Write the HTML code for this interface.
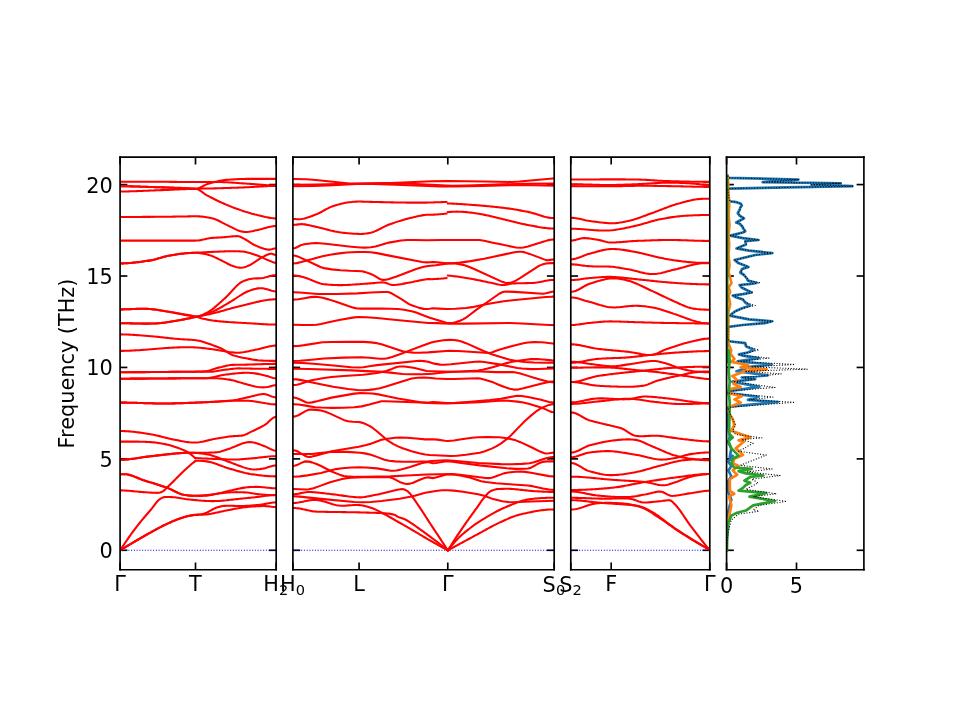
<!DOCTYPE html>
<html><head><meta charset="utf-8"><style>html,body{margin:0;padding:0;background:#fff;}svg{display:block;}</style></head><body>
<svg width="960" height="720" viewBox="0 0 460.8 345.6" version="1.1">
 
 <defs>
  <style type="text/css">*{stroke-linejoin: round; stroke-linecap: butt}</style>
 </defs>
 <g id="figure_1">
  <g id="patch_1">
   <path d="M 0 345.6 
L 460.8 345.6 
L 460.8 0 
L 0 0 
z
" style="fill: #ffffff"/>
  </g>
  <g id="axes_1">
   <g id="patch_2">
    <path d="M 57.64 273.50 
L 132.57 273.50 
L 132.57 75.45 
L 57.64 75.45 
z
" style="fill: #ffffff"/>
   </g>
   <g id="matplotlib.axis_1">
    <g id="xtick_1">
     <g id="line2d_1">
      
      <g>
       <path d="M 0 0 L 0 -3.5" transform="translate(57.64 273.50)" style="stroke: #000000; stroke-width: 0.8"/>
      </g>
     </g>
     <g id="line2d_2">
      
      <g>
       <path d="M 0 0 L 0 3.5" transform="translate(57.64 75.45)" style="stroke: #000000; stroke-width: 0.8"/>
      </g>
     </g>
     <g id="text_1">
      
      <g transform="translate(54.84 284.60)">
       <text>
        <tspan x="0" y="-0.70" style="font-size: 10px; font-family: 'DejaVu Sans', sans-serif">Γ</tspan>
       </text>
      </g>
     </g>
    </g>
    <g id="xtick_2">
     <g id="line2d_3">
      <g>
       <path d="M 0 0 L 0 -3.5" transform="translate(93.84 273.50)" style="stroke: #000000; stroke-width: 0.8"/>
      </g>
     </g>
     <g id="line2d_4">
      <g>
       <path d="M 0 0 L 0 3.5" transform="translate(93.84 75.45)" style="stroke: #000000; stroke-width: 0.8"/>
      </g>
     </g>
     <g id="text_2">
      
      <g transform="translate(90.74 284.60)">
       <text>
        <tspan x="0" y="-0.70" style="font-size: 10px; font-family: 'DejaVu Sans', sans-serif">T</tspan>
       </text>
      </g>
     </g>
    </g>
    <g id="xtick_3">
     <g id="line2d_5">
      <g>
       <path d="M 0 0 L 0 -3.5" transform="translate(132.57 273.50)" style="stroke: #000000; stroke-width: 0.8"/>
      </g>
     </g>
     <g id="line2d_6">
      <g>
       <path d="M 0 0 L 0 3.5" transform="translate(132.57 75.45)" style="stroke: #000000; stroke-width: 0.8"/>
      </g>
     </g>
     <g id="text_3">
      
      <g transform="translate(126.37 284.60)">
       <text>
        <tspan x="0" y="-0.70" style="font-size: 10px; font-family: 'DejaVu Sans', sans-serif">H</tspan>
        <tspan x="7.61" y="0.93" style="font-size: 7px; font-family: 'DejaVu Sans', sans-serif">2</tspan>
       </text>
      </g>
     </g>
    </g>
   </g>
   <g id="matplotlib.axis_2">
    <g id="ytick_1">
     <g id="line2d_7">
      
      <g>
       <path d="M 0 0 L 3.5 0" transform="translate(57.64 264.14)" style="stroke: #000000; stroke-width: 0.8"/>
      </g>
     </g>
     <g id="line2d_8">
      
      <g>
       <path d="M 0 0 L -3.5 0" transform="translate(132.57 264.14)" style="stroke: #000000; stroke-width: 0.8"/>
      </g>
     </g>
     <g id="text_4">
      <text style="font-size: 10px; font-family: 'DejaVu Sans', sans-serif; text-anchor: end" x="54.14" y="267.94" transform="rotate(-0 54.14 267.94)">0</text>
     </g>
    </g>
    <g id="ytick_2">
     <g id="line2d_9">
      <g>
       <path d="M 0 0 L 3.5 0" transform="translate(57.64 220.26)" style="stroke: #000000; stroke-width: 0.8"/>
      </g>
     </g>
     <g id="line2d_10">
      <g>
       <path d="M 0 0 L -3.5 0" transform="translate(132.57 220.26)" style="stroke: #000000; stroke-width: 0.8"/>
      </g>
     </g>
     <g id="text_5">
      <text style="font-size: 10px; font-family: 'DejaVu Sans', sans-serif; text-anchor: end" x="54.14" y="224.05" transform="rotate(-0 54.14 224.05)">5</text>
     </g>
    </g>
    <g id="ytick_3">
     <g id="line2d_11">
      <g>
       <path d="M 0 0 L 3.5 0" transform="translate(57.64 176.37)" style="stroke: #000000; stroke-width: 0.8"/>
      </g>
     </g>
     <g id="line2d_12">
      <g>
       <path d="M 0 0 L -3.5 0" transform="translate(132.57 176.37)" style="stroke: #000000; stroke-width: 0.8"/>
      </g>
     </g>
     <g id="text_6">
      <text style="font-size: 10px; font-family: 'DejaVu Sans', sans-serif; text-anchor: end" x="54.14" y="180.17" transform="rotate(-0 54.14 180.17)">10</text>
     </g>
    </g>
    <g id="ytick_4">
     <g id="line2d_13">
      <g>
       <path d="M 0 0 L 3.5 0" transform="translate(57.64 132.49)" style="stroke: #000000; stroke-width: 0.8"/>
      </g>
     </g>
     <g id="line2d_14">
      <g>
       <path d="M 0 0 L -3.5 0" transform="translate(132.57 132.49)" style="stroke: #000000; stroke-width: 0.8"/>
      </g>
     </g>
     <g id="text_7">
      <text style="font-size: 10px; font-family: 'DejaVu Sans', sans-serif; text-anchor: end" x="54.14" y="136.29" transform="rotate(-0 54.14 136.29)">15</text>
     </g>
    </g>
    <g id="ytick_5">
     <g id="line2d_15">
      <g>
       <path d="M 0 0 L 3.5 0" transform="translate(57.64 88.60)" style="stroke: #000000; stroke-width: 0.8"/>
      </g>
     </g>
     <g id="line2d_16">
      <g>
       <path d="M 0 0 L -3.5 0" transform="translate(132.57 88.60)" style="stroke: #000000; stroke-width: 0.8"/>
      </g>
     </g>
     <g id="text_8">
      <text style="font-size: 10px; font-family: 'DejaVu Sans', sans-serif; text-anchor: end" x="54.14" y="92.40" transform="rotate(-0 54.14 92.40)">20</text>
     </g>
    </g>
    <g id="text_9">
     <text style="font-size: 10px; font-family: 'DejaVu Sans', sans-serif; text-anchor: middle" x="35.34" y="174.48" transform="rotate(-90 35.34 174.48)">Frequency (THz)</text>
    </g>
   </g>
   <g id="line2d_17">
    <path d="M 57.64 264.14 
L 132.57 264.14 
" clip-path="url(#p3bd749fe86)" style="fill: none; stroke-dasharray: 0.5,0.82; stroke-dashoffset: 0; stroke: #0000ff; stroke-width: 0.5"/>
   </g>
   <g id="line2d_18">
    <path d="M 57.64 87.21 
L 58.37 87.21 
L 59.10 87.21 
L 59.83 87.21 
L 60.55 87.21 
L 61.28 87.21 
L 62.01 87.21 
L 62.74 87.21 
L 63.46 87.21 
L 64.19 87.21 
L 64.92 87.21 
L 65.65 87.21 
L 66.37 87.21 
L 67.10 87.21 
L 67.83 87.21 
L 68.55 87.21 
L 69.28 87.21 
L 70.01 87.22 
L 70.74 87.22 
L 71.46 87.22 
L 72.19 87.23 
L 72.92 87.23 
L 73.65 87.23 
L 74.37 87.24 
L 75.10 87.24 
L 75.83 87.25 
L 76.56 87.25 
L 77.28 87.26 
L 78.01 87.26 
L 78.74 87.27 
L 79.47 87.27 
L 80.19 87.28 
L 80.92 87.28 
L 81.65 87.29 
L 82.38 87.29 
L 83.10 87.30 
L 83.83 87.30 
L 84.56 87.31 
L 85.29 87.32 
L 86.01 87.32 
L 86.74 87.33 
L 87.47 87.33 
L 88.20 87.34 
L 88.92 87.34 
L 89.65 87.35 
L 90.38 87.35 
L 91.11 87.35 
L 91.83 87.36 
L 92.56 87.36 
L 93.29 87.36 
L 94.02 87.36 
L 94.74 87.36 
L 95.47 87.36 
L 96.20 87.36 
L 96.93 87.36 
L 97.65 87.35 
L 98.38 87.35 
L 99.11 87.35 
L 99.84 87.35 
L 100.56 87.35 
L 101.29 87.35 
L 102.02 87.35 
L 102.75 87.35 
L 103.47 87.35 
L 104.20 87.35 
L 104.93 87.36 
L 105.66 87.37 
L 106.38 87.39 
L 107.11 87.41 
L 107.84 87.44 
L 108.56 87.48 
L 109.29 87.51 
L 110.02 87.56 
L 110.75 87.60 
L 111.47 87.65 
L 112.20 87.70 
L 112.93 87.76 
L 113.66 87.81 
L 114.38 87.86 
L 115.11 87.92 
L 115.84 87.97 
L 116.57 88.02 
L 117.29 88.07 
L 118.02 88.11 
L 118.75 88.16 
L 119.48 88.21 
L 120.20 88.26 
L 120.93 88.32 
L 121.66 88.38 
L 122.39 88.44 
L 123.11 88.50 
L 123.84 88.56 
L 124.57 88.62 
L 125.30 88.68 
L 126.02 88.74 
L 126.75 88.79 
L 127.48 88.84 
L 128.21 88.89 
L 128.93 88.93 
L 129.66 88.97 
L 130.39 89.00 
L 131.12 89.02 
L 131.84 89.03 
L 132.57 89.04 
" clip-path="url(#p3bd749fe86)" style="fill: none; stroke: #ff0000; stroke-linecap: square"/>
   </g>
   <g id="line2d_19">
    <path d="M 57.64 89.4 
L 58.37 89.40 
L 59.10 89.40 
L 59.83 89.41 
L 60.55 89.42 
L 61.28 89.43 
L 62.01 89.44 
L 62.74 89.46 
L 63.46 89.47 
L 64.19 89.49 
L 64.92 89.51 
L 65.65 89.53 
L 66.37 89.56 
L 67.10 89.58 
L 67.83 89.60 
L 68.55 89.63 
L 69.28 89.65 
L 70.01 89.68 
L 70.74 89.70 
L 71.46 89.73 
L 72.19 89.75 
L 72.92 89.78 
L 73.65 89.80 
L 74.37 89.83 
L 75.10 89.85 
L 75.83 89.87 
L 76.56 89.89 
L 77.28 89.91 
L 78.01 89.94 
L 78.74 89.96 
L 79.47 90.00 
L 80.19 90.03 
L 80.92 90.06 
L 81.65 90.10 
L 82.38 90.14 
L 83.10 90.18 
L 83.83 90.22 
L 84.56 90.26 
L 85.29 90.30 
L 86.01 90.34 
L 86.74 90.37 
L 87.47 90.41 
L 88.20 90.44 
L 88.92 90.48 
L 89.65 90.50 
L 90.38 90.53 
L 91.11 90.55 
L 91.83 90.57 
L 92.56 90.58 
L 93.29 90.59 
L 94.02 90.59 
L 94.74 90.50 
L 95.47 90.28 
L 96.20 89.98 
L 96.93 89.63 
L 97.65 89.24 
L 98.38 88.86 
L 99.11 88.51 
L 99.84 88.23 
L 100.56 88.03 
L 101.29 87.83 
L 102.02 87.64 
L 102.75 87.46 
L 103.47 87.28 
L 104.20 87.10 
L 104.93 86.94 
L 105.66 86.79 
L 106.38 86.65 
L 107.11 86.53 
L 107.84 86.43 
L 108.56 86.35 
L 109.29 86.29 
L 110.02 86.24 
L 110.75 86.19 
L 111.47 86.15 
L 112.20 86.10 
L 112.93 86.06 
L 113.66 86.02 
L 114.38 85.98 
L 115.11 85.95 
L 115.84 85.92 
L 116.57 85.90 
L 117.29 85.88 
L 118.02 85.87 
L 118.75 85.86 
L 119.48 85.86 
L 120.20 85.85 
L 120.93 85.85 
L 121.66 85.85 
L 122.39 85.85 
L 123.11 85.85 
L 123.84 85.85 
L 124.57 85.85 
L 125.30 85.85 
L 126.02 85.85 
L 126.75 85.85 
L 127.48 85.86 
L 128.21 85.86 
L 128.93 85.86 
L 129.66 85.86 
L 130.39 85.86 
L 131.12 85.87 
L 131.84 85.87 
L 132.57 85.87 
" clip-path="url(#p3bd749fe86)" style="fill: none; stroke: #ff0000; stroke-linecap: square"/>
   </g>
   <g id="line2d_20">
    <path d="M 57.64 91.92 
L 58.37 91.91 
L 59.10 91.91 
L 59.83 91.90 
L 60.55 91.89 
L 61.28 91.88 
L 62.01 91.86 
L 62.74 91.84 
L 63.46 91.82 
L 64.19 91.80 
L 64.92 91.77 
L 65.65 91.75 
L 66.37 91.72 
L 67.10 91.69 
L 67.83 91.66 
L 68.55 91.63 
L 69.28 91.60 
L 70.01 91.57 
L 70.74 91.54 
L 71.46 91.51 
L 72.19 91.48 
L 72.92 91.45 
L 73.65 91.42 
L 74.37 91.38 
L 75.10 91.36 
L 75.83 91.33 
L 76.56 91.30 
L 77.28 91.27 
L 78.01 91.25 
L 78.74 91.22 
L 79.47 91.19 
L 80.19 91.16 
L 80.92 91.13 
L 81.65 91.09 
L 82.38 91.06 
L 83.10 91.03 
L 83.83 91.00 
L 84.56 90.97 
L 85.29 90.93 
L 86.01 90.90 
L 86.74 90.87 
L 87.47 90.84 
L 88.20 90.81 
L 88.92 90.78 
L 89.65 90.75 
L 90.38 90.72 
L 91.11 90.69 
L 91.83 90.66 
L 92.56 90.64 
L 93.29 90.61 
L 94.02 90.59 
L 94.74 90.57 
L 95.47 90.55 
L 96.20 90.54 
L 96.93 90.52 
L 97.65 90.51 
L 98.38 90.50 
L 99.11 90.49 
L 99.84 90.48 
L 100.56 90.46 
L 101.29 90.45 
L 102.02 90.44 
L 102.75 90.42 
L 103.47 90.41 
L 104.20 90.39 
L 104.93 90.37 
L 105.66 90.35 
L 106.38 90.33 
L 107.11 90.31 
L 107.84 90.28 
L 108.56 90.26 
L 109.29 90.24 
L 110.02 90.21 
L 110.75 90.18 
L 111.47 90.16 
L 112.20 90.13 
L 112.93 90.10 
L 113.66 90.08 
L 114.38 90.05 
L 115.11 90.02 
L 115.84 89.99 
L 116.57 89.96 
L 117.29 89.93 
L 118.02 89.90 
L 118.75 89.87 
L 119.48 89.84 
L 120.20 89.80 
L 120.93 89.76 
L 121.66 89.72 
L 122.39 89.68 
L 123.11 89.63 
L 123.84 89.58 
L 124.57 89.54 
L 125.30 89.50 
L 126.02 89.45 
L 126.75 89.41 
L 127.48 89.37 
L 128.21 89.34 
L 128.93 89.31 
L 129.66 89.28 
L 130.39 89.26 
L 131.12 89.24 
L 131.84 89.23 
L 132.57 89.23 
" clip-path="url(#p3bd749fe86)" style="fill: none; stroke: #ff0000; stroke-linecap: square"/>
   </g>
   <g id="line2d_21">
    <path d="M 57.64 89.4 
L 58.37 89.40 
L 59.10 89.40 
L 59.83 89.41 
L 60.55 89.42 
L 61.28 89.43 
L 62.01 89.44 
L 62.74 89.46 
L 63.46 89.47 
L 64.19 89.49 
L 64.92 89.51 
L 65.65 89.53 
L 66.37 89.56 
L 67.10 89.58 
L 67.83 89.60 
L 68.55 89.63 
L 69.28 89.65 
L 70.01 89.68 
L 70.74 89.70 
L 71.46 89.73 
L 72.19 89.75 
L 72.92 89.78 
L 73.65 89.80 
L 74.37 89.83 
L 75.10 89.85 
L 75.83 89.87 
L 76.56 89.89 
L 77.28 89.91 
L 78.01 89.93 
L 78.74 89.95 
L 79.47 89.97 
L 80.19 89.99 
L 80.92 90.00 
L 81.65 90.02 
L 82.38 90.04 
L 83.10 90.06 
L 83.83 90.09 
L 84.56 90.11 
L 85.29 90.13 
L 86.01 90.16 
L 86.74 90.19 
L 87.47 90.22 
L 88.20 90.25 
L 88.92 90.28 
L 89.65 90.32 
L 90.38 90.36 
L 91.11 90.40 
L 91.83 90.45 
L 92.56 90.50 
L 93.29 90.55 
L 94.02 90.61 
L 94.74 90.79 
L 95.47 91.13 
L 96.20 91.57 
L 96.93 92.08 
L 97.65 92.62 
L 98.38 93.15 
L 99.11 93.62 
L 99.84 94.02 
L 100.56 94.40 
L 101.29 94.78 
L 102.02 95.16 
L 102.75 95.53 
L 103.47 95.90 
L 104.20 96.26 
L 104.93 96.60 
L 105.66 96.94 
L 106.38 97.27 
L 107.11 97.59 
L 107.84 97.90 
L 108.56 98.22 
L 109.29 98.52 
L 110.02 98.83 
L 110.75 99.12 
L 111.47 99.41 
L 112.20 99.69 
L 112.93 99.97 
L 113.66 100.23 
L 114.38 100.49 
L 115.11 100.74 
L 115.84 100.98 
L 116.57 101.23 
L 117.29 101.47 
L 118.02 101.70 
L 118.75 101.93 
L 119.48 102.16 
L 120.20 102.37 
L 120.93 102.58 
L 121.66 102.77 
L 122.39 102.96 
L 123.11 103.13 
L 123.84 103.29 
L 124.57 103.46 
L 125.30 103.64 
L 126.02 103.82 
L 126.75 103.99 
L 127.48 104.16 
L 128.21 104.31 
L 128.93 104.45 
L 129.66 104.58 
L 130.39 104.68 
L 131.12 104.76 
L 131.84 104.81 
L 132.57 104.83 
" clip-path="url(#p3bd749fe86)" style="fill: none; stroke: #ff0000; stroke-linecap: square"/>
   </g>
   <g id="line2d_22">
    <path d="M 57.64 104.16 
L 58.37 104.15 
L 59.10 104.15 
L 59.83 104.15 
L 60.55 104.15 
L 61.28 104.15 
L 62.01 104.15 
L 62.74 104.14 
L 63.46 104.14 
L 64.19 104.14 
L 64.92 104.13 
L 65.65 104.13 
L 66.37 104.13 
L 67.10 104.12 
L 67.83 104.12 
L 68.55 104.11 
L 69.28 104.11 
L 70.01 104.10 
L 70.74 104.10 
L 71.46 104.09 
L 72.19 104.09 
L 72.92 104.08 
L 73.65 104.08 
L 74.37 104.07 
L 75.10 104.07 
L 75.83 104.06 
L 76.56 104.06 
L 77.28 104.06 
L 78.01 104.05 
L 78.74 104.04 
L 79.47 104.04 
L 80.19 104.03 
L 80.92 104.02 
L 81.65 104.01 
L 82.38 104.00 
L 83.10 103.99 
L 83.83 103.97 
L 84.56 103.96 
L 85.29 103.95 
L 86.01 103.94 
L 86.74 103.92 
L 87.47 103.91 
L 88.20 103.90 
L 88.92 103.89 
L 89.65 103.88 
L 90.38 103.86 
L 91.11 103.85 
L 91.83 103.84 
L 92.56 103.83 
L 93.29 103.83 
L 94.02 103.82 
L 94.74 103.83 
L 95.47 103.85 
L 96.20 103.90 
L 96.93 103.97 
L 97.65 104.05 
L 98.38 104.15 
L 99.11 104.27 
L 99.84 104.39 
L 100.56 104.53 
L 101.29 104.68 
L 102.02 104.84 
L 102.75 105.05 
L 103.47 105.31 
L 104.20 105.62 
L 104.93 105.96 
L 105.66 106.33 
L 106.38 106.71 
L 107.11 107.10 
L 107.84 107.48 
L 108.56 107.84 
L 109.29 108.17 
L 110.02 108.53 
L 110.75 108.90 
L 111.47 109.28 
L 112.20 109.65 
L 112.93 110.00 
L 113.66 110.33 
L 114.38 110.62 
L 115.11 110.87 
L 115.84 111.06 
L 116.57 111.20 
L 117.29 111.31 
L 118.02 111.35 
L 118.75 111.33 
L 119.48 111.24 
L 120.20 111.12 
L 120.93 110.99 
L 121.66 110.84 
L 122.39 110.68 
L 123.11 110.52 
L 123.84 110.37 
L 124.57 110.21 
L 125.30 110.02 
L 126.02 109.82 
L 126.75 109.61 
L 127.48 109.41 
L 128.21 109.20 
L 128.93 109.01 
L 129.66 108.83 
L 130.39 108.69 
L 131.12 108.57 
L 131.84 108.50 
L 132.57 108.48 
" clip-path="url(#p3bd749fe86)" style="fill: none; stroke: #ff0000; stroke-linecap: square"/>
   </g>
   <g id="line2d_23">
    <path d="M 57.64 115.48 
L 58.37 115.48 
L 59.10 115.48 
L 59.83 115.48 
L 60.55 115.48 
L 61.28 115.48 
L 62.01 115.48 
L 62.74 115.48 
L 63.46 115.48 
L 64.19 115.48 
L 64.92 115.48 
L 65.65 115.48 
L 66.37 115.48 
L 67.10 115.48 
L 67.83 115.48 
L 68.55 115.48 
L 69.28 115.48 
L 70.01 115.48 
L 70.74 115.48 
L 71.46 115.48 
L 72.19 115.48 
L 72.92 115.48 
L 73.65 115.48 
L 74.37 115.48 
L 75.10 115.48 
L 75.83 115.48 
L 76.56 115.48 
L 77.28 115.48 
L 78.01 115.48 
L 78.74 115.48 
L 79.47 115.48 
L 80.19 115.48 
L 80.92 115.48 
L 81.65 115.48 
L 82.38 115.48 
L 83.10 115.48 
L 83.83 115.48 
L 84.56 115.48 
L 85.29 115.48 
L 86.01 115.48 
L 86.74 115.48 
L 87.47 115.48 
L 88.20 115.48 
L 88.92 115.48 
L 89.65 115.48 
L 90.38 115.48 
L 91.11 115.48 
L 91.83 115.48 
L 92.56 115.48 
L 93.29 115.48 
L 94.02 115.48 
L 94.74 115.45 
L 95.47 115.37 
L 96.20 115.26 
L 96.93 115.13 
L 97.65 114.98 
L 98.38 114.82 
L 99.11 114.65 
L 99.84 114.50 
L 100.56 114.37 
L 101.29 114.26 
L 102.02 114.18 
L 102.75 114.13 
L 103.47 114.09 
L 104.20 114.06 
L 104.93 114.03 
L 105.66 113.99 
L 106.38 113.94 
L 107.11 113.88 
L 107.84 113.81 
L 108.56 113.74 
L 109.29 113.67 
L 110.02 113.60 
L 110.75 113.53 
L 111.47 113.46 
L 112.20 113.41 
L 112.93 113.36 
L 113.66 113.33 
L 114.38 113.36 
L 115.11 113.56 
L 115.84 113.90 
L 116.57 114.30 
L 117.29 114.68 
L 118.02 115.08 
L 118.75 115.53 
L 119.48 116.00 
L 120.20 116.48 
L 120.93 116.94 
L 121.66 117.35 
L 122.39 117.70 
L 123.11 118.03 
L 123.84 118.34 
L 124.57 118.64 
L 125.30 118.92 
L 126.02 119.17 
L 126.75 119.39 
L 127.48 119.58 
L 128.21 119.73 
L 128.93 119.83 
L 129.66 119.81 
L 130.39 119.65 
L 131.12 119.44 
L 131.84 119.26 
L 132.57 119.18 
" clip-path="url(#p3bd749fe86)" style="fill: none; stroke: #ff0000; stroke-linecap: square"/>
   </g>
   <g id="line2d_24">
    <path d="M 57.64 126.43 
L 58.37 126.42 
L 59.10 126.41 
L 59.83 126.38 
L 60.55 126.35 
L 61.28 126.31 
L 62.01 126.26 
L 62.74 126.20 
L 63.46 126.14 
L 64.19 126.07 
L 64.92 125.99 
L 65.65 125.91 
L 66.37 125.82 
L 67.10 125.73 
L 67.83 125.63 
L 68.55 125.53 
L 69.28 125.43 
L 70.01 125.32 
L 70.74 125.21 
L 71.46 125.10 
L 72.19 124.99 
L 72.92 124.86 
L 73.65 124.70 
L 74.37 124.52 
L 75.10 124.33 
L 75.83 124.12 
L 76.56 123.90 
L 77.28 123.69 
L 78.01 123.48 
L 78.74 123.28 
L 79.47 123.09 
L 80.19 122.92 
L 80.92 122.78 
L 81.65 122.65 
L 82.38 122.51 
L 83.10 122.39 
L 83.83 122.26 
L 84.56 122.14 
L 85.29 122.03 
L 86.01 121.92 
L 86.74 121.82 
L 87.47 121.74 
L 88.20 121.66 
L 88.92 121.60 
L 89.65 121.55 
L 90.38 121.50 
L 91.11 121.46 
L 91.83 121.42 
L 92.56 121.38 
L 93.29 121.34 
L 94.02 121.31 
L 94.74 121.27 
L 95.47 121.23 
L 96.20 121.20 
L 96.93 121.16 
L 97.65 121.12 
L 98.38 121.09 
L 99.11 121.05 
L 99.84 121.01 
L 100.56 120.98 
L 101.29 120.94 
L 102.02 120.90 
L 102.75 120.87 
L 103.47 120.84 
L 104.20 120.80 
L 104.93 120.77 
L 105.66 120.74 
L 106.38 120.71 
L 107.11 120.68 
L 107.84 120.66 
L 108.56 120.64 
L 109.29 120.63 
L 110.02 120.62 
L 110.75 120.62 
L 111.47 120.61 
L 112.20 120.62 
L 112.93 120.62 
L 113.66 120.63 
L 114.38 120.64 
L 115.11 120.66 
L 115.84 120.68 
L 116.57 120.74 
L 117.29 120.86 
L 118.02 121.01 
L 118.75 121.18 
L 119.48 121.37 
L 120.20 121.57 
L 120.93 121.77 
L 121.66 121.99 
L 122.39 122.24 
L 123.11 122.50 
L 123.84 122.79 
L 124.57 123.08 
L 125.30 123.37 
L 126.02 123.67 
L 126.75 124.01 
L 127.48 124.36 
L 128.21 124.69 
L 128.93 124.99 
L 129.66 125.29 
L 130.39 125.59 
L 131.12 125.87 
L 131.84 126.06 
L 132.57 126.14 
" clip-path="url(#p3bd749fe86)" style="fill: none; stroke: #ff0000; stroke-linecap: square"/>
   </g>
   <g id="line2d_25">
    <path d="M 57.64 126.43 
L 58.37 126.42 
L 59.10 126.41 
L 59.83 126.38 
L 60.55 126.35 
L 61.28 126.31 
L 62.01 126.26 
L 62.74 126.20 
L 63.46 126.14 
L 64.19 126.07 
L 64.92 125.99 
L 65.65 125.91 
L 66.37 125.82 
L 67.10 125.73 
L 67.83 125.63 
L 68.55 125.53 
L 69.28 125.43 
L 70.01 125.32 
L 70.74 125.21 
L 71.46 125.10 
L 72.19 124.99 
L 72.92 124.86 
L 73.65 124.70 
L 74.37 124.52 
L 75.10 124.33 
L 75.83 124.12 
L 76.56 123.90 
L 77.28 123.69 
L 78.01 123.48 
L 78.74 123.28 
L 79.47 123.09 
L 80.19 122.92 
L 80.92 122.78 
L 81.65 122.65 
L 82.38 122.52 
L 83.10 122.40 
L 83.83 122.28 
L 84.56 122.17 
L 85.29 122.06 
L 86.01 121.96 
L 86.74 121.86 
L 87.47 121.77 
L 88.20 121.68 
L 88.92 121.60 
L 89.65 121.53 
L 90.38 121.47 
L 91.11 121.42 
L 91.83 121.37 
L 92.56 121.34 
L 93.29 121.32 
L 94.02 121.32 
L 94.74 121.34 
L 95.47 121.40 
L 96.20 121.49 
L 96.93 121.61 
L 97.65 121.75 
L 98.38 121.91 
L 99.11 122.09 
L 99.84 122.27 
L 100.56 122.46 
L 101.29 122.70 
L 102.02 122.98 
L 102.75 123.30 
L 103.47 123.64 
L 104.20 123.99 
L 104.93 124.36 
L 105.66 124.72 
L 106.38 125.06 
L 107.11 125.43 
L 107.84 125.82 
L 108.56 126.22 
L 109.29 126.61 
L 110.02 126.98 
L 110.75 127.31 
L 111.47 127.59 
L 112.20 127.84 
L 112.93 128.06 
L 113.66 128.24 
L 114.38 128.38 
L 115.11 128.47 
L 115.84 128.49 
L 116.57 128.41 
L 117.29 128.24 
L 118.02 128.02 
L 118.75 127.75 
L 119.48 127.44 
L 120.20 127.07 
L 120.93 126.65 
L 121.66 126.19 
L 122.39 125.70 
L 123.11 125.20 
L 123.84 124.72 
L 124.57 124.25 
L 125.30 123.82 
L 126.02 123.42 
L 126.75 123.02 
L 127.48 122.64 
L 128.21 122.29 
L 128.93 122.01 
L 129.66 121.81 
L 130.39 121.82 
L 131.12 122.01 
L 131.84 122.24 
L 132.57 122.35 
" clip-path="url(#p3bd749fe86)" style="fill: none; stroke: #ff0000; stroke-linecap: square"/>
   </g>
   <g id="line2d_26">
    <path d="M 57.64 148.51 
L 58.37 148.50 
L 59.10 148.49 
L 59.83 148.48 
L 60.55 148.46 
L 61.28 148.43 
L 62.01 148.40 
L 62.74 148.38 
L 63.46 148.35 
L 64.19 148.32 
L 64.92 148.29 
L 65.65 148.27 
L 66.37 148.25 
L 67.10 148.23 
L 67.83 148.23 
L 68.55 148.22 
L 69.28 148.23 
L 70.01 148.25 
L 70.74 148.27 
L 71.46 148.31 
L 72.19 148.36 
L 72.92 148.43 
L 73.65 148.51 
L 74.37 148.60 
L 75.10 148.70 
L 75.83 148.81 
L 76.56 148.93 
L 77.28 149.05 
L 78.01 149.17 
L 78.74 149.29 
L 79.47 149.42 
L 80.19 149.53 
L 80.92 149.65 
L 81.65 149.77 
L 82.38 149.90 
L 83.10 150.03 
L 83.83 150.17 
L 84.56 150.31 
L 85.29 150.46 
L 86.01 150.61 
L 86.74 150.75 
L 87.47 150.90 
L 88.20 151.04 
L 88.92 151.18 
L 89.65 151.31 
L 90.38 151.44 
L 91.11 151.56 
L 91.83 151.67 
L 92.56 151.77 
L 93.29 151.85 
L 94.02 151.93 
L 94.74 151.91 
L 95.47 151.78 
L 96.20 151.57 
L 96.93 151.28 
L 97.65 150.94 
L 98.38 150.57 
L 99.11 150.19 
L 99.84 149.81 
L 100.56 149.37 
L 101.29 148.88 
L 102.02 148.35 
L 102.75 147.77 
L 103.47 147.17 
L 104.20 146.54 
L 104.93 145.89 
L 105.66 145.23 
L 106.38 144.58 
L 107.11 143.92 
L 107.84 143.28 
L 108.56 142.62 
L 109.29 141.89 
L 110.02 141.12 
L 110.75 140.32 
L 111.47 139.51 
L 112.20 138.71 
L 112.93 137.94 
L 113.66 137.21 
L 114.38 136.54 
L 115.11 135.95 
L 115.84 135.46 
L 116.57 135.08 
L 117.29 134.77 
L 118.02 134.50 
L 118.75 134.26 
L 119.48 134.07 
L 120.20 133.91 
L 120.93 133.79 
L 121.66 133.71 
L 122.39 133.66 
L 123.11 133.63 
L 123.84 133.61 
L 124.57 133.58 
L 125.30 133.53 
L 126.02 133.44 
L 126.75 133.31 
L 127.48 133.13 
L 128.21 132.93 
L 128.93 132.72 
L 129.66 132.51 
L 130.39 132.33 
L 131.12 132.18 
L 131.84 132.08 
L 132.57 132.04 
" clip-path="url(#p3bd749fe86)" style="fill: none; stroke: #ff0000; stroke-linecap: square"/>
   </g>
   <g id="line2d_27">
    <path d="M 57.64 155.13 
L 58.37 155.13 
L 59.10 155.14 
L 59.83 155.15 
L 60.55 155.16 
L 61.28 155.17 
L 62.01 155.19 
L 62.74 155.21 
L 63.46 155.22 
L 64.19 155.24 
L 64.92 155.26 
L 65.65 155.28 
L 66.37 155.29 
L 67.10 155.31 
L 67.83 155.32 
L 68.55 155.33 
L 69.28 155.33 
L 70.01 155.34 
L 70.74 155.34 
L 71.46 155.33 
L 72.19 155.32 
L 72.92 155.30 
L 73.65 155.28 
L 74.37 155.25 
L 75.10 155.22 
L 75.83 155.17 
L 76.56 155.12 
L 77.28 155.06 
L 78.01 154.98 
L 78.74 154.89 
L 79.47 154.79 
L 80.19 154.68 
L 80.92 154.57 
L 81.65 154.45 
L 82.38 154.32 
L 83.10 154.20 
L 83.83 154.07 
L 84.56 153.95 
L 85.29 153.83 
L 86.01 153.71 
L 86.74 153.58 
L 87.47 153.45 
L 88.20 153.32 
L 88.92 153.18 
L 89.65 153.04 
L 90.38 152.90 
L 91.11 152.75 
L 91.83 152.60 
L 92.56 152.44 
L 93.29 152.29 
L 94.02 152.13 
L 94.74 151.95 
L 95.47 151.77 
L 96.20 151.57 
L 96.93 151.37 
L 97.65 151.15 
L 98.38 150.91 
L 99.11 150.67 
L 99.84 150.42 
L 100.56 150.15 
L 101.29 149.87 
L 102.02 149.58 
L 102.75 149.27 
L 103.47 148.93 
L 104.20 148.56 
L 104.93 148.18 
L 105.66 147.77 
L 106.38 147.35 
L 107.11 146.93 
L 107.84 146.49 
L 108.56 146.06 
L 109.29 145.63 
L 110.02 145.20 
L 110.75 144.78 
L 111.47 144.34 
L 112.20 143.88 
L 112.93 143.40 
L 113.66 142.92 
L 114.38 142.44 
L 115.11 141.96 
L 115.84 141.50 
L 116.57 141.06 
L 117.29 140.65 
L 118.02 140.28 
L 118.75 139.95 
L 119.48 139.65 
L 120.20 139.38 
L 120.93 139.13 
L 121.66 138.90 
L 122.39 138.71 
L 123.11 138.55 
L 123.84 138.43 
L 124.57 138.35 
L 125.30 138.33 
L 126.02 138.38 
L 126.75 138.51 
L 127.48 138.69 
L 128.21 138.89 
L 128.93 139.12 
L 129.66 139.34 
L 130.39 139.55 
L 131.12 139.71 
L 131.84 139.83 
L 132.57 139.87 
" clip-path="url(#p3bd749fe86)" style="fill: none; stroke: #ff0000; stroke-linecap: square"/>
   </g>
   <g id="line2d_28">
    <path d="M 57.64 155.13 
L 58.37 155.13 
L 59.10 155.14 
L 59.83 155.15 
L 60.55 155.16 
L 61.28 155.17 
L 62.01 155.19 
L 62.74 155.21 
L 63.46 155.22 
L 64.19 155.24 
L 64.92 155.26 
L 65.65 155.28 
L 66.37 155.29 
L 67.10 155.31 
L 67.83 155.32 
L 68.55 155.33 
L 69.28 155.33 
L 70.01 155.34 
L 70.74 155.34 
L 71.46 155.33 
L 72.19 155.32 
L 72.92 155.30 
L 73.65 155.28 
L 74.37 155.25 
L 75.10 155.22 
L 75.83 155.17 
L 76.56 155.12 
L 77.28 155.06 
L 78.01 154.98 
L 78.74 154.90 
L 79.47 154.80 
L 80.19 154.69 
L 80.92 154.57 
L 81.65 154.45 
L 82.38 154.33 
L 83.10 154.20 
L 83.83 154.08 
L 84.56 153.95 
L 85.29 153.83 
L 86.01 153.70 
L 86.74 153.57 
L 87.47 153.43 
L 88.20 153.29 
L 88.92 153.15 
L 89.65 153.01 
L 90.38 152.86 
L 91.11 152.71 
L 91.83 152.57 
L 92.56 152.42 
L 93.29 152.27 
L 94.02 152.13 
L 94.74 151.98 
L 95.47 151.84 
L 96.20 151.69 
L 96.93 151.55 
L 97.65 151.40 
L 98.38 151.25 
L 99.11 151.10 
L 99.84 150.95 
L 100.56 150.79 
L 101.29 150.63 
L 102.02 150.46 
L 102.75 150.28 
L 103.47 150.10 
L 104.20 149.91 
L 104.93 149.72 
L 105.66 149.52 
L 106.38 149.31 
L 107.11 149.11 
L 107.84 148.90 
L 108.56 148.69 
L 109.29 148.48 
L 110.02 148.28 
L 110.75 148.07 
L 111.47 147.88 
L 112.20 147.68 
L 112.93 147.49 
L 113.66 147.31 
L 114.38 147.14 
L 115.11 146.98 
L 115.84 146.81 
L 116.57 146.63 
L 117.29 146.45 
L 118.02 146.27 
L 118.75 146.08 
L 119.48 145.90 
L 120.20 145.71 
L 120.93 145.52 
L 121.66 145.34 
L 122.39 145.16 
L 123.11 144.99 
L 123.84 144.82 
L 124.57 144.66 
L 125.30 144.50 
L 126.02 144.36 
L 126.75 144.22 
L 127.48 144.10 
L 128.21 143.99 
L 128.93 143.89 
L 129.66 143.81 
L 130.39 143.75 
L 131.12 143.70 
L 131.84 143.67 
L 132.57 143.66 
" clip-path="url(#p3bd749fe86)" style="fill: none; stroke: #ff0000; stroke-linecap: square"/>
   </g>
   <g id="line2d_29">
    <path d="M 57.64 148.51 
L 58.37 148.50 
L 59.10 148.49 
L 59.83 148.48 
L 60.55 148.46 
L 61.28 148.43 
L 62.01 148.40 
L 62.74 148.38 
L 63.46 148.35 
L 64.19 148.32 
L 64.92 148.29 
L 65.65 148.27 
L 66.37 148.25 
L 67.10 148.23 
L 67.83 148.23 
L 68.55 148.22 
L 69.28 148.23 
L 70.01 148.25 
L 70.74 148.27 
L 71.46 148.31 
L 72.19 148.36 
L 72.92 148.43 
L 73.65 148.51 
L 74.37 148.60 
L 75.10 148.70 
L 75.83 148.81 
L 76.56 148.92 
L 77.28 149.04 
L 78.01 149.17 
L 78.74 149.29 
L 79.47 149.41 
L 80.19 149.53 
L 80.92 149.65 
L 81.65 149.76 
L 82.38 149.88 
L 83.10 149.99 
L 83.83 150.11 
L 84.56 150.22 
L 85.29 150.34 
L 86.01 150.46 
L 86.74 150.58 
L 87.47 150.70 
L 88.20 150.83 
L 88.92 150.95 
L 89.65 151.08 
L 90.38 151.22 
L 91.11 151.35 
L 91.83 151.49 
L 92.56 151.64 
L 93.29 151.79 
L 94.02 151.94 
L 94.74 152.14 
L 95.47 152.37 
L 96.20 152.61 
L 96.93 152.83 
L 97.65 153.01 
L 98.38 153.16 
L 99.11 153.30 
L 99.84 153.44 
L 100.56 153.57 
L 101.29 153.69 
L 102.02 153.81 
L 102.75 153.92 
L 103.47 154.02 
L 104.20 154.11 
L 104.93 154.20 
L 105.66 154.27 
L 106.38 154.33 
L 107.11 154.38 
L 107.84 154.44 
L 108.56 154.49 
L 109.29 154.54 
L 110.02 154.60 
L 110.75 154.64 
L 111.47 154.69 
L 112.20 154.74 
L 112.93 154.79 
L 113.66 154.83 
L 114.38 154.88 
L 115.11 154.92 
L 115.84 154.96 
L 116.57 155.00 
L 117.29 155.04 
L 118.02 155.08 
L 118.75 155.12 
L 119.48 155.16 
L 120.20 155.20 
L 120.93 155.25 
L 121.66 155.29 
L 122.39 155.34 
L 123.11 155.39 
L 123.84 155.44 
L 124.57 155.48 
L 125.30 155.53 
L 126.02 155.57 
L 126.75 155.62 
L 127.48 155.65 
L 128.21 155.69 
L 128.93 155.72 
L 129.66 155.75 
L 130.39 155.77 
L 131.12 155.79 
L 131.84 155.80 
L 132.57 155.80 
" clip-path="url(#p3bd749fe86)" style="fill: none; stroke: #ff0000; stroke-linecap: square"/>
   </g>
   <g id="line2d_30">
    <path d="M 57.64 160.51 
L 58.37 160.51 
L 59.10 160.52 
L 59.83 160.54 
L 60.55 160.56 
L 61.28 160.59 
L 62.01 160.62 
L 62.74 160.66 
L 63.46 160.70 
L 64.19 160.75 
L 64.92 160.80 
L 65.65 160.85 
L 66.37 160.91 
L 67.10 160.96 
L 67.83 161.02 
L 68.55 161.08 
L 69.28 161.14 
L 70.01 161.20 
L 70.74 161.26 
L 71.46 161.31 
L 72.19 161.37 
L 72.92 161.43 
L 73.65 161.49 
L 74.37 161.56 
L 75.10 161.63 
L 75.83 161.70 
L 76.56 161.77 
L 77.28 161.85 
L 78.01 161.93 
L 78.74 162.01 
L 79.47 162.09 
L 80.19 162.17 
L 80.92 162.25 
L 81.65 162.33 
L 82.38 162.41 
L 83.10 162.48 
L 83.83 162.56 
L 84.56 162.63 
L 85.29 162.70 
L 86.01 162.76 
L 86.74 162.81 
L 87.47 162.86 
L 88.20 162.90 
L 88.92 162.94 
L 89.65 162.98 
L 90.38 163.02 
L 91.11 163.06 
L 91.83 163.11 
L 92.56 163.17 
L 93.29 163.23 
L 94.02 163.30 
L 94.74 163.40 
L 95.47 163.55 
L 96.20 163.73 
L 96.93 163.95 
L 97.65 164.19 
L 98.38 164.44 
L 99.11 164.68 
L 99.84 164.92 
L 100.56 165.15 
L 101.29 165.40 
L 102.02 165.65 
L 102.75 165.92 
L 103.47 166.19 
L 104.20 166.47 
L 104.93 166.77 
L 105.66 167.08 
L 106.38 167.40 
L 107.11 167.78 
L 107.84 168.22 
L 108.56 168.70 
L 109.29 169.17 
L 110.02 169.63 
L 110.75 170.03 
L 111.47 170.35 
L 112.20 170.60 
L 112.93 170.82 
L 113.66 171.03 
L 114.38 171.22 
L 115.11 171.39 
L 115.84 171.55 
L 116.57 171.70 
L 117.29 171.83 
L 118.02 171.97 
L 118.75 172.11 
L 119.48 172.25 
L 120.20 172.39 
L 120.93 172.52 
L 121.66 172.64 
L 122.39 172.75 
L 123.11 172.85 
L 123.84 172.94 
L 124.57 173.00 
L 125.30 173.05 
L 126.02 173.09 
L 126.75 173.13 
L 127.48 173.16 
L 128.21 173.18 
L 128.93 173.20 
L 129.66 173.21 
L 130.39 173.22 
L 131.12 173.22 
L 131.84 173.23 
L 132.57 173.23 
" clip-path="url(#p3bd749fe86)" style="fill: none; stroke: #ff0000; stroke-linecap: square"/>
   </g>
   <g id="line2d_31">
    <path d="M 57.64 168.43 
L 58.37 168.42 
L 59.10 168.42 
L 59.83 168.40 
L 60.55 168.39 
L 61.28 168.36 
L 62.01 168.34 
L 62.74 168.31 
L 63.46 168.27 
L 64.19 168.24 
L 64.92 168.19 
L 65.65 168.15 
L 66.37 168.10 
L 67.10 168.06 
L 67.83 168.00 
L 68.55 167.95 
L 69.28 167.90 
L 70.01 167.84 
L 70.74 167.78 
L 71.46 167.72 
L 72.19 167.66 
L 72.92 167.60 
L 73.65 167.54 
L 74.37 167.48 
L 75.10 167.42 
L 75.83 167.36 
L 76.56 167.31 
L 77.28 167.25 
L 78.01 167.19 
L 78.74 167.14 
L 79.47 167.08 
L 80.19 167.03 
L 80.92 166.98 
L 81.65 166.94 
L 82.38 166.89 
L 83.10 166.85 
L 83.83 166.82 
L 84.56 166.78 
L 85.29 166.75 
L 86.01 166.73 
L 86.74 166.70 
L 87.47 166.69 
L 88.20 166.67 
L 88.92 166.67 
L 89.65 166.66 
L 90.38 166.67 
L 91.11 166.68 
L 91.83 166.69 
L 92.56 166.71 
L 93.29 166.74 
L 94.02 166.78 
L 94.74 166.82 
L 95.47 166.88 
L 96.20 166.94 
L 96.93 167.01 
L 97.65 167.09 
L 98.38 167.18 
L 99.11 167.27 
L 99.84 167.36 
L 100.56 167.45 
L 101.29 167.55 
L 102.02 167.65 
L 102.75 167.75 
L 103.47 167.85 
L 104.20 167.96 
L 104.93 168.08 
L 105.66 168.21 
L 106.38 168.34 
L 107.11 168.47 
L 107.84 168.60 
L 108.56 168.73 
L 109.29 168.84 
L 110.02 168.95 
L 110.75 169.04 
L 111.47 169.13 
L 112.20 169.21 
L 112.93 169.27 
L 113.66 169.31 
L 114.38 169.31 
L 115.11 169.26 
L 115.84 169.19 
L 116.57 169.10 
L 117.29 168.99 
L 118.02 168.85 
L 118.75 168.71 
L 119.48 168.56 
L 120.20 168.40 
L 120.93 168.24 
L 121.66 168.08 
L 122.39 167.92 
L 123.11 167.77 
L 123.84 167.63 
L 124.57 167.46 
L 125.30 167.28 
L 126.02 167.09 
L 126.75 166.89 
L 127.48 166.70 
L 128.21 166.52 
L 128.93 166.35 
L 129.66 166.19 
L 130.39 166.07 
L 131.12 165.97 
L 131.84 165.91 
L 132.57 165.88 
" clip-path="url(#p3bd749fe86)" style="fill: none; stroke: #ff0000; stroke-linecap: square"/>
   </g>
   <g id="line2d_32">
    <path d="M 57.64 178.65 
L 58.37 178.65 
L 59.10 178.65 
L 59.83 178.65 
L 60.55 178.65 
L 61.28 178.65 
L 62.01 178.64 
L 62.74 178.64 
L 63.46 178.64 
L 64.19 178.64 
L 64.92 178.63 
L 65.65 178.63 
L 66.37 178.63 
L 67.10 178.62 
L 67.83 178.62 
L 68.55 178.61 
L 69.28 178.61 
L 70.01 178.61 
L 70.74 178.60 
L 71.46 178.60 
L 72.19 178.59 
L 72.92 178.59 
L 73.65 178.58 
L 74.37 178.57 
L 75.10 178.57 
L 75.83 178.56 
L 76.56 178.56 
L 77.28 178.55 
L 78.01 178.55 
L 78.74 178.54 
L 79.47 178.53 
L 80.19 178.53 
L 80.92 178.52 
L 81.65 178.52 
L 82.38 178.51 
L 83.10 178.50 
L 83.83 178.50 
L 84.56 178.49 
L 85.29 178.49 
L 86.01 178.48 
L 86.74 178.47 
L 87.47 178.47 
L 88.20 178.46 
L 88.92 178.46 
L 89.65 178.45 
L 90.38 178.44 
L 91.11 178.44 
L 91.83 178.42 
L 92.56 178.41 
L 93.29 178.40 
L 94.02 178.38 
L 94.74 178.36 
L 95.47 178.34 
L 96.20 178.31 
L 96.93 178.28 
L 97.65 178.25 
L 98.38 178.21 
L 99.11 178.14 
L 99.84 178.01 
L 100.56 177.83 
L 101.29 177.62 
L 102.02 177.38 
L 102.75 177.14 
L 103.47 176.90 
L 104.20 176.67 
L 104.93 176.46 
L 105.66 176.29 
L 106.38 176.12 
L 107.11 175.93 
L 107.84 175.76 
L 108.56 175.58 
L 109.29 175.43 
L 110.02 175.30 
L 110.75 175.21 
L 111.47 175.15 
L 112.20 175.13 
L 112.93 175.11 
L 113.66 175.10 
L 114.38 175.09 
L 115.11 175.09 
L 115.84 175.08 
L 116.57 175.07 
L 117.29 175.05 
L 118.02 175.03 
L 118.75 175.01 
L 119.48 174.99 
L 120.20 174.97 
L 120.93 174.95 
L 121.66 174.92 
L 122.39 174.90 
L 123.11 174.87 
L 123.84 174.85 
L 124.57 174.82 
L 125.30 174.80 
L 126.02 174.78 
L 126.75 174.76 
L 127.48 174.74 
L 128.21 174.72 
L 128.93 174.71 
L 129.66 174.69 
L 130.39 174.68 
L 131.12 174.67 
L 131.84 174.67 
L 132.57 174.67 
" clip-path="url(#p3bd749fe86)" style="fill: none; stroke: #ff0000; stroke-linecap: square"/>
   </g>
   <g id="line2d_33">
    <path d="M 57.64 178.65 
L 58.37 178.65 
L 59.10 178.65 
L 59.83 178.65 
L 60.55 178.65 
L 61.28 178.65 
L 62.01 178.64 
L 62.74 178.64 
L 63.46 178.64 
L 64.19 178.64 
L 64.92 178.63 
L 65.65 178.63 
L 66.37 178.62 
L 67.10 178.62 
L 67.83 178.62 
L 68.55 178.61 
L 69.28 178.61 
L 70.01 178.60 
L 70.74 178.60 
L 71.46 178.59 
L 72.19 178.59 
L 72.92 178.58 
L 73.65 178.57 
L 74.37 178.57 
L 75.10 178.56 
L 75.83 178.56 
L 76.56 178.55 
L 77.28 178.54 
L 78.01 178.54 
L 78.74 178.53 
L 79.47 178.53 
L 80.19 178.52 
L 80.92 178.51 
L 81.65 178.51 
L 82.38 178.50 
L 83.10 178.50 
L 83.83 178.49 
L 84.56 178.49 
L 85.29 178.48 
L 86.01 178.48 
L 86.74 178.47 
L 87.47 178.47 
L 88.20 178.46 
L 88.92 178.46 
L 89.65 178.46 
L 90.38 178.45 
L 91.11 178.45 
L 91.83 178.45 
L 92.56 178.46 
L 93.29 178.46 
L 94.02 178.46 
L 94.74 178.46 
L 95.47 178.46 
L 96.20 178.47 
L 96.93 178.47 
L 97.65 178.47 
L 98.38 178.47 
L 99.11 178.47 
L 99.84 178.46 
L 100.56 178.46 
L 101.29 178.44 
L 102.02 178.38 
L 102.75 178.30 
L 103.47 178.20 
L 104.20 178.08 
L 104.93 177.95 
L 105.66 177.82 
L 106.38 177.70 
L 107.11 177.59 
L 107.84 177.50 
L 108.56 177.41 
L 109.29 177.32 
L 110.02 177.22 
L 110.75 177.13 
L 111.47 177.05 
L 112.20 176.97 
L 112.93 176.91 
L 113.66 176.86 
L 114.38 176.83 
L 115.11 176.83 
L 115.84 176.84 
L 116.57 176.85 
L 117.29 176.86 
L 118.02 176.88 
L 118.75 176.90 
L 119.48 176.92 
L 120.20 176.94 
L 120.93 176.95 
L 121.66 176.97 
L 122.39 176.97 
L 123.11 176.98 
L 123.84 176.99 
L 124.57 177.00 
L 125.30 177.01 
L 126.02 177.02 
L 126.75 177.03 
L 127.48 177.03 
L 128.21 177.04 
L 128.93 177.05 
L 129.66 177.05 
L 130.39 177.06 
L 131.12 177.06 
L 131.84 177.07 
L 132.57 177.07 
" clip-path="url(#p3bd749fe86)" style="fill: none; stroke: #ff0000; stroke-linecap: square"/>
   </g>
   <g id="line2d_34">
    <path d="M 57.64 181.77 
L 58.37 181.77 
L 59.10 181.77 
L 59.83 181.77 
L 60.55 181.77 
L 61.28 181.77 
L 62.01 181.76 
L 62.74 181.76 
L 63.46 181.76 
L 64.19 181.76 
L 64.92 181.75 
L 65.65 181.75 
L 66.37 181.74 
L 67.10 181.74 
L 67.83 181.74 
L 68.55 181.73 
L 69.28 181.73 
L 70.01 181.72 
L 70.74 181.72 
L 71.46 181.71 
L 72.19 181.71 
L 72.92 181.70 
L 73.65 181.69 
L 74.37 181.69 
L 75.10 181.68 
L 75.83 181.68 
L 76.56 181.67 
L 77.28 181.66 
L 78.01 181.66 
L 78.74 181.65 
L 79.47 181.65 
L 80.19 181.64 
L 80.92 181.64 
L 81.65 181.63 
L 82.38 181.62 
L 83.10 181.62 
L 83.83 181.61 
L 84.56 181.61 
L 85.29 181.60 
L 86.01 181.60 
L 86.74 181.59 
L 87.47 181.59 
L 88.20 181.58 
L 88.92 181.58 
L 89.65 181.58 
L 90.38 181.57 
L 91.11 181.57 
L 91.83 181.58 
L 92.56 181.58 
L 93.29 181.58 
L 94.02 181.58 
L 94.74 181.58 
L 95.47 181.59 
L 96.20 181.59 
L 96.93 181.59 
L 97.65 181.58 
L 98.38 181.58 
L 99.11 181.55 
L 99.84 181.48 
L 100.56 181.38 
L 101.29 181.26 
L 102.02 181.11 
L 102.75 180.96 
L 103.47 180.79 
L 104.20 180.62 
L 104.93 180.45 
L 105.66 180.28 
L 106.38 180.13 
L 107.11 180.00 
L 107.84 179.89 
L 108.56 179.80 
L 109.29 179.70 
L 110.02 179.61 
L 110.75 179.52 
L 111.47 179.43 
L 112.20 179.34 
L 112.93 179.26 
L 113.66 179.19 
L 114.38 179.12 
L 115.11 179.06 
L 115.84 179.01 
L 116.57 178.97 
L 117.29 178.94 
L 118.02 178.93 
L 118.75 178.93 
L 119.48 178.96 
L 120.20 179.01 
L 120.93 179.07 
L 121.66 179.14 
L 122.39 179.22 
L 123.11 179.33 
L 123.84 179.47 
L 124.57 179.62 
L 125.30 179.79 
L 126.02 179.96 
L 126.75 180.13 
L 127.48 180.31 
L 128.21 180.53 
L 128.93 180.77 
L 129.66 181.01 
L 130.39 181.23 
L 131.12 181.41 
L 131.84 181.53 
L 132.57 181.58 
" clip-path="url(#p3bd749fe86)" style="fill: none; stroke: #ff0000; stroke-linecap: square"/>
   </g>
   <g id="line2d_35">
    <path d="M 57.64 181.77 
L 58.37 181.77 
L 59.10 181.77 
L 59.83 181.77 
L 60.55 181.77 
L 61.28 181.77 
L 62.01 181.76 
L 62.74 181.76 
L 63.46 181.76 
L 64.19 181.76 
L 64.92 181.75 
L 65.65 181.75 
L 66.37 181.74 
L 67.10 181.74 
L 67.83 181.74 
L 68.55 181.73 
L 69.28 181.73 
L 70.01 181.72 
L 70.74 181.72 
L 71.46 181.71 
L 72.19 181.70 
L 72.92 181.70 
L 73.65 181.69 
L 74.37 181.69 
L 75.10 181.68 
L 75.83 181.68 
L 76.56 181.67 
L 77.28 181.66 
L 78.01 181.66 
L 78.74 181.65 
L 79.47 181.65 
L 80.19 181.64 
L 80.92 181.63 
L 81.65 181.63 
L 82.38 181.62 
L 83.10 181.62 
L 83.83 181.61 
L 84.56 181.61 
L 85.29 181.60 
L 86.01 181.60 
L 86.74 181.59 
L 87.47 181.59 
L 88.20 181.58 
L 88.92 181.58 
L 89.65 181.57 
L 90.38 181.57 
L 91.11 181.57 
L 91.83 181.57 
L 92.56 181.57 
L 93.29 181.56 
L 94.02 181.56 
L 94.74 181.56 
L 95.47 181.56 
L 96.20 181.57 
L 96.93 181.57 
L 97.65 181.57 
L 98.38 181.57 
L 99.11 181.57 
L 99.84 181.57 
L 100.56 181.57 
L 101.29 181.57 
L 102.02 181.58 
L 102.75 181.58 
L 103.47 181.58 
L 104.20 181.60 
L 104.93 181.64 
L 105.66 181.69 
L 106.38 181.76 
L 107.11 181.84 
L 107.84 181.92 
L 108.56 182.02 
L 109.29 182.12 
L 110.02 182.23 
L 110.75 182.35 
L 111.47 182.51 
L 112.20 182.69 
L 112.93 182.89 
L 113.66 183.10 
L 114.38 183.32 
L 115.11 183.54 
L 115.84 183.76 
L 116.57 183.97 
L 117.29 184.17 
L 118.02 184.36 
L 118.75 184.55 
L 119.48 184.75 
L 120.20 184.95 
L 120.93 185.15 
L 121.66 185.33 
L 122.39 185.50 
L 123.11 185.65 
L 123.84 185.77 
L 124.57 185.87 
L 125.30 185.92 
L 126.02 185.94 
L 126.75 185.92 
L 127.48 185.87 
L 128.21 185.79 
L 128.93 185.64 
L 129.66 185.46 
L 130.39 185.25 
L 131.12 185.07 
L 131.84 184.94 
L 132.57 184.89 
" clip-path="url(#p3bd749fe86)" style="fill: none; stroke: #ff0000; stroke-linecap: square"/>
   </g>
   <g id="line2d_36">
    <path d="M 57.64 193.24 
L 58.37 193.24 
L 59.10 193.25 
L 59.83 193.26 
L 60.55 193.27 
L 61.28 193.28 
L 62.01 193.29 
L 62.74 193.31 
L 63.46 193.33 
L 64.19 193.34 
L 64.92 193.36 
L 65.65 193.39 
L 66.37 193.41 
L 67.10 193.43 
L 67.83 193.45 
L 68.55 193.48 
L 69.28 193.50 
L 70.01 193.52 
L 70.74 193.54 
L 71.46 193.56 
L 72.19 193.58 
L 72.92 193.60 
L 73.65 193.62 
L 74.37 193.64 
L 75.10 193.65 
L 75.83 193.66 
L 76.56 193.67 
L 77.28 193.68 
L 78.01 193.68 
L 78.74 193.69 
L 79.47 193.69 
L 80.19 193.68 
L 80.92 193.67 
L 81.65 193.66 
L 82.38 193.65 
L 83.10 193.63 
L 83.83 193.62 
L 84.56 193.60 
L 85.29 193.58 
L 86.01 193.55 
L 86.74 193.53 
L 87.47 193.50 
L 88.20 193.48 
L 88.92 193.45 
L 89.65 193.42 
L 90.38 193.39 
L 91.11 193.37 
L 91.83 193.34 
L 92.56 193.31 
L 93.29 193.28 
L 94.02 193.25 
L 94.74 193.22 
L 95.47 193.19 
L 96.20 193.16 
L 96.93 193.13 
L 97.65 193.10 
L 98.38 193.07 
L 99.11 193.04 
L 99.84 193.01 
L 100.56 192.98 
L 101.29 192.95 
L 102.02 192.92 
L 102.75 192.88 
L 103.47 192.85 
L 104.20 192.81 
L 104.93 192.77 
L 105.66 192.73 
L 106.38 192.68 
L 107.11 192.64 
L 107.84 192.59 
L 108.56 192.53 
L 109.29 192.48 
L 110.02 192.42 
L 110.75 192.35 
L 111.47 192.26 
L 112.20 192.16 
L 112.93 192.03 
L 113.66 191.89 
L 114.38 191.73 
L 115.11 191.57 
L 115.84 191.40 
L 116.57 191.23 
L 117.29 191.06 
L 118.02 190.90 
L 118.75 190.74 
L 119.48 190.58 
L 120.20 190.41 
L 120.93 190.23 
L 121.66 190.04 
L 122.39 189.86 
L 123.11 189.68 
L 123.84 189.51 
L 124.57 189.36 
L 125.30 189.23 
L 126.02 189.14 
L 126.75 189.16 
L 127.48 189.28 
L 128.21 189.48 
L 128.93 189.74 
L 129.66 190.01 
L 130.39 190.27 
L 131.12 190.49 
L 131.84 190.64 
L 132.57 190.70 
" clip-path="url(#p3bd749fe86)" style="fill: none; stroke: #ff0000; stroke-linecap: square"/>
   </g>
   <g id="line2d_37">
    <path d="M 57.64 193.24 
L 58.37 193.24 
L 59.10 193.25 
L 59.83 193.26 
L 60.55 193.27 
L 61.28 193.28 
L 62.01 193.29 
L 62.74 193.31 
L 63.46 193.33 
L 64.19 193.34 
L 64.92 193.36 
L 65.65 193.39 
L 66.37 193.41 
L 67.10 193.43 
L 67.83 193.45 
L 68.55 193.48 
L 69.28 193.50 
L 70.01 193.52 
L 70.74 193.54 
L 71.46 193.56 
L 72.19 193.58 
L 72.92 193.60 
L 73.65 193.62 
L 74.37 193.64 
L 75.10 193.65 
L 75.83 193.66 
L 76.56 193.67 
L 77.28 193.68 
L 78.01 193.68 
L 78.74 193.69 
L 79.47 193.69 
L 80.19 193.68 
L 80.92 193.67 
L 81.65 193.66 
L 82.38 193.65 
L 83.10 193.63 
L 83.83 193.62 
L 84.56 193.60 
L 85.29 193.58 
L 86.01 193.56 
L 86.74 193.54 
L 87.47 193.51 
L 88.20 193.49 
L 88.92 193.46 
L 89.65 193.43 
L 90.38 193.41 
L 91.11 193.38 
L 91.83 193.35 
L 92.56 193.32 
L 93.29 193.29 
L 94.02 193.26 
L 94.74 193.23 
L 95.47 193.19 
L 96.20 193.16 
L 96.93 193.13 
L 97.65 193.10 
L 98.38 193.07 
L 99.11 193.03 
L 99.84 192.99 
L 100.56 192.95 
L 101.29 192.91 
L 102.02 192.86 
L 102.75 192.82 
L 103.47 192.77 
L 104.20 192.73 
L 104.93 192.68 
L 105.66 192.64 
L 106.38 192.59 
L 107.11 192.55 
L 107.84 192.51 
L 108.56 192.47 
L 109.29 192.43 
L 110.02 192.40 
L 110.75 192.37 
L 111.47 192.34 
L 112.20 192.33 
L 112.93 192.31 
L 113.66 192.31 
L 114.38 192.31 
L 115.11 192.31 
L 115.84 192.32 
L 116.57 192.33 
L 117.29 192.34 
L 118.02 192.36 
L 118.75 192.37 
L 119.48 192.40 
L 120.20 192.45 
L 120.93 192.52 
L 121.66 192.60 
L 122.39 192.71 
L 123.11 192.82 
L 123.84 192.94 
L 124.57 193.07 
L 125.30 193.20 
L 126.02 193.34 
L 126.75 193.47 
L 127.48 193.60 
L 128.21 193.71 
L 128.93 193.82 
L 129.66 193.92 
L 130.39 194.00 
L 131.12 194.06 
L 131.84 194.09 
L 132.57 194.11 
" clip-path="url(#p3bd749fe86)" style="fill: none; stroke: #ff0000; stroke-linecap: square"/>
   </g>
   <g id="line2d_38">
    <path d="M 57.64 206.88 
L 58.37 206.88 
L 59.10 206.90 
L 59.83 206.93 
L 60.55 206.96 
L 61.28 207.01 
L 62.01 207.07 
L 62.74 207.13 
L 63.46 207.20 
L 64.19 207.28 
L 64.92 207.37 
L 65.65 207.46 
L 66.37 207.55 
L 67.10 207.65 
L 67.83 207.75 
L 68.55 207.86 
L 69.28 207.97 
L 70.01 208.08 
L 70.74 208.19 
L 71.46 208.30 
L 72.19 208.41 
L 72.92 208.53 
L 73.65 208.67 
L 74.37 208.82 
L 75.10 208.99 
L 75.83 209.16 
L 76.56 209.34 
L 77.28 209.53 
L 78.01 209.72 
L 78.74 209.91 
L 79.47 210.10 
L 80.19 210.28 
L 80.92 210.46 
L 81.65 210.63 
L 82.38 210.79 
L 83.10 210.93 
L 83.83 211.07 
L 84.56 211.21 
L 85.29 211.35 
L 86.01 211.50 
L 86.74 211.64 
L 87.47 211.77 
L 88.20 211.90 
L 88.92 212.03 
L 89.65 212.13 
L 90.38 212.23 
L 91.11 212.31 
L 91.83 212.37 
L 92.56 212.41 
L 93.29 212.43 
L 94.02 212.42 
L 94.74 212.38 
L 95.47 212.31 
L 96.20 212.20 
L 96.93 212.06 
L 97.65 211.91 
L 98.38 211.74 
L 99.11 211.56 
L 99.84 211.38 
L 100.56 211.20 
L 101.29 211.03 
L 102.02 210.88 
L 102.75 210.75 
L 103.47 210.62 
L 104.20 210.49 
L 104.93 210.36 
L 105.66 210.24 
L 106.38 210.12 
L 107.11 210.00 
L 107.84 209.88 
L 108.56 209.77 
L 109.29 209.66 
L 110.02 209.55 
L 110.75 209.45 
L 111.47 209.38 
L 112.20 209.34 
L 112.93 209.30 
L 113.66 209.27 
L 114.38 209.23 
L 115.11 209.17 
L 115.84 209.09 
L 116.57 208.98 
L 117.29 208.79 
L 118.02 208.51 
L 118.75 208.18 
L 119.48 207.81 
L 120.20 207.43 
L 120.93 207.08 
L 121.66 206.75 
L 122.39 206.40 
L 123.11 206.06 
L 123.84 205.70 
L 124.57 205.34 
L 125.30 204.96 
L 126.02 204.57 
L 126.75 204.17 
L 127.48 203.72 
L 128.21 203.13 
L 128.93 202.46 
L 129.66 201.77 
L 130.39 201.12 
L 131.12 200.57 
L 131.84 200.20 
L 132.57 200.06 
" clip-path="url(#p3bd749fe86)" style="fill: none; stroke: #ff0000; stroke-linecap: square"/>
   </g>
   <g id="line2d_39">
    <path d="M 57.64 211.96 
L 58.38 211.96 
L 59.11 211.96 
L 59.85 211.96 
L 60.59 211.96 
L 61.32 211.96 
L 62.06 211.96 
L 62.79 211.96 
L 63.53 211.96 
L 64.26 211.97 
L 65.00 211.97 
L 65.74 211.98 
L 66.47 211.99 
L 67.21 212.01 
L 67.94 212.02 
L 68.68 212.04 
L 69.41 212.07 
L 70.15 212.10 
L 70.89 212.13 
L 71.62 212.17 
L 72.36 212.21 
L 73.09 212.27 
L 73.83 212.34 
L 74.56 212.43 
L 75.30 212.53 
L 76.03 212.64 
L 76.77 212.76 
L 77.51 212.88 
L 78.24 213.02 
L 78.98 213.16 
L 79.71 213.30 
L 80.45 213.45 
L 81.18 213.61 
L 81.92 213.82 
L 82.66 214.05 
L 83.39 214.30 
L 84.13 214.55 
L 84.86 214.80 
L 85.60 215.06 
L 86.33 215.33 
L 87.07 215.62 
L 87.81 215.93 
L 88.54 216.25 
L 89.28 216.60 
L 90.01 217.00 
L 90.75 217.48 
L 91.48 218.02 
L 92.22 218.60 
L 92.96 219.21 
L 93.69 219.84 
" clip-path="url(#p3bd749fe86)" style="fill: none; stroke: #ff0000; stroke-linecap: square"/>
   </g>
   <g id="line2d_40">
    <path d="M 93.69 219.84 
L 94.42 219.88 
L 95.16 219.92 
L 95.89 219.96 
L 96.63 220.00 
L 97.36 220.04 
L 98.09 220.07 
L 98.83 220.11 
L 99.56 220.14 
L 100.29 220.18 
L 101.03 220.21 
L 101.76 220.24 
L 102.49 220.27 
L 103.23 220.30 
L 103.96 220.33 
L 104.69 220.36 
L 105.43 220.39 
L 106.16 220.42 
L 106.90 220.45 
L 107.63 220.47 
L 108.36 220.50 
L 109.10 220.52 
L 109.83 220.53 
L 110.56 220.55 
L 111.30 220.55 
L 112.03 220.56 
L 112.76 220.56 
L 113.50 220.55 
L 114.23 220.52 
L 114.96 220.49 
L 115.70 220.44 
L 116.43 220.39 
L 117.17 220.33 
L 117.90 220.27 
L 118.63 220.21 
L 119.37 220.14 
L 120.10 220.08 
L 120.83 220.02 
L 121.57 219.96 
L 122.30 219.89 
L 123.03 219.81 
L 123.77 219.73 
L 124.50 219.64 
L 125.24 219.55 
L 125.97 219.47 
L 126.70 219.38 
L 127.44 219.30 
L 128.17 219.22 
L 128.90 219.15 
L 129.64 219.09 
L 130.37 219.04 
L 131.10 219.00 
L 131.84 218.98 
L 132.57 218.97 
" clip-path="url(#p3bd749fe86)" style="fill: none; stroke: #ff0000; stroke-linecap: square"/>
   </g>
   <g id="line2d_41">
    <path d="M 57.64 220.70 
L 58.37 220.69 
L 59.10 220.67 
L 59.83 220.63 
L 60.55 220.57 
L 61.28 220.51 
L 62.01 220.43 
L 62.74 220.35 
L 63.46 220.26 
L 64.19 220.16 
L 64.92 220.05 
L 65.65 219.95 
L 66.37 219.84 
L 67.10 219.72 
L 67.83 219.61 
L 68.55 219.50 
L 69.28 219.39 
L 70.01 219.29 
L 70.74 219.19 
L 71.46 219.10 
L 72.19 219.02 
L 72.92 218.94 
L 73.65 218.86 
L 74.37 218.77 
L 75.10 218.68 
L 75.83 218.59 
L 76.56 218.50 
L 77.28 218.41 
L 78.01 218.32 
L 78.74 218.23 
L 79.47 218.14 
L 80.19 218.05 
L 80.92 217.97 
L 81.65 217.89 
L 82.38 217.81 
L 83.10 217.74 
L 83.83 217.66 
L 84.56 217.60 
L 85.29 217.54 
L 86.01 217.49 
L 86.74 217.44 
L 87.47 217.40 
L 88.20 217.37 
L 88.92 217.35 
L 89.65 217.33 
L 90.38 217.33 
L 91.11 217.34 
L 91.83 217.35 
L 92.56 217.36 
L 93.29 217.38 
L 94.02 217.39 
L 94.74 217.39 
L 95.47 217.38 
L 96.20 217.38 
L 96.93 217.37 
L 97.65 217.35 
L 98.38 217.33 
L 99.11 217.31 
L 99.84 217.29 
L 100.56 217.27 
L 101.29 217.24 
L 102.02 217.20 
L 102.75 217.17 
L 103.47 217.13 
L 104.20 217.08 
L 104.93 216.98 
L 105.66 216.83 
L 106.38 216.63 
L 107.11 216.39 
L 107.84 216.14 
L 108.56 215.87 
L 109.29 215.60 
L 110.02 215.35 
L 110.75 215.11 
L 111.47 214.84 
L 112.20 214.55 
L 112.93 214.25 
L 113.66 213.94 
L 114.38 213.64 
L 115.11 213.34 
L 115.84 213.07 
L 116.57 212.81 
L 117.29 212.60 
L 118.02 212.42 
L 118.75 212.29 
L 119.48 212.22 
L 120.20 212.21 
L 120.93 212.27 
L 121.66 212.37 
L 122.39 212.54 
L 123.11 212.74 
L 123.84 212.99 
L 124.57 213.26 
L 125.30 213.54 
L 126.02 213.83 
L 126.75 214.11 
L 127.48 214.39 
L 128.21 214.72 
L 128.93 215.09 
L 129.66 215.45 
L 130.39 215.79 
L 131.12 216.07 
L 131.84 216.26 
L 132.57 216.33 
" clip-path="url(#p3bd749fe86)" style="fill: none; stroke: #ff0000; stroke-linecap: square"/>
   </g>
   <g id="line2d_42">
    <path d="M 57.64 220.70 
L 58.37 220.69 
L 59.10 220.67 
L 59.83 220.63 
L 60.55 220.57 
L 61.28 220.51 
L 62.01 220.44 
L 62.74 220.35 
L 63.46 220.26 
L 64.19 220.16 
L 64.92 220.06 
L 65.65 219.95 
L 66.37 219.84 
L 67.10 219.72 
L 67.83 219.61 
L 68.55 219.50 
L 69.28 219.39 
L 70.01 219.29 
L 70.74 219.19 
L 71.46 219.10 
L 72.19 219.02 
L 72.92 218.94 
L 73.65 218.86 
L 74.37 218.78 
L 75.10 218.70 
L 75.83 218.62 
L 76.56 218.53 
L 77.28 218.45 
L 78.01 218.37 
L 78.74 218.29 
L 79.47 218.21 
L 80.19 218.14 
L 80.92 218.06 
L 81.65 217.98 
L 82.38 217.91 
L 83.10 217.84 
L 83.83 217.77 
L 84.56 217.70 
L 85.29 217.63 
L 86.01 217.57 
L 86.74 217.51 
L 87.47 217.46 
L 88.20 217.40 
L 88.92 217.36 
L 89.65 217.31 
L 90.38 217.29 
L 91.11 217.28 
L 91.83 217.29 
L 92.56 217.31 
L 93.29 217.35 
L 94.02 217.40 
L 94.74 217.47 
L 95.47 217.54 
L 96.20 217.63 
L 96.93 217.72 
L 97.65 217.82 
L 98.38 217.93 
L 99.11 218.05 
L 99.84 218.17 
L 100.56 218.32 
L 101.29 218.50 
L 102.02 218.71 
L 102.75 218.94 
L 103.47 219.20 
L 104.20 219.47 
L 104.93 219.76 
L 105.66 220.05 
L 106.38 220.35 
L 107.11 220.65 
L 107.84 220.94 
L 108.56 221.23 
L 109.29 221.51 
L 110.02 221.77 
L 110.75 222.02 
L 111.47 222.29 
L 112.20 222.56 
L 112.93 222.84 
L 113.66 223.13 
L 114.38 223.41 
L 115.11 223.69 
L 115.84 223.96 
L 116.57 224.22 
L 117.29 224.46 
L 118.02 224.68 
L 118.75 224.88 
L 119.48 225.04 
L 120.20 225.18 
L 120.93 225.28 
L 121.66 225.33 
L 122.39 225.34 
L 123.11 225.31 
L 123.84 225.25 
L 124.57 225.17 
L 125.30 225.07 
L 126.02 224.97 
L 126.75 224.83 
L 127.48 224.64 
L 128.21 224.43 
L 128.93 224.19 
L 129.66 223.97 
L 130.39 223.76 
L 131.12 223.59 
L 131.84 223.48 
L 132.57 223.44 
" clip-path="url(#p3bd749fe86)" style="fill: none; stroke: #ff0000; stroke-linecap: square"/>
   </g>
   <g id="line2d_43">
    <path d="M 57.64 227.61 
L 58.37 227.61 
L 59.10 227.60 
L 59.83 227.62 
L 60.55 227.67 
L 61.28 227.77 
L 62.01 227.94 
L 62.74 228.15 
L 63.46 228.39 
L 64.19 228.65 
L 64.92 228.94 
L 65.65 229.23 
L 66.37 229.53 
L 67.10 229.82 
L 67.83 230.11 
L 68.55 230.37 
L 69.28 230.61 
L 70.01 230.85 
L 70.74 231.09 
L 71.46 231.32 
L 72.19 231.54 
L 72.92 231.77 
L 73.65 231.99 
L 74.37 232.22 
L 75.10 232.44 
L 75.83 232.67 
L 76.56 232.90 
L 77.28 233.14 
L 78.01 233.37 
L 78.74 233.62 
L 79.47 233.87 
L 80.19 234.13 
L 80.92 234.43 
L 81.65 234.76 
L 82.38 235.11 
L 83.10 235.47 
L 83.83 235.84 
L 84.56 236.19 
L 85.29 236.53 
L 86.01 236.84 
L 86.74 237.11 
L 87.47 237.34 
L 88.20 237.52 
L 88.92 237.63 
L 89.65 237.72 
L 90.38 237.79 
L 91.11 237.85 
L 91.83 237.90 
L 92.56 237.94 
L 93.29 237.96 
L 94.02 237.98 
L 94.74 238.00 
L 95.47 238.01 
L 96.20 238.02 
L 96.93 238.01 
L 97.65 237.99 
L 98.38 237.95 
L 99.11 237.89 
L 99.84 237.80 
L 100.56 237.69 
L 101.29 237.56 
L 102.02 237.42 
L 102.75 237.27 
L 103.47 237.12 
L 104.20 236.97 
L 104.93 236.83 
L 105.66 236.67 
L 106.38 236.51 
L 107.11 236.33 
L 107.84 236.16 
L 108.56 235.98 
L 109.29 235.80 
L 110.02 235.62 
L 110.75 235.45 
L 111.47 235.29 
L 112.20 235.12 
L 112.93 234.95 
L 113.66 234.78 
L 114.38 234.61 
L 115.11 234.45 
L 115.84 234.30 
L 116.57 234.17 
L 117.29 234.05 
L 118.02 233.96 
L 118.75 233.89 
L 119.48 233.83 
L 120.20 233.78 
L 120.93 233.75 
L 121.66 233.72 
L 122.39 233.70 
L 123.11 233.70 
L 123.84 233.71 
L 124.57 233.74 
L 125.30 233.79 
L 126.02 233.85 
L 126.75 233.92 
L 127.48 234.00 
L 128.21 234.08 
L 128.93 234.15 
L 129.66 234.22 
L 130.39 234.29 
L 131.12 234.34 
L 131.84 234.37 
L 132.57 234.38 
" clip-path="url(#p3bd749fe86)" style="fill: none; stroke: #ff0000; stroke-linecap: square"/>
   </g>
   <g id="line2d_44">
    <path d="M 57.64 227.61 
L 58.37 227.61 
L 59.10 227.60 
L 59.83 227.62 
L 60.55 227.67 
L 61.28 227.77 
L 62.01 227.94 
L 62.74 228.15 
L 63.46 228.39 
L 64.19 228.65 
L 64.92 228.94 
L 65.65 229.23 
L 66.37 229.53 
L 67.10 229.82 
L 67.83 230.11 
L 68.55 230.37 
L 69.28 230.61 
L 70.01 230.85 
L 70.74 231.09 
L 71.46 231.32 
L 72.19 231.54 
L 72.92 231.77 
L 73.65 231.99 
L 74.37 232.22 
L 75.10 232.44 
L 75.83 232.67 
L 76.56 232.90 
L 77.28 233.14 
L 78.01 233.37 
L 78.74 233.62 
L 79.47 233.87 
L 80.19 234.13 
L 80.92 234.43 
L 81.65 234.76 
L 82.38 235.10 
L 83.10 235.46 
L 83.83 235.82 
L 84.56 236.17 
L 85.29 236.51 
L 86.01 236.82 
L 86.74 237.10 
L 87.47 237.33 
L 88.20 237.51 
L 88.92 237.64 
L 89.65 237.74 
L 90.38 237.83 
L 91.11 237.90 
L 91.83 237.95 
L 92.56 237.98 
L 93.29 237.99 
L 94.02 237.97 
L 94.74 237.94 
L 95.47 237.91 
L 96.20 237.86 
L 96.93 237.82 
L 97.65 237.76 
L 98.38 237.71 
L 99.11 237.65 
L 99.84 237.58 
L 100.56 237.51 
L 101.29 237.43 
L 102.02 237.34 
L 102.75 237.24 
L 103.47 237.13 
L 104.20 237.02 
L 104.93 236.91 
L 105.66 236.80 
L 106.38 236.70 
L 107.11 236.61 
L 107.84 236.52 
L 108.56 236.45 
L 109.29 236.39 
L 110.02 236.34 
L 110.75 236.30 
L 111.47 236.27 
L 112.20 236.25 
L 112.93 236.24 
L 113.66 236.23 
L 114.38 236.24 
L 115.11 236.25 
L 115.84 236.27 
L 116.57 236.30 
L 117.29 236.34 
L 118.02 236.38 
L 118.75 236.44 
L 119.48 236.53 
L 120.20 236.63 
L 120.93 236.74 
L 121.66 236.86 
L 122.39 236.98 
L 123.11 237.09 
L 123.84 237.19 
L 124.57 237.27 
L 125.30 237.34 
L 126.02 237.40 
L 126.75 237.45 
L 127.48 237.51 
L 128.21 237.56 
L 128.93 237.61 
L 129.66 237.65 
L 130.39 237.69 
L 131.12 237.72 
L 131.84 237.73 
L 132.57 237.74 
" clip-path="url(#p3bd749fe86)" style="fill: none; stroke: #ff0000; stroke-linecap: square"/>
   </g>
   <g id="line2d_45">
    <path d="M 57.64 235.39 
L 58.38 235.39 
L 59.12 235.42 
L 59.86 235.45 
L 60.60 235.49 
L 61.34 235.54 
L 62.08 235.60 
L 62.82 235.67 
L 63.56 235.74 
L 64.30 235.81 
L 65.04 235.88 
L 65.78 235.96 
L 66.52 236.03 
L 67.26 236.09 
L 68.00 236.16 
L 68.74 236.21 
L 69.48 236.26 
L 70.22 236.31 
L 70.96 236.36 
L 71.70 236.40 
L 72.43 236.45 
L 73.17 236.49 
L 73.91 236.52 
L 74.65 236.56 
L 75.39 236.58 
L 76.13 236.54 
L 76.87 236.37 
L 77.61 236.11 
L 78.35 235.74 
L 79.09 235.14 
L 79.83 234.41 
L 80.57 233.67 
L 81.31 232.97 
L 82.05 232.24 
L 82.79 231.49 
L 83.53 230.74 
L 84.27 229.98 
L 85.01 229.22 
L 85.75 228.48 
L 86.49 227.75 
L 87.23 227.05 
L 87.97 226.34 
L 88.71 225.65 
L 89.45 224.96 
L 90.19 224.29 
L 90.92 223.64 
L 91.66 223.00 
L 92.40 222.38 
L 93.14 221.79 
L 93.88 221.23 
" clip-path="url(#p3bd749fe86)" style="fill: none; stroke: #ff0000; stroke-linecap: square"/>
   </g>
   <g id="line2d_46">
    <path d="M 93.88 221.23 
L 94.63 221.19 
L 95.37 221.18 
L 96.12 221.19 
L 96.86 221.22 
L 97.60 221.27 
L 98.35 221.35 
L 99.09 221.45 
L 99.84 221.58 
L 100.58 221.74 
L 101.32 221.93 
L 102.07 222.14 
L 102.81 222.38 
L 103.56 222.63 
L 104.30 222.89 
L 105.04 223.16 
L 105.79 223.44 
L 106.53 223.71 
L 107.28 223.99 
L 108.02 224.25 
L 108.76 224.51 
L 109.51 224.75 
L 110.25 224.97 
L 111 225.18 
L 111.74 225.40 
L 112.48 225.62 
L 113.23 225.83 
L 113.97 226.05 
L 114.72 226.26 
L 115.46 226.46 
L 116.20 226.66 
L 116.95 226.85 
L 117.69 227.03 
L 118.44 227.19 
L 119.18 227.34 
L 119.92 227.48 
L 120.67 227.60 
L 121.41 227.70 
L 122.16 227.80 
L 122.90 227.90 
L 123.64 228.00 
L 124.39 228.09 
L 125.13 228.18 
L 125.88 228.27 
L 126.62 228.34 
L 127.36 228.41 
L 128.11 228.48 
L 128.85 228.53 
L 129.6 228.58 
L 130.34 228.62 
L 131.08 228.64 
L 131.83 228.66 
L 132.57 228.67 
" clip-path="url(#p3bd749fe86)" style="fill: none; stroke: #ff0000; stroke-linecap: square"/>
   </g>
   <g id="line2d_47">
    <path d="M 57.64 264.14 
L 58.37 263.04 
L 59.10 261.96 
L 59.83 260.88 
L 60.55 259.81 
L 61.28 258.76 
L 62.01 257.72 
L 62.74 256.69 
L 63.46 255.68 
L 64.19 254.69 
L 64.92 253.71 
L 65.65 252.76 
L 66.37 251.82 
L 67.10 250.91 
L 67.83 250.02 
L 68.55 249.15 
L 69.28 248.30 
L 70.01 247.45 
L 70.74 246.61 
L 71.46 245.77 
L 72.19 244.92 
L 72.92 244.04 
L 73.65 243.09 
L 74.37 242.11 
L 75.10 241.16 
L 75.83 240.33 
L 76.56 239.68 
L 77.28 239.20 
L 78.01 238.84 
L 78.74 238.63 
L 79.47 238.60 
L 80.19 238.59 
L 80.92 238.59 
L 81.65 238.59 
L 82.38 238.62 
L 83.10 238.65 
L 83.83 238.71 
L 84.56 238.79 
L 85.29 238.89 
L 86.01 239.00 
L 86.74 239.12 
L 87.47 239.25 
L 88.20 239.37 
L 88.92 239.50 
L 89.65 239.61 
L 90.38 239.71 
L 91.11 239.79 
L 91.83 239.86 
L 92.56 239.94 
L 93.29 240.01 
L 94.02 240.07 
L 94.74 240.14 
L 95.47 240.20 
L 96.20 240.26 
L 96.93 240.32 
L 97.65 240.37 
L 98.38 240.41 
L 99.11 240.45 
L 99.84 240.49 
L 100.56 240.51 
L 101.29 240.53 
L 102.02 240.54 
L 102.75 240.53 
L 103.47 240.52 
L 104.20 240.50 
L 104.93 240.46 
L 105.66 240.42 
L 106.38 240.36 
L 107.11 240.29 
L 107.84 240.22 
L 108.56 240.15 
L 109.29 240.06 
L 110.02 239.98 
L 110.75 239.90 
L 111.47 239.81 
L 112.20 239.73 
L 112.93 239.64 
L 113.66 239.57 
L 114.38 239.49 
L 115.11 239.42 
L 115.84 239.35 
L 116.57 239.28 
L 117.29 239.20 
L 118.02 239.13 
L 118.75 239.06 
L 119.48 238.98 
L 120.20 238.91 
L 120.93 238.83 
L 121.66 238.76 
L 122.39 238.68 
L 123.11 238.60 
L 123.84 238.51 
L 124.57 238.41 
L 125.30 238.31 
L 126.02 238.20 
L 126.75 238.09 
L 127.48 237.99 
L 128.21 237.89 
L 128.93 237.80 
L 129.66 237.71 
L 130.39 237.64 
L 131.12 237.59 
L 131.84 237.56 
L 132.57 237.55 
" clip-path="url(#p3bd749fe86)" style="fill: none; stroke: #ff0000; stroke-linecap: square"/>
   </g>
   <g id="line2d_48">
    <path d="M 57.64 264.14 
L 58.37 263.70 
L 59.10 263.26 
L 59.83 262.82 
L 60.55 262.38 
L 61.28 261.95 
L 62.01 261.51 
L 62.74 261.08 
L 63.46 260.65 
L 64.19 260.22 
L 64.92 259.79 
L 65.65 259.37 
L 66.37 258.95 
L 67.10 258.53 
L 67.83 258.11 
L 68.55 257.69 
L 69.28 257.28 
L 70.01 256.86 
L 70.74 256.45 
L 71.46 256.05 
L 72.19 255.64 
L 72.92 255.24 
L 73.65 254.83 
L 74.37 254.43 
L 75.10 254.03 
L 75.83 253.63 
L 76.56 253.25 
L 77.28 252.87 
L 78.01 252.50 
L 78.74 252.14 
L 79.47 251.80 
L 80.19 251.46 
L 80.92 251.12 
L 81.65 250.78 
L 82.38 250.45 
L 83.10 250.13 
L 83.83 249.83 
L 84.56 249.53 
L 85.29 249.25 
L 86.01 248.99 
L 86.74 248.74 
L 87.47 248.52 
L 88.20 248.30 
L 88.92 248.09 
L 89.65 247.90 
L 90.38 247.71 
L 91.11 247.54 
L 91.83 247.38 
L 92.56 247.25 
L 93.29 247.15 
L 94.02 247.07 
L 94.74 247.00 
L 95.47 246.93 
L 96.20 246.85 
L 96.93 246.74 
L 97.65 246.60 
L 98.38 246.40 
L 99.11 246.12 
L 99.84 245.77 
L 100.56 245.38 
L 101.29 244.97 
L 102.02 244.55 
L 102.75 244.16 
L 103.47 243.82 
L 104.20 243.54 
L 104.93 243.35 
L 105.66 243.18 
L 106.38 243.03 
L 107.11 242.91 
L 107.84 242.81 
L 108.56 242.75 
L 109.29 242.73 
L 110.02 242.74 
L 110.75 242.76 
L 111.47 242.80 
L 112.20 242.83 
L 112.93 242.87 
L 113.66 242.90 
L 114.38 242.92 
L 115.11 242.93 
L 115.84 242.93 
L 116.57 242.90 
L 117.29 242.87 
L 118.02 242.83 
L 118.75 242.79 
L 119.48 242.74 
L 120.20 242.68 
L 120.93 242.62 
L 121.66 242.56 
L 122.39 242.50 
L 123.11 242.43 
L 123.84 242.36 
L 124.57 242.29 
L 125.30 242.21 
L 126.02 242.11 
L 126.75 241.99 
L 127.48 241.85 
L 128.21 241.71 
L 128.93 241.57 
L 129.66 241.44 
L 130.39 241.32 
L 131.12 241.23 
L 131.84 241.17 
L 132.57 241.15 
" clip-path="url(#p3bd749fe86)" style="fill: none; stroke: #ff0000; stroke-linecap: square"/>
   </g>
   <g id="line2d_49">
    <path d="M 57.64 264.14 
L 58.37 263.70 
L 59.10 263.26 
L 59.83 262.82 
L 60.55 262.38 
L 61.28 261.95 
L 62.01 261.51 
L 62.74 261.08 
L 63.46 260.65 
L 64.19 260.22 
L 64.92 259.79 
L 65.65 259.37 
L 66.37 258.95 
L 67.10 258.53 
L 67.83 258.11 
L 68.55 257.69 
L 69.28 257.28 
L 70.01 256.86 
L 70.74 256.45 
L 71.46 256.05 
L 72.19 255.64 
L 72.92 255.24 
L 73.65 254.83 
L 74.37 254.43 
L 75.10 254.03 
L 75.83 253.63 
L 76.56 253.25 
L 77.28 252.87 
L 78.01 252.50 
L 78.74 252.14 
L 79.47 251.80 
L 80.19 251.46 
L 80.92 251.12 
L 81.65 250.78 
L 82.38 250.46 
L 83.10 250.14 
L 83.83 249.83 
L 84.56 249.53 
L 85.29 249.25 
L 86.01 248.99 
L 86.74 248.74 
L 87.47 248.51 
L 88.20 248.27 
L 88.92 248.05 
L 89.65 247.84 
L 90.38 247.66 
L 91.11 247.51 
L 91.83 247.38 
L 92.56 247.30 
L 93.29 247.23 
L 94.02 247.18 
L 94.74 247.14 
L 95.47 247.11 
L 96.20 247.08 
L 96.93 247.05 
L 97.65 247.02 
L 98.38 246.97 
L 99.11 246.90 
L 99.84 246.82 
L 100.56 246.70 
L 101.29 246.58 
L 102.02 246.44 
L 102.75 246.30 
L 103.47 246.15 
L 104.20 245.99 
L 104.93 245.83 
L 105.66 245.67 
L 106.38 245.52 
L 107.11 245.36 
L 107.84 245.21 
L 108.56 245.06 
L 109.29 244.92 
L 110.02 244.78 
L 110.75 244.64 
L 111.47 244.50 
L 112.20 244.36 
L 112.93 244.22 
L 113.66 244.08 
L 114.38 243.95 
L 115.11 243.83 
L 115.84 243.71 
L 116.57 243.60 
L 117.29 243.50 
L 118.02 243.42 
L 118.75 243.34 
L 119.48 243.28 
L 120.20 243.21 
L 120.93 243.15 
L 121.66 243.10 
L 122.39 243.05 
L 123.11 243.01 
L 123.84 242.98 
L 124.57 242.95 
L 125.30 242.94 
L 126.02 242.92 
L 126.75 242.92 
L 127.48 242.93 
L 128.21 242.97 
L 128.93 243.05 
L 129.66 243.14 
L 130.39 243.23 
L 131.12 243.32 
L 131.84 243.38 
L 132.57 243.40 
" clip-path="url(#p3bd749fe86)" style="fill: none; stroke: #ff0000; stroke-linecap: square"/>
   </g>
   <g id="patch_3">
    <path d="M 57.64 273.50 
L 57.64 75.45 
" style="fill: none; stroke: #000000; stroke-width: 0.8; stroke-linejoin: miter; stroke-linecap: square"/>
   </g>
   <g id="patch_4">
    <path d="M 132.57 273.50 
L 132.57 75.45 
" style="fill: none; stroke: #000000; stroke-width: 0.8; stroke-linejoin: miter; stroke-linecap: square"/>
   </g>
   <g id="patch_5">
    <path d="M 57.64 273.50 
L 132.57 273.50 
" style="fill: none; stroke: #000000; stroke-width: 0.8; stroke-linejoin: miter; stroke-linecap: square"/>
   </g>
   <g id="patch_6">
    <path d="M 57.64 75.45 
L 132.57 75.45 
" style="fill: none; stroke: #000000; stroke-width: 0.8; stroke-linejoin: miter; stroke-linecap: square"/>
   </g>
  </g>
  <g id="axes_2">
   <g id="patch_7">
    <path d="M 140.59 273.50 
L 266.01 273.50 
L 266.01 75.45 
L 140.59 75.45 
z
" style="fill: #ffffff"/>
   </g>
   <g id="matplotlib.axis_3">
    <g id="xtick_4">
     <g id="line2d_50">
      <g>
       <path d="M 0 0 L 0 -3.5" transform="translate(140.59 273.50)" style="stroke: #000000; stroke-width: 0.8"/>
      </g>
     </g>
     <g id="line2d_51">
      <g>
       <path d="M 0 0 L 0 3.5" transform="translate(140.59 75.45)" style="stroke: #000000; stroke-width: 0.8"/>
      </g>
     </g>
     <g id="text_10">
      
      <g transform="translate(134.39 284.60)">
       <text>
        <tspan x="0" y="-0.70" style="font-size: 10px; font-family: 'DejaVu Sans', sans-serif">H</tspan>
        <tspan x="7.61" y="0.93" style="font-size: 7px; font-family: 'DejaVu Sans', sans-serif">0</tspan>
       </text>
      </g>
     </g>
    </g>
    <g id="xtick_5">
     <g id="line2d_52">
      <g>
       <path d="M 0 0 L 0 -3.5" transform="translate(172.36 273.50)" style="stroke: #000000; stroke-width: 0.8"/>
      </g>
     </g>
     <g id="line2d_53">
      <g>
       <path d="M 0 0 L 0 3.5" transform="translate(172.36 75.45)" style="stroke: #000000; stroke-width: 0.8"/>
      </g>
     </g>
     <g id="text_11">
      
      <g transform="translate(169.56 284.60)">
       <text>
        <tspan x="0" y="-0.70" style="font-size: 10px; font-family: 'DejaVu Sans', sans-serif">L</tspan>
       </text>
      </g>
     </g>
    </g>
    <g id="xtick_6">
     <g id="line2d_54">
      <g>
       <path d="M 0 0 L 0 -3.5" transform="translate(214.94 273.50)" style="stroke: #000000; stroke-width: 0.8"/>
      </g>
     </g>
     <g id="line2d_55">
      <g>
       <path d="M 0 0 L 0 3.5" transform="translate(214.94 75.45)" style="stroke: #000000; stroke-width: 0.8"/>
      </g>
     </g>
     <g id="text_12">
      
      <g transform="translate(212.14 284.60)">
       <text>
        <tspan x="0" y="-0.70" style="font-size: 10px; font-family: 'DejaVu Sans', sans-serif">Γ</tspan>
       </text>
      </g>
     </g>
    </g>
    <g id="xtick_7">
     <g id="line2d_56">
      <g>
       <path d="M 0 0 L 0 -3.5" transform="translate(266.01 273.50)" style="stroke: #000000; stroke-width: 0.8"/>
      </g>
     </g>
     <g id="line2d_57">
      <g>
       <path d="M 0 0 L 0 3.5" transform="translate(266.01 75.45)" style="stroke: #000000; stroke-width: 0.8"/>
      </g>
     </g>
     <g id="text_13">
      
      <g transform="translate(260.41 284.60)">
       <text>
        <tspan x="0" y="-0.57" style="font-size: 10px; font-family: 'DejaVu Sans', sans-serif">S</tspan>
        <tspan x="6.44" y="1.06" style="font-size: 7px; font-family: 'DejaVu Sans', sans-serif">0</tspan>
       </text>
      </g>
     </g>
    </g>
   </g>
   <g id="matplotlib.axis_4">
    <g id="ytick_6">
     <g id="line2d_58">
      <g>
       <path d="M 0 0 L 3.5 0" transform="translate(140.59 264.14)" style="stroke: #000000; stroke-width: 0.8"/>
      </g>
     </g>
     <g id="line2d_59">
      <g>
       <path d="M 0 0 L -3.5 0" transform="translate(266.01 264.14)" style="stroke: #000000; stroke-width: 0.8"/>
      </g>
     </g>
    </g>
    <g id="ytick_7">
     <g id="line2d_60">
      <g>
       <path d="M 0 0 L 3.5 0" transform="translate(140.59 220.26)" style="stroke: #000000; stroke-width: 0.8"/>
      </g>
     </g>
     <g id="line2d_61">
      <g>
       <path d="M 0 0 L -3.5 0" transform="translate(266.01 220.26)" style="stroke: #000000; stroke-width: 0.8"/>
      </g>
     </g>
    </g>
    <g id="ytick_8">
     <g id="line2d_62">
      <g>
       <path d="M 0 0 L 3.5 0" transform="translate(140.59 176.37)" style="stroke: #000000; stroke-width: 0.8"/>
      </g>
     </g>
     <g id="line2d_63">
      <g>
       <path d="M 0 0 L -3.5 0" transform="translate(266.01 176.37)" style="stroke: #000000; stroke-width: 0.8"/>
      </g>
     </g>
    </g>
    <g id="ytick_9">
     <g id="line2d_64">
      <g>
       <path d="M 0 0 L 3.5 0" transform="translate(140.59 132.49)" style="stroke: #000000; stroke-width: 0.8"/>
      </g>
     </g>
     <g id="line2d_65">
      <g>
       <path d="M 0 0 L -3.5 0" transform="translate(266.01 132.49)" style="stroke: #000000; stroke-width: 0.8"/>
      </g>
     </g>
    </g>
    <g id="ytick_10">
     <g id="line2d_66">
      <g>
       <path d="M 0 0 L 3.5 0" transform="translate(140.59 88.60)" style="stroke: #000000; stroke-width: 0.8"/>
      </g>
     </g>
     <g id="line2d_67">
      <g>
       <path d="M 0 0 L -3.5 0" transform="translate(266.01 88.60)" style="stroke: #000000; stroke-width: 0.8"/>
      </g>
     </g>
    </g>
   </g>
   <g id="line2d_68">
    <path d="M 140.59 264.14 
L 266.01 264.14 
" clip-path="url(#p5bda3bf60a)" style="fill: none; stroke-dasharray: 0.5,0.82; stroke-dashoffset: 0; stroke: #0000ff; stroke-width: 0.5"/>
   </g>
   <g id="line2d_69">
    <path d="M 140.64 85.96 
L 147.16 86.07 
L 151.51 86.37 
L 160.93 87.40 
L 167.45 88.11 
L 171.07 88.26 
L 176.87 88.25 
L 184.84 87.97 
L 207.31 86.96 
L 215.28 86.88 
L 232.67 87.16 
L 245.72 87.34 
L 249.34 87.12 
L 265.29 85.68 
L 266.01 85.68 
L 266.01 85.68 
" clip-path="url(#p5bda3bf60a)" style="fill: none; stroke: #ff0000; stroke-linecap: square"/>
   </g>
   <g id="line2d_70">
    <path d="M 140.64 88.70 
L 151.51 88.58 
L 176.87 88.03 
L 187.74 87.83 
L 192.81 87.95 
L 202.24 88.46 
L 216.73 89.18 
L 223.98 89.01 
L 250.79 88.21 
L 266.01 88.08 
L 266.01 88.08 
" clip-path="url(#p5bda3bf60a)" style="fill: none; stroke: #ff0000; stroke-linecap: square"/>
   </g>
   <g id="line2d_71">
    <path d="M 140.64 89.37 
L 150.78 89.25 
L 160.20 88.94 
L 171.07 88.29 
L 179.04 88.34 
L 189.92 88.66 
L 211.66 89.48 
L 218.90 89.50 
L 231.22 89.25 
L 250.79 88.80 
L 266.01 89.08 
L 266.01 89.08 
" clip-path="url(#p5bda3bf60a)" style="fill: none; stroke: #ff0000; stroke-linecap: square"/>
   </g>
   <g id="line2d_72">
    <path d="M 141.04 105.15 
L 141.77 105.16 
L 142.50 105.20 
L 143.23 105.22 
L 143.97 105.20 
L 144.70 105.12 
L 145.43 104.99 
L 146.16 104.83 
L 146.90 104.63 
L 147.63 104.42 
L 148.36 104.17 
L 149.09 103.92 
L 149.83 103.64 
L 150.56 103.36 
L 151.29 103.07 
L 152.02 102.78 
L 152.76 102.48 
L 153.49 102.13 
L 154.22 101.74 
L 154.95 101.34 
L 155.69 100.92 
L 156.42 100.51 
L 157.15 100.12 
L 157.88 99.75 
L 158.62 99.43 
L 159.35 99.16 
L 160.08 98.91 
L 160.81 98.67 
L 161.55 98.44 
L 162.28 98.22 
L 163.01 98.01 
L 163.74 97.82 
L 164.48 97.64 
L 165.21 97.48 
L 165.94 97.34 
L 166.67 97.22 
L 167.41 97.12 
L 168.14 97.04 
L 168.87 96.96 
L 169.60 96.88 
L 170.34 96.82 
L 171.07 96.77 
L 171.80 96.74 
L 172.53 96.75 
L 173.27 96.76 
L 174.00 96.78 
L 174.73 96.80 
L 175.46 96.82 
L 176.20 96.84 
L 176.93 96.87 
L 177.66 96.89 
L 178.39 96.91 
L 179.13 96.93 
L 179.86 96.95 
L 180.59 96.96 
L 181.32 96.98 
L 182.06 97.00 
L 182.79 97.01 
L 183.52 97.03 
L 184.25 97.04 
L 184.99 97.06 
L 185.72 97.08 
L 186.45 97.09 
L 187.18 97.11 
L 187.92 97.13 
L 188.65 97.14 
L 189.38 97.16 
L 190.11 97.17 
L 190.85 97.18 
L 191.58 97.20 
L 192.31 97.21 
L 193.04 97.22 
L 193.78 97.23 
L 194.51 97.24 
L 195.24 97.25 
L 195.97 97.25 
L 196.71 97.26 
L 197.44 97.27 
L 198.17 97.27 
L 198.90 97.27 
L 199.64 97.27 
L 200.37 97.27 
L 201.10 97.27 
L 201.83 97.27 
L 202.57 97.27 
L 203.30 97.26 
L 204.03 97.25 
L 204.76 97.25 
L 205.50 97.23 
L 206.23 97.22 
L 206.96 97.19 
L 207.69 97.16 
L 208.43 97.14 
L 209.16 97.12 
L 209.89 97.09 
L 210.62 97.07 
L 211.36 97.05 
L 212.09 97.02 
L 212.82 97.00 
L 213.55 96.98 
L 214.29 96.96 
" clip-path="url(#p5bda3bf60a)" style="fill: none; stroke: #ff0000; stroke-linecap: square"/>
   </g>
   <g id="line2d_73">
    <path d="M 214.99 97.66 
L 215.72 97.68 
L 216.46 97.71 
L 217.19 97.74 
L 217.93 97.78 
L 218.66 97.82 
L 219.40 97.86 
L 220.13 97.90 
L 220.87 97.95 
L 221.61 97.99 
L 222.34 98.04 
L 223.08 98.09 
L 223.81 98.14 
L 224.55 98.20 
L 225.28 98.25 
L 226.02 98.30 
L 226.75 98.36 
L 227.49 98.41 
L 228.22 98.47 
L 228.96 98.52 
L 229.70 98.58 
L 230.43 98.63 
L 231.17 98.69 
L 231.90 98.76 
L 232.64 98.82 
L 233.37 98.89 
L 234.11 98.96 
L 234.84 99.03 
L 235.58 99.11 
L 236.32 99.18 
L 237.05 99.26 
L 237.79 99.34 
L 238.52 99.42 
L 239.26 99.50 
L 239.99 99.59 
L 240.73 99.67 
L 241.46 99.76 
L 242.20 99.84 
L 242.94 99.93 
L 243.67 100.03 
L 244.41 100.13 
L 245.14 100.23 
L 245.88 100.35 
L 246.61 100.46 
L 247.35 100.58 
L 248.08 100.71 
L 248.82 100.84 
L 249.55 100.97 
L 250.29 101.11 
L 251.03 101.24 
L 251.76 101.38 
L 252.50 101.52 
L 253.23 101.66 
L 253.97 101.82 
L 254.70 102.01 
L 255.44 102.21 
L 256.17 102.42 
L 256.91 102.65 
L 257.65 102.89 
L 258.38 103.12 
L 259.12 103.35 
L 259.85 103.58 
L 260.59 103.80 
L 261.32 104.00 
L 262.06 104.18 
L 262.79 104.34 
L 263.53 104.47 
L 264.27 104.57 
L 265.00 104.63 
L 265.74 104.66 
" clip-path="url(#p5bda3bf60a)" style="fill: none; stroke: #ff0000; stroke-linecap: square"/>
   </g>
   <g id="line2d_74">
    <path d="M 141.04 107.95 
L 141.77 107.91 
L 142.50 107.81 
L 143.23 107.70 
L 143.97 107.61 
L 144.70 107.57 
L 145.43 107.62 
L 146.16 107.71 
L 146.90 107.83 
L 147.63 107.97 
L 148.36 108.12 
L 149.09 108.28 
L 149.83 108.44 
L 150.56 108.61 
L 151.29 108.78 
L 152.02 108.95 
L 152.76 109.11 
L 153.49 109.28 
L 154.22 109.46 
L 154.95 109.65 
L 155.69 109.84 
L 156.42 110.03 
L 157.15 110.22 
L 157.88 110.41 
L 158.62 110.60 
L 159.35 110.77 
L 160.08 110.94 
L 160.81 111.10 
L 161.55 111.24 
L 162.28 111.37 
L 163.01 111.49 
L 163.74 111.59 
L 164.48 111.69 
L 165.21 111.78 
L 165.94 111.86 
L 166.67 111.94 
L 167.41 112.00 
L 168.14 112.07 
L 168.87 112.12 
L 169.60 112.17 
L 170.34 112.21 
L 171.07 112.24 
L 171.80 112.27 
L 172.53 112.29 
L 173.27 112.28 
L 174.00 112.25 
L 174.73 112.19 
L 175.46 112.11 
L 176.20 112.01 
L 176.93 111.89 
L 177.66 111.75 
L 178.39 111.57 
L 179.13 111.33 
L 179.86 111.05 
L 180.59 110.74 
L 181.32 110.40 
L 182.06 110.03 
L 182.79 109.66 
L 183.52 109.28 
L 184.25 108.91 
L 184.99 108.55 
L 185.72 108.21 
L 186.45 107.89 
L 187.18 107.61 
L 187.92 107.36 
L 188.65 107.11 
L 189.38 106.86 
L 190.11 106.62 
L 190.85 106.38 
L 191.58 106.14 
L 192.31 105.91 
L 193.04 105.69 
L 193.78 105.47 
L 194.51 105.26 
L 195.24 105.06 
L 195.97 104.87 
L 196.71 104.69 
L 197.44 104.51 
L 198.17 104.35 
L 198.90 104.18 
L 199.64 104.01 
L 200.37 103.84 
L 201.10 103.67 
L 201.83 103.52 
L 202.57 103.38 
L 203.30 103.26 
L 204.03 103.16 
L 204.76 103.09 
L 205.50 103.04 
L 206.23 103.04 
L 206.96 103.05 
L 207.69 103.04 
L 208.43 103.01 
L 209.16 102.97 
L 209.89 102.92 
L 210.62 102.87 
L 211.36 102.81 
L 212.09 102.75 
L 212.82 102.69 
L 213.55 102.62 
L 214.29 102.56 
" clip-path="url(#p5bda3bf60a)" style="fill: none; stroke: #ff0000; stroke-linecap: square"/>
   </g>
   <g id="line2d_75">
    <path d="M 214.99 101.79 
L 215.72 101.73 
L 216.46 101.69 
L 217.19 101.65 
L 217.93 101.62 
L 218.66 101.60 
L 219.40 101.59 
L 220.13 101.60 
L 220.87 101.61 
L 221.61 101.64 
L 222.34 101.69 
L 223.08 101.74 
L 223.81 101.81 
L 224.55 101.88 
L 225.28 101.97 
L 226.02 102.06 
L 226.75 102.16 
L 227.49 102.26 
L 228.22 102.38 
L 228.96 102.49 
L 229.70 102.62 
L 230.43 102.74 
L 231.17 102.87 
L 231.90 103.00 
L 232.64 103.14 
L 233.37 103.28 
L 234.11 103.44 
L 234.84 103.60 
L 235.58 103.77 
L 236.32 103.94 
L 237.05 104.12 
L 237.79 104.30 
L 238.52 104.48 
L 239.26 104.67 
L 239.99 104.85 
L 240.73 105.04 
L 241.46 105.22 
L 242.20 105.39 
L 242.94 105.57 
L 243.67 105.74 
L 244.41 105.92 
L 245.14 106.10 
L 245.88 106.29 
L 246.61 106.47 
L 247.35 106.66 
L 248.08 106.84 
L 248.82 107.02 
L 249.55 107.19 
L 250.29 107.36 
L 251.03 107.52 
L 251.76 107.68 
L 252.50 107.83 
L 253.23 107.96 
L 253.97 108.10 
L 254.70 108.24 
L 255.44 108.38 
L 256.17 108.52 
L 256.91 108.66 
L 257.65 108.79 
L 258.38 108.93 
L 259.12 109.05 
L 259.85 109.17 
L 260.59 109.28 
L 261.32 109.38 
L 262.06 109.47 
L 262.79 109.55 
L 263.53 109.61 
L 264.27 109.66 
L 265.00 109.69 
L 265.74 109.70 
" clip-path="url(#p5bda3bf60a)" style="fill: none; stroke: #ff0000; stroke-linecap: square"/>
   </g>
   <g id="line2d_76">
    <path d="M 141.04 119.15 
L 141.76 119.02 
L 143.21 118.31 
L 144.66 117.55 
L 146.11 117.25 
L 149.74 116.74 
L 151.91 116.68 
L 156.26 117.04 
L 168.59 118.43 
L 172.94 118.84 
L 175.11 118.86 
L 178.01 118.67 
L 180.19 118.29 
L 183.09 117.46 
L 186.71 116.45 
L 192.51 115.42 
L 195.41 115.16 
L 199.04 115.19 
L 204.84 115.31 
L 212.09 115.16 
L 230.21 115.23 
L 232.39 115.55 
L 236.01 116.37 
L 240.36 117.29 
L 247.61 118.77 
L 249.79 118.94 
L 251.24 118.83 
L 253.41 118.33 
L 259.94 116.33 
L 262.84 115.38 
L 264.29 115.06 
L 265.74 114.95 
L 265.74 114.95 
" clip-path="url(#p5bda3bf60a)" style="fill: none; stroke: #ff0000; stroke-linecap: square"/>
   </g>
   <g id="line2d_77">
    <path d="M 141.04 126.44 
L 142.49 126.30 
L 144.66 125.78 
L 154.81 122.99 
L 158.44 122.29 
L 162.79 121.61 
L 166.41 121.24 
L 171.49 120.94 
L 175.11 120.92 
L 178.01 121.10 
L 180.91 121.51 
L 187.44 122.83 
L 202.66 125.73 
L 204.84 125.93 
L 206.29 125.88 
L 207.74 125.74 
L 209.91 125.92 
L 214.26 126.43 
L 217.16 126.37 
L 220.79 126.05 
L 225.86 125.33 
L 232.39 124.21 
L 243.26 121.86 
L 246.89 121.11 
L 249.06 120.86 
L 250.51 120.87 
L 251.96 121.14 
L 254.14 121.87 
L 262.11 124.87 
L 262.84 124.96 
L 264.29 124.75 
L 265.74 124.55 
L 265.74 124.55 
" clip-path="url(#p5bda3bf60a)" style="fill: none; stroke: #ff0000; stroke-linecap: square"/>
   </g>
   <g id="line2d_78">
    <path d="M 141.04 122.66 
L 141.76 122.72 
L 143.21 123.19 
L 154.09 128.30 
L 155.54 128.70 
L 159.16 129.30 
L 163.51 129.74 
L 167.86 130.00 
L 173.66 130.19 
L 175.11 130.50 
L 178.01 131.50 
L 179.46 132.19 
L 182.36 133.94 
L 183.09 134.22 
L 183.81 134.35 
L 185.26 134.28 
L 186.71 133.93 
L 190.34 132.69 
L 199.76 129.13 
L 203.39 128.08 
L 205.56 127.68 
L 209.19 127.33 
L 214.99 126.41 
L 217.16 126.39 
L 219.34 126.60 
L 222.24 127.13 
L 224.41 127.80 
L 227.31 129.01 
L 241.09 135.28 
L 242.54 135.72 
L 243.26 135.85 
L 244.71 135.79 
L 246.16 135.39 
L 247.61 134.72 
L 249.79 133.40 
L 257.76 128.17 
L 259.21 127.38 
L 260.66 126.82 
L 262.11 126.50 
L 264.29 126.31 
L 265.74 126.30 
L 265.74 126.30 
" clip-path="url(#p5bda3bf60a)" style="fill: none; stroke: #ff0000; stroke-linecap: square"/>
   </g>
   <g id="line2d_79">
    <path d="M 141.04 132.25 
L 141.77 132.28 
L 142.50 132.37 
L 143.23 132.50 
L 143.97 132.65 
L 144.70 132.82 
L 145.43 132.99 
L 146.16 133.19 
L 146.90 133.42 
L 147.63 133.68 
L 148.36 133.97 
L 149.09 134.27 
L 149.83 134.58 
L 150.56 134.89 
L 151.29 135.19 
L 152.02 135.48 
L 152.76 135.74 
L 153.49 135.98 
L 154.22 136.18 
L 154.95 136.34 
L 155.69 136.44 
L 156.42 136.51 
L 157.15 136.58 
L 157.88 136.64 
L 158.62 136.69 
L 159.35 136.74 
L 160.08 136.78 
L 160.81 136.81 
L 161.55 136.84 
L 162.28 136.85 
L 163.01 136.86 
L 163.74 136.86 
L 164.48 136.86 
L 165.21 136.84 
L 165.94 136.81 
L 166.67 136.77 
L 167.41 136.73 
L 168.14 136.69 
L 168.87 136.64 
L 169.60 136.60 
L 170.34 136.55 
L 171.07 136.50 
L 171.80 136.45 
L 172.53 136.40 
L 173.27 136.34 
L 174.00 136.29 
L 174.73 136.24 
L 175.46 136.19 
L 176.20 136.13 
L 176.93 136.08 
L 177.66 136.02 
L 178.39 135.96 
L 179.13 135.89 
L 179.86 135.81 
L 180.59 135.74 
L 181.32 135.68 
L 182.06 135.62 
L 182.79 135.57 
L 183.52 135.54 
L 184.25 135.56 
L 184.99 135.73 
L 185.72 135.98 
L 186.45 136.27 
L 187.18 136.54 
L 187.92 136.73 
L 188.65 136.80 
L 189.38 136.76 
L 190.11 136.71 
L 190.85 136.63 
L 191.58 136.53 
L 192.31 136.41 
L 193.04 136.29 
L 193.78 136.15 
L 194.51 136.01 
L 195.24 135.87 
L 195.97 135.72 
L 196.71 135.58 
L 197.44 135.45 
L 198.17 135.32 
L 198.90 135.17 
L 199.64 135.02 
L 200.37 134.86 
L 201.10 134.70 
L 201.83 134.54 
L 202.57 134.39 
L 203.30 134.26 
L 204.03 134.14 
L 204.76 134.05 
L 205.50 133.99 
L 206.23 133.98 
L 206.96 134.00 
L 207.69 133.99 
L 208.43 133.96 
L 209.16 133.92 
L 209.89 133.87 
L 210.62 133.82 
L 211.36 133.76 
L 212.09 133.70 
L 212.82 133.64 
L 213.55 133.57 
L 214.29 133.51 
" clip-path="url(#p5bda3bf60a)" style="fill: none; stroke: #ff0000; stroke-linecap: square"/>
   </g>
   <g id="line2d_80">
    <path d="M 214.99 132.25 
L 215.72 132.32 
L 216.46 132.40 
L 217.19 132.48 
L 217.93 132.57 
L 218.66 132.67 
L 219.40 132.76 
L 220.13 132.87 
L 220.87 132.97 
L 221.61 133.08 
L 222.34 133.20 
L 223.08 133.31 
L 223.81 133.43 
L 224.55 133.55 
L 225.28 133.67 
L 226.02 133.80 
L 226.75 133.93 
L 227.49 134.07 
L 228.22 134.21 
L 228.96 134.36 
L 229.70 134.51 
L 230.43 134.67 
L 231.17 134.82 
L 231.90 134.98 
L 232.64 135.13 
L 233.37 135.29 
L 234.11 135.44 
L 234.84 135.59 
L 235.58 135.73 
L 236.32 135.89 
L 237.05 136.06 
L 237.79 136.24 
L 238.52 136.41 
L 239.26 136.57 
L 239.99 136.69 
L 240.73 136.77 
L 241.46 136.80 
L 242.20 136.75 
L 242.94 136.64 
L 243.67 136.51 
L 244.41 136.36 
L 245.14 136.22 
L 245.88 136.12 
L 246.61 136.06 
L 247.35 136.02 
L 248.08 135.99 
L 248.82 135.97 
L 249.55 135.95 
L 250.29 135.94 
L 251.03 135.93 
L 251.76 135.92 
L 252.50 135.91 
L 253.23 135.90 
L 253.97 135.88 
L 254.70 135.86 
L 255.44 135.82 
L 256.17 135.78 
L 256.91 135.72 
L 257.65 135.64 
L 258.38 135.52 
L 259.12 135.39 
L 259.85 135.24 
L 260.59 135.08 
L 261.32 134.93 
L 262.06 134.78 
L 262.79 134.64 
L 263.53 134.52 
L 264.27 134.43 
L 265.00 134.37 
L 265.74 134.35 
" clip-path="url(#p5bda3bf60a)" style="fill: none; stroke: #ff0000; stroke-linecap: square"/>
   </g>
   <g id="line2d_81">
    <path d="M 141.04 140.30 
L 143.94 140.43 
L 152.64 141.14 
L 162.06 141.10 
L 171.49 140.82 
L 178.01 140.44 
L 183.81 140.15 
L 185.99 140.16 
L 186.71 140.29 
L 188.16 140.90 
L 192.51 143.46 
L 196.14 145.83 
L 197.59 146.54 
L 201.21 147.78 
L 203.39 148.26 
L 204.84 148.36 
L 206.29 148.21 
L 207.74 148.00 
L 210.64 148.14 
L 214.26 148.35 
L 218.61 148.22 
L 223.69 147.80 
L 226.59 147.43 
L 230.94 146.48 
L 236.01 145.54 
L 241.81 144.60 
L 248.34 143.86 
L 262.11 142.57 
L 265.01 142.40 
L 265.74 142.40 
L 265.74 142.40 
" clip-path="url(#p5bda3bf60a)" style="fill: none; stroke: #ff0000; stroke-linecap: square"/>
   </g>
   <g id="line2d_82">
    <path d="M 141.04 143.80 
L 143.21 143.64 
L 146.11 143.13 
L 149.01 142.63 
L 151.19 142.49 
L 152.64 142.58 
L 154.81 142.95 
L 157.71 143.70 
L 161.34 144.84 
L 167.14 146.88 
L 170.04 147.79 
L 171.49 148.08 
L 173.66 148.14 
L 183.09 148.06 
L 191.06 148.36 
L 193.96 148.67 
L 197.59 149.36 
L 199.76 149.99 
L 203.39 151.42 
L 206.29 152.47 
L 214.26 154.93 
L 215.71 155.10 
L 217.16 155.00 
L 218.61 154.69 
L 220.79 153.94 
L 222.24 153.32 
L 223.69 152.45 
L 225.86 150.82 
L 228.76 148.61 
L 239.64 141.00 
L 241.09 140.26 
L 241.81 140.04 
L 243.26 139.95 
L 246.89 140.11 
L 260.66 140.99 
L 262.11 140.73 
L 265.01 140.00 
L 265.74 139.95 
L 265.74 139.95 
" clip-path="url(#p5bda3bf60a)" style="fill: none; stroke: #ff0000; stroke-linecap: square"/>
   </g>
   <g id="line2d_83">
    <path d="M 141.04 155.84 
L 145.39 155.96 
L 149.74 156.02 
L 151.91 155.87 
L 154.09 155.55 
L 157.71 154.73 
L 162.79 153.59 
L 170.04 152.35 
L 172.21 152.20 
L 175.84 152.25 
L 180.91 152.60 
L 190.34 153.56 
L 205.56 155.00 
L 209.91 155.11 
L 215.71 155.36 
L 222.96 155.33 
L 244.71 155.04 
L 250.51 155.31 
L 263.56 156.02 
L 265.74 156.05 
L 265.74 156.05 
" clip-path="url(#p5bda3bf60a)" style="fill: none; stroke: #ff0000; stroke-linecap: square"/>
   </g>
   <g id="line2d_84">
    <path d="M 141.04 166.14 
L 143.21 166.04 
L 146.11 165.67 
L 154.81 164.30 
L 159.16 164.12 
L 167.14 164.00 
L 174.39 164.09 
L 178.01 164.34 
L 180.91 164.71 
L 183.09 165.28 
L 193.24 168.60 
L 195.41 168.96 
L 198.31 169.27 
L 201.21 169.36 
L 205.56 169.14 
L 215.71 168.32 
L 220.06 168.51 
L 234.56 169.48 
L 236.01 169.19 
L 238.19 168.35 
L 240.36 167.59 
L 246.89 165.80 
L 251.24 164.75 
L 253.41 164.43 
L 256.31 164.23 
L 259.94 164.24 
L 261.39 164.37 
L 265.74 164.95 
L 265.74 164.95 
" clip-path="url(#p5bda3bf60a)" style="fill: none; stroke: #ff0000; stroke-linecap: square"/>
   </g>
   <g id="line2d_85">
    <path d="M 141.04 173.25 
L 143.94 173.15 
L 148.29 172.76 
L 155.54 172.07 
L 164.96 171.67 
L 173.66 171.51 
L 177.29 171.76 
L 182.36 172.17 
L 184.54 172.16 
L 185.99 171.92 
L 188.16 171.31 
L 193.96 169.27 
L 202.66 165.95 
L 207.01 164.41 
L 209.19 163.93 
L 212.81 163.36 
L 215.71 163.15 
L 217.89 163.22 
L 220.06 163.51 
L 221.51 163.88 
L 223.69 164.72 
L 232.39 168.63 
L 236.01 170.00 
L 241.09 171.64 
L 244.71 172.71 
L 246.89 173.11 
L 251.96 173.74 
L 256.31 174.03 
L 261.39 174.08 
L 265.74 174.05 
L 265.74 174.05 
" clip-path="url(#p5bda3bf60a)" style="fill: none; stroke: #ff0000; stroke-linecap: square"/>
   </g>
   <g id="line2d_86">
    <path d="M 141.04 174.16 
L 145.39 174.28 
L 151.91 174.72 
L 161.34 175.53 
L 168.59 176.26 
L 172.21 176.40 
L 174.39 176.26 
L 178.01 175.68 
L 180.91 175.27 
L 201.21 173.19 
L 203.39 173.33 
L 205.56 173.62 
L 208.46 174.55 
L 211.36 175.01 
L 213.54 175.11 
L 216.44 174.87 
L 228.04 173.62 
L 230.21 173.56 
L 232.39 173.73 
L 239.64 174.91 
L 244.71 175.89 
L 248.34 176.67 
L 250.51 176.92 
L 254.86 177.18 
L 258.49 177.15 
L 265.74 176.85 
L 265.74 176.85 
" clip-path="url(#p5bda3bf60a)" style="fill: none; stroke: #ff0000; stroke-linecap: square"/>
   </g>
   <g id="line2d_87">
    <path d="M 141.04 176.96 
L 148.29 177.08 
L 168.59 177.79 
L 183.81 178.50 
L 187.44 178.86 
L 193.24 179.49 
L 196.86 179.62 
L 202.66 179.61 
L 207.74 179.43 
L 210.64 179.08 
L 214.26 178.62 
L 220.79 178.30 
L 226.59 178.21 
L 230.94 178.34 
L 238.19 178.63 
L 246.16 178.60 
L 247.61 178.76 
L 249.79 179.26 
L 253.41 180.42 
L 256.31 181.31 
L 259.21 182.13 
L 262.84 183.15 
L 265.01 183.47 
L 265.74 183.50 
L 265.74 183.50 
" clip-path="url(#p5bda3bf60a)" style="fill: none; stroke: #ff0000; stroke-linecap: square"/>
   </g>
   <g id="line2d_88">
    <path d="M 141.04 184.80 
L 142.49 184.65 
L 143.94 184.27 
L 149.01 182.64 
L 155.54 181.43 
L 159.16 180.95 
L 164.96 180.52 
L 174.39 179.86 
L 180.19 179.20 
L 182.36 178.81 
L 185.26 178.04 
L 188.16 177.08 
L 190.34 176.13 
L 191.79 175.95 
L 193.96 175.95 
L 196.86 176.26 
L 199.04 176.67 
L 204.84 178.10 
L 207.01 178.16 
L 212.09 178.36 
L 217.16 178.48 
L 222.24 178.31 
L 229.49 177.81 
L 231.66 177.45 
L 236.01 176.40 
L 238.91 175.52 
L 242.54 174.42 
L 246.89 173.45 
L 250.51 172.88 
L 254.86 172.39 
L 257.76 172.30 
L 260.66 172.55 
L 265.01 172.98 
L 265.74 173.00 
L 265.74 173.00 
" clip-path="url(#p5bda3bf60a)" style="fill: none; stroke: #ff0000; stroke-linecap: square"/>
   </g>
   <g id="line2d_89">
    <path d="M 141.04 182.00 
L 142.49 182.09 
L 144.66 182.46 
L 153.36 184.34 
L 159.89 185.61 
L 167.14 186.73 
L 171.49 187.19 
L 174.39 187.30 
L 177.29 187.14 
L 180.19 186.77 
L 182.36 186.32 
L 185.26 185.50 
L 197.59 181.67 
L 200.49 181.32 
L 203.39 181.20 
L 205.56 181.31 
L 209.19 181.71 
L 214.26 181.95 
L 217.89 181.94 
L 229.49 181.58 
L 230.94 181.80 
L 233.11 182.36 
L 236.74 183.52 
L 239.64 184.78 
L 241.81 185.68 
L 244.71 186.56 
L 246.16 186.89 
L 247.61 187.02 
L 249.06 186.89 
L 251.24 186.41 
L 259.21 184.28 
L 262.84 183.43 
L 265.01 183.17 
L 265.74 183.15 
L 265.74 183.15 
" clip-path="url(#p5bda3bf60a)" style="fill: none; stroke: #ff0000; stroke-linecap: square"/>
   </g>
   <g id="line2d_90">
    <path d="M 141.04 190.85 
L 141.76 190.91 
L 143.21 191.38 
L 146.84 193.06 
L 147.56 193.25 
L 148.29 193.32 
L 149.74 193.14 
L 152.64 192.50 
L 159.16 190.86 
L 170.04 188.95 
L 172.94 188.71 
L 175.84 188.72 
L 178.74 188.92 
L 181.64 189.30 
L 185.26 190.04 
L 191.06 191.25 
L 201.94 193.09 
L 204.84 193.29 
L 205.56 193.29 
L 207.74 192.95 
L 209.91 193.08 
L 214.26 193.44 
L 218.61 193.29 
L 225.86 192.81 
L 235.29 191.98 
L 240.36 191.36 
L 248.34 190.00 
L 250.51 190.10 
L 253.41 190.56 
L 259.21 191.81 
L 263.56 192.94 
L 265.01 193.13 
L 265.74 193.16 
L 265.74 193.16 
" clip-path="url(#p5bda3bf60a)" style="fill: none; stroke: #ff0000; stroke-linecap: square"/>
   </g>
   <g id="line2d_91">
    <path d="M 141.04 194.00 
L 143.21 194.13 
L 146.11 194.59 
L 151.19 195.45 
L 154.09 195.63 
L 159.89 195.78 
L 164.96 195.73 
L 170.04 195.46 
L 173.66 195.06 
L 177.29 194.21 
L 183.09 192.62 
L 185.26 192.61 
L 191.79 192.85 
L 201.94 193.16 
L 206.29 193.37 
L 208.46 193.54 
L 214.26 193.65 
L 221.51 193.47 
L 230.21 193.05 
L 241.09 192.21 
L 243.99 192.34 
L 248.34 192.79 
L 251.24 193.20 
L 254.14 193.88 
L 258.49 195.22 
L 261.39 196.25 
L 264.29 197.58 
L 265.01 197.77 
L 265.74 197.85 
L 265.74 197.85 
" clip-path="url(#p5bda3bf60a)" style="fill: none; stroke: #ff0000; stroke-linecap: square"/>
   </g>
   <g id="line2d_92">
    <path d="M 141.04 199.95 
L 141.76 199.87 
L 143.21 199.33 
L 145.39 198.04 
L 146.84 197.22 
L 148.29 196.71 
L 149.74 196.63 
L 151.91 196.74 
L 154.09 197.08 
L 156.26 197.66 
L 158.44 198.54 
L 165.69 201.89 
L 167.14 202.24 
L 169.31 202.42 
L 172.21 202.57 
L 173.66 202.85 
L 175.11 203.35 
L 177.29 204.41 
L 178.74 205.31 
L 180.91 206.99 
L 184.54 210.14 
L 185.99 211.39 
L 188.89 213.15 
L 191.06 214.26 
L 193.24 215.16 
L 197.59 216.55 
L 201.21 217.57 
L 204.11 218.15 
L 206.29 218.36 
L 216.44 218.88 
L 219.34 218.74 
L 223.69 218.27 
L 230.21 217.31 
L 232.39 216.68 
L 236.01 215.35 
L 238.19 214.29 
L 240.36 212.93 
L 243.26 210.80 
L 245.44 208.82 
L 249.06 205.02 
L 251.96 202.06 
L 254.86 199.51 
L 257.76 197.17 
L 259.21 196.22 
L 261.39 195.18 
L 263.56 194.35 
L 265.01 194.04 
L 265.74 194.00 
L 265.74 194.00 
" clip-path="url(#p5bda3bf60a)" style="fill: none; stroke: #ff0000; stroke-linecap: square"/>
   </g>
   <g id="line2d_93">
    <path d="M 141.04 216.20 
L 141.76 216.28 
L 143.21 216.87 
L 146.84 219.02 
L 147.56 219.27 
L 148.29 219.37 
L 149.74 219.17 
L 151.91 218.64 
L 159.16 216.56 
L 164.24 215.73 
L 172.21 214.47 
L 175.84 213.64 
L 178.01 212.97 
L 183.09 211.08 
L 185.99 210.59 
L 189.61 210.16 
L 192.51 210.01 
L 195.41 210.10 
L 199.76 210.52 
L 204.11 210.90 
L 206.29 210.90 
L 207.74 210.81 
L 209.91 211.03 
L 213.54 211.60 
L 214.99 211.64 
L 217.89 211.42 
L 221.51 210.88 
L 226.59 210.08 
L 229.49 209.85 
L 233.84 209.76 
L 239.64 209.92 
L 242.54 210.24 
L 245.44 210.79 
L 247.61 211.37 
L 249.79 212.24 
L 255.59 214.92 
L 259.21 216.75 
L 261.39 217.55 
L 262.11 217.69 
L 263.56 217.57 
L 265.74 217.25 
L 265.74 217.25 
" clip-path="url(#p5bda3bf60a)" style="fill: none; stroke: #ff0000; stroke-linecap: square"/>
   </g>
   <g id="line2d_94">
    <path d="M 141.04 217.95 
L 149.74 217.88 
L 153.36 217.50 
L 158.44 216.94 
L 162.06 216.82 
L 166.41 216.91 
L 172.94 217.30 
L 175.11 217.62 
L 178.01 218.27 
L 180.91 219.30 
L 184.54 220.64 
L 186.71 221.16 
L 189.61 221.46 
L 193.24 221.65 
L 199.76 221.63 
L 205.56 221.44 
L 211.36 221.00 
L 214.26 220.95 
L 217.89 221.14 
L 224.41 221.78 
L 229.49 222.20 
L 240.36 222.77 
L 245.44 222.87 
L 250.51 222.66 
L 254.14 222.39 
L 256.31 221.88 
L 259.21 220.90 
L 262.11 219.93 
L 264.29 219.45 
L 265.74 219.35 
L 265.74 219.35 
" clip-path="url(#p5bda3bf60a)" style="fill: none; stroke: #ff0000; stroke-linecap: square"/>
   </g>
   <g id="line2d_95">
    <path d="M 141.04 228.80 
L 143.94 228.65 
L 147.56 228.18 
L 154.09 227.02 
L 158.44 225.86 
L 161.34 225.17 
L 164.24 224.76 
L 168.59 224.36 
L 172.21 224.24 
L 175.84 224.39 
L 180.91 224.81 
L 183.81 225.31 
L 187.44 225.92 
L 188.89 226.00 
L 190.34 225.86 
L 192.51 225.38 
L 196.86 224.19 
L 202.66 222.25 
L 204.84 221.84 
L 205.56 221.79 
L 207.74 222.35 
L 209.19 222.22 
L 214.26 221.43 
L 217.16 221.67 
L 222.24 222.32 
L 230.21 223.38 
L 243.26 224.79 
L 247.61 225.05 
L 251.24 225.04 
L 253.41 224.92 
L 254.86 224.47 
L 256.31 223.70 
L 258.49 222.44 
L 259.94 221.85 
L 261.39 221.58 
L 263.56 221.44 
L 265.74 221.45 
L 265.74 221.45 
" clip-path="url(#p5bda3bf60a)" style="fill: none; stroke: #ff0000; stroke-linecap: square"/>
   </g>
   <g id="line2d_96">
    <path d="M 141.04 223.55 
L 141.76 223.46 
L 143.21 222.93 
L 145.39 221.85 
L 146.11 221.59 
L 146.84 221.45 
L 148.29 221.58 
L 149.74 221.94 
L 151.91 222.72 
L 154.09 223.70 
L 159.16 226.31 
L 163.51 228.06 
L 164.96 228.46 
L 166.41 228.67 
L 170.76 228.92 
L 175.11 228.90 
L 187.44 228.65 
L 195.41 228.24 
L 204.84 227.76 
L 217.16 227.51 
L 220.79 227.91 
L 233.11 229.45 
L 234.56 229.49 
L 236.01 229.28 
L 237.46 228.84 
L 241.81 227.22 
L 243.99 226.83 
L 247.61 226.41 
L 249.79 226.35 
L 251.96 226.49 
L 254.86 226.93 
L 263.56 228.54 
L 265.74 228.66 
L 265.74 228.66 
" clip-path="url(#p5bda3bf60a)" style="fill: none; stroke: #ff0000; stroke-linecap: square"/>
   </g>
   <g id="line2d_97">
    <path d="M 141.04 234.75 
L 143.94 234.87 
L 146.84 234.95 
L 148.29 234.82 
L 150.46 234.33 
L 153.36 233.34 
L 158.44 231.48 
L 164.24 229.90 
L 166.41 229.49 
L 168.59 229.29 
L 174.39 229.09 
L 181.64 229.00 
L 186.71 229.12 
L 187.44 229.17 
L 188.16 229.40 
L 191.79 231.31 
L 193.96 232.08 
L 195.41 232.30 
L 196.86 232.14 
L 198.31 231.70 
L 201.21 230.43 
L 203.39 229.55 
L 204.84 229.20 
L 205.56 229.14 
L 207.74 229.49 
L 209.19 229.22 
L 214.26 227.77 
L 216.44 227.75 
L 218.61 227.92 
L 221.51 228.38 
L 225.86 229.33 
L 228.76 230.31 
L 230.94 231.00 
L 233.11 231.38 
L 238.19 231.93 
L 246.16 232.53 
L 253.41 233.02 
L 255.59 233.35 
L 260.66 234.46 
L 263.56 234.96 
L 265.74 235.10 
L 265.74 235.10 
" clip-path="url(#p5bda3bf60a)" style="fill: none; stroke: #ff0000; stroke-linecap: square"/>
   </g>
   <g id="line2d_98">
    <path d="M 141.04 238.25 
L 143.94 238.37 
L 148.29 238.85 
L 154.09 239.47 
L 170.04 240.94 
L 174.39 241.07 
L 178.01 240.92 
L 183.09 240.44 
L 191.79 239.39 
L 196.86 238.46 
L 199.04 237.92 
L 204.11 236.49 
L 209.19 235.66 
L 212.09 235.36 
L 214.99 235.29 
L 217.89 235.49 
L 222.24 236.06 
L 229.49 237.27 
L 232.39 237.97 
L 236.74 239.57 
L 241.09 240.56 
L 243.99 240.97 
L 246.16 241.05 
L 254.86 240.76 
L 265.74 240.35 
L 265.74 240.35 
" clip-path="url(#p5bda3bf60a)" style="fill: none; stroke: #ff0000; stroke-linecap: square"/>
   </g>
   <g id="line2d_99">
    <path d="M 141.04 237.20 
L 141.77 237.17 
L 142.50 237.08 
L 143.23 236.97 
L 143.96 236.82 
L 144.69 236.66 
L 145.43 236.51 
L 146.16 236.36 
L 146.89 236.24 
L 147.62 236.16 
L 148.35 236.14 
L 149.08 236.16 
L 149.82 236.21 
L 150.55 236.26 
L 151.28 236.33 
L 152.01 236.39 
L 152.74 236.46 
L 153.47 236.54 
L 154.21 236.62 
L 154.94 236.70 
L 155.67 236.79 
L 156.40 236.87 
L 157.13 236.96 
L 157.86 237.04 
L 158.60 237.13 
L 159.33 237.21 
L 160.06 237.29 
L 160.79 237.38 
L 161.52 237.48 
L 162.26 237.58 
L 162.99 237.69 
L 163.72 237.79 
L 164.45 237.90 
L 165.18 238.01 
L 165.91 238.11 
L 166.65 238.21 
L 167.38 238.31 
L 168.11 238.40 
L 168.84 238.48 
L 169.57 238.56 
L 170.30 238.62 
L 171.04 238.68 
L 171.77 238.71 
L 172.50 238.74 
L 173.23 238.73 
L 173.96 238.68 
L 174.69 238.60 
L 175.43 238.49 
L 176.16 238.36 
L 176.89 238.22 
L 177.62 238.07 
L 178.35 237.91 
L 179.08 237.76 
L 179.82 237.62 
L 180.55 237.49 
L 181.28 237.35 
L 182.01 237.20 
L 182.74 237.04 
L 183.47 236.87 
L 184.21 236.69 
L 184.94 236.50 
L 185.67 236.32 
L 186.40 236.13 
L 187.13 235.95 
L 187.87 235.76 
L 188.60 235.58 
L 189.33 235.41 
L 190.06 235.25 
L 190.79 235.10 
L 191.52 234.96 
L 192.26 234.83 
L 192.99 234.73 
L 193.72 234.82 
L 194.45 235.11 
L 195.18 235.52 
L 195.91 235.99 
L 196.65 236.73 
L 197.38 237.67 
L 198.11 238.71 
L 198.84 239.73 
L 199.57 240.76 
L 200.30 241.82 
L 201.04 242.90 
L 201.77 244.01 
L 202.50 245.13 
L 203.23 246.26 
L 203.96 247.39 
L 204.69 248.53 
L 205.43 249.66 
L 206.16 250.79 
L 206.89 251.90 
L 207.62 253.01 
L 208.35 254.12 
L 209.09 255.23 
L 209.82 256.34 
L 210.55 257.45 
L 211.28 258.56 
L 212.01 259.68 
L 212.74 260.79 
L 213.48 261.91 
L 214.21 263.02 
L 214.94 264.14 
" clip-path="url(#p5bda3bf60a)" style="fill: none; stroke: #ff0000; stroke-linecap: square"/>
   </g>
   <g id="line2d_100">
    <path d="M 141.04 241.40 
L 141.77 241.37 
L 142.50 241.31 
L 143.23 241.22 
L 143.96 241.09 
L 144.69 240.95 
L 145.43 240.80 
L 146.16 240.64 
L 146.89 240.48 
L 147.62 240.33 
L 148.35 240.19 
L 149.08 240.08 
L 149.82 239.99 
L 150.55 239.94 
L 151.28 239.93 
L 152.01 239.97 
L 152.74 240.07 
L 153.47 240.20 
L 154.21 240.37 
L 154.94 240.56 
L 155.67 240.77 
L 156.40 241.00 
L 157.13 241.24 
L 157.86 241.48 
L 158.60 241.72 
L 159.33 241.94 
L 160.06 242.15 
L 160.79 242.33 
L 161.52 242.48 
L 162.26 242.60 
L 162.99 242.68 
L 163.72 242.72 
L 164.45 242.73 
L 165.18 242.72 
L 165.91 242.69 
L 166.65 242.64 
L 167.38 242.59 
L 168.11 242.54 
L 168.84 242.48 
L 169.57 242.44 
L 170.30 242.41 
L 171.04 242.40 
L 171.77 242.42 
L 172.50 242.46 
L 173.23 242.54 
L 173.96 242.65 
L 174.69 242.79 
L 175.43 242.96 
L 176.16 243.14 
L 176.89 243.34 
L 177.62 243.55 
L 178.35 243.79 
L 179.08 244.08 
L 179.82 244.39 
L 180.55 244.73 
L 181.28 245.08 
L 182.01 245.45 
L 182.74 245.83 
L 183.47 246.20 
L 184.21 246.58 
L 184.94 246.97 
L 185.67 247.38 
L 186.40 247.79 
L 187.13 248.22 
L 187.87 248.64 
L 188.60 249.07 
L 189.33 249.49 
L 190.06 249.91 
L 190.79 250.32 
L 191.52 250.74 
L 192.26 251.15 
L 192.99 251.57 
L 193.72 251.98 
L 194.45 252.40 
L 195.18 252.82 
L 195.91 253.24 
L 196.65 253.66 
L 197.38 254.09 
L 198.11 254.52 
L 198.84 254.95 
L 199.57 255.39 
L 200.30 255.83 
L 201.04 256.27 
L 201.77 256.71 
L 202.50 257.15 
L 203.23 257.58 
L 203.96 258.01 
L 204.69 258.44 
L 205.43 258.86 
L 206.16 259.27 
L 206.89 259.69 
L 207.62 260.10 
L 208.35 260.52 
L 209.09 260.93 
L 209.82 261.34 
L 210.55 261.74 
L 211.28 262.15 
L 212.01 262.55 
L 212.74 262.95 
L 213.48 263.35 
L 214.21 263.75 
L 214.94 264.14 
" clip-path="url(#p5bda3bf60a)" style="fill: none; stroke: #ff0000; stroke-linecap: square"/>
   </g>
   <g id="line2d_101">
    <path d="M 141.04 243.85 
L 141.77 243.87 
L 142.50 243.92 
L 143.23 244.01 
L 143.96 244.12 
L 144.69 244.26 
L 145.43 244.41 
L 146.16 244.57 
L 146.89 244.74 
L 147.62 244.90 
L 148.35 245.06 
L 149.08 245.21 
L 149.82 245.34 
L 150.55 245.45 
L 151.28 245.54 
L 152.01 245.59 
L 152.74 245.61 
L 153.47 245.63 
L 154.21 245.65 
L 154.94 245.67 
L 155.67 245.68 
L 156.40 245.70 
L 157.13 245.71 
L 157.86 245.72 
L 158.60 245.74 
L 159.33 245.75 
L 160.06 245.76 
L 160.79 245.77 
L 161.52 245.78 
L 162.26 245.79 
L 162.99 245.79 
L 163.72 245.80 
L 164.45 245.81 
L 165.18 245.82 
L 165.91 245.83 
L 166.65 245.84 
L 167.38 245.85 
L 168.11 245.86 
L 168.84 245.87 
L 169.57 245.89 
L 170.30 245.90 
L 171.04 245.92 
L 171.77 245.93 
L 172.50 245.95 
L 173.23 245.97 
L 173.96 245.99 
L 174.69 246.01 
L 175.43 246.03 
L 176.16 246.05 
L 176.89 246.07 
L 177.62 246.09 
L 178.35 246.12 
L 179.08 246.14 
L 179.82 246.16 
L 180.55 246.19 
L 181.28 246.21 
L 182.01 246.24 
L 182.74 246.26 
L 183.47 246.29 
L 184.21 246.32 
L 184.94 246.37 
L 185.67 246.44 
L 186.40 246.53 
L 187.13 246.64 
L 187.87 246.77 
L 188.60 246.91 
L 189.33 247.08 
L 190.06 247.42 
L 190.79 247.97 
L 191.52 248.30 
L 192.26 248.55 
L 192.99 248.77 
L 193.72 249.02 
L 194.45 249.33 
L 195.18 249.73 
L 195.91 250.15 
L 196.65 250.61 
L 197.38 251.08 
L 198.11 251.58 
L 198.84 252.08 
L 199.57 252.60 
L 200.30 253.13 
L 201.04 253.65 
L 201.77 254.18 
L 202.50 254.70 
L 203.23 255.22 
L 203.96 255.75 
L 204.69 256.28 
L 205.43 256.82 
L 206.16 257.36 
L 206.89 257.91 
L 207.62 258.46 
L 208.35 259.01 
L 209.09 259.56 
L 209.82 260.13 
L 210.55 260.69 
L 211.28 261.26 
L 212.01 261.83 
L 212.74 262.40 
L 213.48 262.98 
L 214.21 263.56 
L 214.94 264.14 
" clip-path="url(#p5bda3bf60a)" style="fill: none; stroke: #ff0000; stroke-linecap: square"/>
   </g>
   <g id="line2d_102">
    <path d="M 214.99 264.19 
L 215.72 263.00 
L 216.46 261.83 
L 217.19 260.66 
L 217.93 259.51 
L 218.66 258.37 
L 219.40 257.24 
L 220.13 256.13 
L 220.87 255.03 
L 221.61 253.94 
L 222.34 252.87 
L 223.08 251.82 
L 223.81 250.78 
L 224.55 249.75 
L 225.28 248.74 
L 226.02 247.72 
L 226.75 246.71 
L 227.49 245.69 
L 228.22 244.67 
L 228.96 243.64 
L 229.70 242.57 
L 230.43 241.49 
L 231.17 240.45 
L 231.90 239.48 
L 232.64 238.59 
L 233.37 237.69 
L 234.11 236.87 
L 234.84 236.19 
L 235.58 235.72 
L 236.32 235.41 
L 237.05 235.14 
L 237.79 234.92 
L 238.52 234.77 
L 239.26 234.71 
L 239.99 234.69 
L 240.73 234.67 
L 241.46 234.65 
L 242.20 234.63 
L 242.94 234.62 
L 243.67 234.62 
L 244.41 234.63 
L 245.14 234.66 
L 245.88 234.70 
L 246.61 234.75 
L 247.35 234.82 
L 248.08 234.89 
L 248.82 234.97 
L 249.55 235.05 
L 250.29 235.14 
L 251.03 235.22 
L 251.76 235.31 
L 252.50 235.39 
L 253.23 235.47 
L 253.97 235.55 
L 254.70 235.62 
L 255.44 235.68 
L 256.17 235.74 
L 256.91 235.78 
L 257.65 235.82 
L 258.38 235.86 
L 259.12 235.90 
L 259.85 235.94 
L 260.59 235.98 
L 261.32 236.01 
L 262.06 236.04 
L 262.79 236.07 
L 263.53 236.09 
L 264.27 236.10 
L 265.00 236.11 
L 265.74 236.12 
" clip-path="url(#p5bda3bf60a)" style="fill: none; stroke: #ff0000; stroke-linecap: square"/>
   </g>
   <g id="line2d_103">
    <path d="M 214.99 264.19 
L 215.72 263.26 
L 216.46 262.35 
L 217.19 261.45 
L 217.93 260.58 
L 218.66 259.74 
L 219.40 258.94 
L 220.13 258.17 
L 220.87 257.46 
L 221.61 256.79 
L 222.34 256.17 
L 223.08 255.55 
L 223.81 254.95 
L 224.55 254.36 
L 225.28 253.78 
L 226.02 253.22 
L 226.75 252.67 
L 227.49 252.13 
L 228.22 251.61 
L 228.96 251.10 
L 229.70 250.61 
L 230.43 250.12 
L 231.17 249.66 
L 231.90 249.21 
L 232.64 248.77 
L 233.37 248.33 
L 234.11 247.89 
L 234.84 247.46 
L 235.58 247.04 
L 236.32 246.62 
L 237.05 246.21 
L 237.79 245.81 
L 238.52 245.42 
L 239.26 245.04 
L 239.99 244.67 
L 240.73 244.31 
L 241.46 243.97 
L 242.20 243.65 
L 242.94 243.34 
L 243.67 243.03 
L 244.41 242.72 
L 245.14 242.42 
L 245.88 242.11 
L 246.61 241.81 
L 247.35 241.53 
L 248.08 241.25 
L 248.82 240.98 
L 249.55 240.73 
L 250.29 240.50 
L 251.03 240.29 
L 251.76 240.11 
L 252.50 239.94 
L 253.23 239.81 
L 253.97 239.69 
L 254.70 239.58 
L 255.44 239.49 
L 256.17 239.40 
L 256.91 239.32 
L 257.65 239.25 
L 258.38 239.18 
L 259.12 239.13 
L 259.85 239.08 
L 260.59 239.04 
L 261.32 239.00 
L 262.06 238.97 
L 262.79 238.95 
L 263.53 238.94 
L 264.27 238.92 
L 265.00 238.92 
L 265.74 238.92 
" clip-path="url(#p5bda3bf60a)" style="fill: none; stroke: #ff0000; stroke-linecap: square"/>
   </g>
   <g id="line2d_104">
    <path d="M 214.99 264.19 
L 215.72 263.78 
L 216.46 263.38 
L 217.19 262.98 
L 217.93 262.57 
L 218.66 262.17 
L 219.40 261.77 
L 220.13 261.37 
L 220.87 260.97 
L 221.61 260.57 
L 222.34 260.17 
L 223.08 259.77 
L 223.81 259.37 
L 224.55 258.97 
L 225.28 258.58 
L 226.02 258.18 
L 226.75 257.78 
L 227.49 257.38 
L 228.22 256.99 
L 228.96 256.59 
L 229.70 256.19 
L 230.43 255.78 
L 231.17 255.38 
L 231.90 254.97 
L 232.64 254.56 
L 233.37 254.15 
L 234.11 253.75 
L 234.84 253.35 
L 235.58 252.95 
L 236.32 252.56 
L 237.05 252.18 
L 237.79 251.81 
L 238.52 251.46 
L 239.26 251.11 
L 239.99 250.76 
L 240.73 250.42 
L 241.46 250.07 
L 242.20 249.73 
L 242.94 249.40 
L 243.67 249.07 
L 244.41 248.75 
L 245.14 248.44 
L 245.88 248.15 
L 246.61 247.87 
L 247.35 247.62 
L 248.08 247.38 
L 248.82 247.17 
L 249.55 246.98 
L 250.29 246.81 
L 251.03 246.65 
L 251.76 246.48 
L 252.50 246.32 
L 253.23 246.15 
L 253.97 246.00 
L 254.70 245.84 
L 255.44 245.69 
L 256.17 245.55 
L 256.91 245.41 
L 257.65 245.28 
L 258.38 245.16 
L 259.12 245.05 
L 259.85 244.94 
L 260.59 244.85 
L 261.32 244.76 
L 262.06 244.69 
L 262.79 244.63 
L 263.53 244.58 
L 264.27 244.54 
L 265.00 244.52 
L 265.74 244.52 
" clip-path="url(#p5bda3bf60a)" style="fill: none; stroke: #ff0000; stroke-linecap: square"/>
   </g>
   <g id="patch_8">
    <path d="M 140.59 273.50 
L 140.59 75.45 
" style="fill: none; stroke: #000000; stroke-width: 0.8; stroke-linejoin: miter; stroke-linecap: square"/>
   </g>
   <g id="patch_9">
    <path d="M 266.01 273.50 
L 266.01 75.45 
" style="fill: none; stroke: #000000; stroke-width: 0.8; stroke-linejoin: miter; stroke-linecap: square"/>
   </g>
   <g id="patch_10">
    <path d="M 140.59 273.50 
L 266.01 273.50 
" style="fill: none; stroke: #000000; stroke-width: 0.8; stroke-linejoin: miter; stroke-linecap: square"/>
   </g>
   <g id="patch_11">
    <path d="M 140.59 75.45 
L 266.01 75.45 
" style="fill: none; stroke: #000000; stroke-width: 0.8; stroke-linejoin: miter; stroke-linecap: square"/>
   </g>
  </g>
  <g id="axes_3">
   <g id="patch_12">
    <path d="M 273.98 273.50 
L 340.70 273.50 
L 340.70 75.45 
L 273.98 75.45 
z
" style="fill: #ffffff"/>
   </g>
   <g id="matplotlib.axis_5">
    <g id="xtick_8">
     <g id="line2d_105">
      <g>
       <path d="M 0 0 L 0 -3.5" transform="translate(273.98 273.50)" style="stroke: #000000; stroke-width: 0.8"/>
      </g>
     </g>
     <g id="line2d_106">
      <g>
       <path d="M 0 0 L 0 3.5" transform="translate(273.98 75.45)" style="stroke: #000000; stroke-width: 0.8"/>
      </g>
     </g>
     <g id="text_14">
      
      <g transform="translate(268.38 284.60)">
       <text>
        <tspan x="0" y="-0.57" style="font-size: 10px; font-family: 'DejaVu Sans', sans-serif">S</tspan>
        <tspan x="6.44" y="1.06" style="font-size: 7px; font-family: 'DejaVu Sans', sans-serif">2</tspan>
       </text>
      </g>
     </g>
    </g>
    <g id="xtick_9">
     <g id="line2d_107">
      <g>
       <path d="M 0 0 L 0 -3.5" transform="translate(293.37 273.50)" style="stroke: #000000; stroke-width: 0.8"/>
      </g>
     </g>
     <g id="line2d_108">
      <g>
       <path d="M 0 0 L 0 3.5" transform="translate(293.37 75.45)" style="stroke: #000000; stroke-width: 0.8"/>
      </g>
     </g>
     <g id="text_15">
      
      <g transform="translate(290.47 284.60)">
       <text>
        <tspan x="0" y="-0.70" style="font-size: 10px; font-family: 'DejaVu Sans', sans-serif">F</tspan>
       </text>
      </g>
     </g>
    </g>
    <g id="xtick_10">
     <g id="line2d_109">
      <g>
       <path d="M 0 0 L 0 -3.5" transform="translate(340.70 273.50)" style="stroke: #000000; stroke-width: 0.8"/>
      </g>
     </g>
     <g id="line2d_110">
      <g>
       <path d="M 0 0 L 0 3.5" transform="translate(340.70 75.45)" style="stroke: #000000; stroke-width: 0.8"/>
      </g>
     </g>
     <g id="text_16">
      
      <g transform="translate(337.90 284.60)">
       <text>
        <tspan x="0" y="-0.70" style="font-size: 10px; font-family: 'DejaVu Sans', sans-serif">Γ</tspan>
       </text>
      </g>
     </g>
    </g>
   </g>
   <g id="matplotlib.axis_6">
    <g id="ytick_11">
     <g id="line2d_111">
      <g>
       <path d="M 0 0 L 3.5 0" transform="translate(273.98 264.14)" style="stroke: #000000; stroke-width: 0.8"/>
      </g>
     </g>
     <g id="line2d_112">
      <g>
       <path d="M 0 0 L -3.5 0" transform="translate(340.70 264.14)" style="stroke: #000000; stroke-width: 0.8"/>
      </g>
     </g>
    </g>
    <g id="ytick_12">
     <g id="line2d_113">
      <g>
       <path d="M 0 0 L 3.5 0" transform="translate(273.98 220.26)" style="stroke: #000000; stroke-width: 0.8"/>
      </g>
     </g>
     <g id="line2d_114">
      <g>
       <path d="M 0 0 L -3.5 0" transform="translate(340.70 220.26)" style="stroke: #000000; stroke-width: 0.8"/>
      </g>
     </g>
    </g>
    <g id="ytick_13">
     <g id="line2d_115">
      <g>
       <path d="M 0 0 L 3.5 0" transform="translate(273.98 176.37)" style="stroke: #000000; stroke-width: 0.8"/>
      </g>
     </g>
     <g id="line2d_116">
      <g>
       <path d="M 0 0 L -3.5 0" transform="translate(340.70 176.37)" style="stroke: #000000; stroke-width: 0.8"/>
      </g>
     </g>
    </g>
    <g id="ytick_14">
     <g id="line2d_117">
      <g>
       <path d="M 0 0 L 3.5 0" transform="translate(273.98 132.49)" style="stroke: #000000; stroke-width: 0.8"/>
      </g>
     </g>
     <g id="line2d_118">
      <g>
       <path d="M 0 0 L -3.5 0" transform="translate(340.70 132.49)" style="stroke: #000000; stroke-width: 0.8"/>
      </g>
     </g>
    </g>
    <g id="ytick_15">
     <g id="line2d_119">
      <g>
       <path d="M 0 0 L 3.5 0" transform="translate(273.98 88.60)" style="stroke: #000000; stroke-width: 0.8"/>
      </g>
     </g>
     <g id="line2d_120">
      <g>
       <path d="M 0 0 L -3.5 0" transform="translate(340.70 88.60)" style="stroke: #000000; stroke-width: 0.8"/>
      </g>
     </g>
    </g>
   </g>
   <g id="line2d_121">
    <path d="M 273.98 264.14 
L 340.70 264.14 
" clip-path="url(#p0adbd2e517)" style="fill: none; stroke-dasharray: 0.5,0.82; stroke-dashoffset: 0; stroke: #0000ff; stroke-width: 0.5"/>
   </g>
   <g id="line2d_122">
    <path d="M 274.30 86.17 
L 275.03 86.17 
L 275.77 86.17 
L 276.50 86.17 
L 277.23 86.17 
L 277.97 86.16 
L 278.70 86.16 
L 279.43 86.16 
L 280.17 86.16 
L 280.90 86.15 
L 281.63 86.15 
L 282.37 86.14 
L 283.10 86.14 
L 283.83 86.14 
L 284.57 86.13 
L 285.30 86.13 
L 286.03 86.12 
L 286.77 86.12 
L 287.50 86.12 
L 288.23 86.11 
L 288.97 86.11 
L 289.70 86.11 
L 290.43 86.10 
L 291.17 86.10 
L 291.90 86.10 
L 292.63 86.10 
L 293.37 86.10 
L 294.10 86.09 
L 294.83 86.09 
L 295.57 86.09 
L 296.30 86.10 
L 297.03 86.10 
L 297.77 86.10 
L 298.50 86.11 
L 299.23 86.11 
L 299.97 86.11 
L 300.70 86.12 
L 301.43 86.13 
L 302.17 86.13 
L 302.90 86.14 
L 303.63 86.15 
L 304.37 86.16 
L 305.10 86.17 
L 305.83 86.18 
L 306.57 86.19 
L 307.30 86.21 
L 308.03 86.24 
L 308.77 86.27 
L 309.50 86.31 
L 310.23 86.35 
L 310.97 86.39 
L 311.70 86.44 
L 312.43 86.48 
L 313.17 86.53 
L 313.90 86.58 
L 314.63 86.63 
L 315.37 86.67 
L 316.10 86.72 
L 316.83 86.76 
L 317.57 86.80 
L 318.30 86.84 
L 319.03 86.87 
L 319.77 86.90 
L 320.50 86.92 
L 321.23 86.94 
L 321.97 86.96 
L 322.70 86.99 
L 323.43 87.01 
L 324.17 87.03 
L 324.90 87.05 
L 325.63 87.07 
L 326.37 87.09 
L 327.10 87.10 
L 327.83 87.12 
L 328.57 87.14 
L 329.30 87.16 
L 330.03 87.17 
L 330.77 87.19 
L 331.50 87.20 
L 332.23 87.22 
L 332.97 87.23 
L 333.70 87.24 
L 334.43 87.25 
L 335.17 87.26 
L 335.90 87.27 
L 336.63 87.28 
L 337.37 87.28 
L 338.10 87.29 
L 338.83 87.29 
L 339.57 87.29 
L 340.30 87.3 
" clip-path="url(#p0adbd2e517)" style="fill: none; stroke: #ff0000; stroke-linecap: square"/>
   </g>
   <g id="line2d_123">
    <path d="M 274.30 88.42 
L 275.03 88.42 
L 275.77 88.43 
L 276.50 88.44 
L 277.23 88.45 
L 277.97 88.46 
L 278.70 88.48 
L 279.43 88.50 
L 280.17 88.52 
L 280.90 88.54 
L 281.63 88.56 
L 282.37 88.59 
L 283.10 88.61 
L 283.83 88.63 
L 284.57 88.66 
L 285.30 88.68 
L 286.03 88.70 
L 286.77 88.72 
L 287.50 88.74 
L 288.23 88.76 
L 288.97 88.77 
L 289.70 88.79 
L 290.43 88.80 
L 291.17 88.80 
L 291.90 88.80 
L 292.63 88.80 
L 293.37 88.80 
L 294.10 88.79 
L 294.83 88.77 
L 295.57 88.76 
L 296.30 88.74 
L 297.03 88.72 
L 297.77 88.70 
L 298.50 88.68 
L 299.23 88.65 
L 299.97 88.63 
L 300.70 88.60 
L 301.43 88.57 
L 302.17 88.55 
L 302.90 88.52 
L 303.63 88.49 
L 304.37 88.46 
L 305.10 88.43 
L 305.83 88.40 
L 306.57 88.37 
L 307.30 88.34 
L 308.03 88.30 
L 308.77 88.26 
L 309.50 88.22 
L 310.23 88.18 
L 310.97 88.13 
L 311.70 88.09 
L 312.43 88.04 
L 313.17 88.00 
L 313.90 87.96 
L 314.63 87.91 
L 315.37 87.87 
L 316.10 87.83 
L 316.83 87.80 
L 317.57 87.76 
L 318.30 87.73 
L 319.03 87.71 
L 319.77 87.69 
L 320.50 87.67 
L 321.23 87.66 
L 321.97 87.66 
L 322.70 87.66 
L 323.43 87.67 
L 324.17 87.69 
L 324.90 87.71 
L 325.63 87.74 
L 326.37 87.77 
L 327.10 87.80 
L 327.83 87.84 
L 328.57 87.88 
L 329.30 87.92 
L 330.03 87.96 
L 330.77 88.00 
L 331.50 88.04 
L 332.23 88.08 
L 332.97 88.14 
L 333.70 88.21 
L 334.43 88.29 
L 335.17 88.38 
L 335.90 88.47 
L 336.63 88.55 
L 337.37 88.63 
L 338.10 88.70 
L 338.83 88.75 
L 339.57 88.78 
L 340.30 88.8 
" clip-path="url(#p0adbd2e517)" style="fill: none; stroke: #ff0000; stroke-linecap: square"/>
   </g>
   <g id="line2d_124">
    <path d="M 274.30 89.4 
L 275.03 89.40 
L 275.77 89.40 
L 276.50 89.40 
L 277.23 89.40 
L 277.97 89.40 
L 278.70 89.40 
L 279.43 89.40 
L 280.17 89.40 
L 280.90 89.40 
L 281.63 89.41 
L 282.37 89.41 
L 283.10 89.41 
L 283.83 89.41 
L 284.57 89.41 
L 285.30 89.41 
L 286.03 89.41 
L 286.77 89.41 
L 287.50 89.41 
L 288.23 89.41 
L 288.97 89.41 
L 289.70 89.41 
L 290.43 89.41 
L 291.17 89.41 
L 291.90 89.40 
L 292.63 89.40 
L 293.37 89.40 
L 294.10 89.39 
L 294.83 89.38 
L 295.57 89.37 
L 296.30 89.36 
L 297.03 89.35 
L 297.77 89.34 
L 298.50 89.33 
L 299.23 89.31 
L 299.97 89.30 
L 300.70 89.28 
L 301.43 89.27 
L 302.17 89.25 
L 302.90 89.24 
L 303.63 89.22 
L 304.37 89.21 
L 305.10 89.20 
L 305.83 89.19 
L 306.57 89.18 
L 307.30 89.18 
L 308.03 89.17 
L 308.77 89.17 
L 309.50 89.17 
L 310.23 89.17 
L 310.97 89.18 
L 311.70 89.18 
L 312.43 89.19 
L 313.17 89.20 
L 313.90 89.21 
L 314.63 89.22 
L 315.37 89.23 
L 316.10 89.24 
L 316.83 89.25 
L 317.57 89.27 
L 318.30 89.28 
L 319.03 89.30 
L 319.77 89.31 
L 320.50 89.33 
L 321.23 89.34 
L 321.97 89.35 
L 322.70 89.37 
L 323.43 89.38 
L 324.17 89.39 
L 324.90 89.41 
L 325.63 89.42 
L 326.37 89.44 
L 327.10 89.45 
L 327.83 89.47 
L 328.57 89.49 
L 329.30 89.51 
L 330.03 89.53 
L 330.77 89.54 
L 331.50 89.56 
L 332.23 89.58 
L 332.97 89.60 
L 333.70 89.61 
L 334.43 89.63 
L 335.17 89.64 
L 335.90 89.66 
L 336.63 89.67 
L 337.37 89.68 
L 338.10 89.68 
L 338.83 89.69 
L 339.57 89.69 
L 340.30 89.7 
" clip-path="url(#p0adbd2e517)" style="fill: none; stroke: #ff0000; stroke-linecap: square"/>
   </g>
   <g id="line2d_125">
    <path d="M 274.30 104.55 
L 275.03 104.57 
L 275.77 104.63 
L 276.50 104.73 
L 277.23 104.86 
L 277.97 105.00 
L 278.70 105.16 
L 279.43 105.33 
L 280.17 105.50 
L 280.90 105.67 
L 281.63 105.82 
L 282.37 105.96 
L 283.10 106.07 
L 283.83 106.17 
L 284.57 106.28 
L 285.30 106.38 
L 286.03 106.48 
L 286.77 106.58 
L 287.50 106.67 
L 288.23 106.76 
L 288.97 106.84 
L 289.70 106.92 
L 290.43 106.99 
L 291.17 107.05 
L 291.90 107.10 
L 292.63 107.14 
L 293.37 107.17 
L 294.10 107.18 
L 294.83 107.15 
L 295.57 107.10 
L 296.30 107.03 
L 297.03 106.94 
L 297.77 106.82 
L 298.50 106.70 
L 299.23 106.56 
L 299.97 106.41 
L 300.70 106.25 
L 301.43 106.10 
L 302.17 105.93 
L 302.90 105.75 
L 303.63 105.55 
L 304.37 105.34 
L 305.10 105.11 
L 305.83 104.87 
L 306.57 104.62 
L 307.30 104.36 
L 308.03 104.09 
L 308.77 103.82 
L 309.50 103.55 
L 310.23 103.28 
L 310.97 103.00 
L 311.70 102.73 
L 312.43 102.47 
L 313.17 102.21 
L 313.90 101.95 
L 314.63 101.67 
L 315.37 101.40 
L 316.10 101.11 
L 316.83 100.83 
L 317.57 100.54 
L 318.30 100.25 
L 319.03 99.97 
L 319.77 99.69 
L 320.50 99.41 
L 321.23 99.14 
L 321.97 98.88 
L 322.70 98.63 
L 323.43 98.40 
L 324.17 98.17 
L 324.90 97.96 
L 325.63 97.74 
L 326.37 97.53 
L 327.10 97.32 
L 327.83 97.11 
L 328.57 96.91 
L 329.30 96.72 
L 330.03 96.54 
L 330.77 96.36 
L 331.50 96.20 
L 332.23 96.05 
L 332.97 95.91 
L 333.70 95.78 
L 334.43 95.67 
L 335.17 95.57 
L 335.90 95.50 
L 336.63 95.45 
L 337.37 95.42 
L 338.10 95.40 
L 338.83 95.39 
L 339.57 95.39 
L 340.30 95.4 
" clip-path="url(#p0adbd2e517)" style="fill: none; stroke: #ff0000; stroke-linecap: square"/>
   </g>
   <g id="line2d_126">
    <path d="M 274.30 109.8 
L 275.03 109.80 
L 275.77 109.82 
L 276.50 109.84 
L 277.23 109.88 
L 277.97 109.92 
L 278.70 109.96 
L 279.43 110.02 
L 280.17 110.07 
L 280.90 110.13 
L 281.63 110.19 
L 282.37 110.25 
L 283.10 110.31 
L 283.83 110.37 
L 284.57 110.43 
L 285.30 110.49 
L 286.03 110.54 
L 286.77 110.58 
L 287.50 110.62 
L 288.23 110.65 
L 288.97 110.67 
L 289.70 110.68 
L 290.43 110.68 
L 291.17 110.67 
L 291.90 110.64 
L 292.63 110.60 
L 293.37 110.55 
L 294.10 110.48 
L 294.83 110.40 
L 295.57 110.30 
L 296.30 110.19 
L 297.03 110.08 
L 297.77 109.95 
L 298.50 109.81 
L 299.23 109.67 
L 299.97 109.52 
L 300.70 109.36 
L 301.43 109.20 
L 302.17 109.04 
L 302.90 108.87 
L 303.63 108.70 
L 304.37 108.54 
L 305.10 108.37 
L 305.83 108.20 
L 306.57 108.02 
L 307.30 107.83 
L 308.03 107.63 
L 308.77 107.42 
L 309.50 107.21 
L 310.23 106.99 
L 310.97 106.78 
L 311.70 106.56 
L 312.43 106.35 
L 313.17 106.14 
L 313.90 105.94 
L 314.63 105.75 
L 315.37 105.58 
L 316.10 105.41 
L 316.83 105.26 
L 317.57 105.12 
L 318.30 104.98 
L 319.03 104.85 
L 319.77 104.72 
L 320.50 104.59 
L 321.23 104.46 
L 321.97 104.34 
L 322.70 104.23 
L 323.43 104.12 
L 324.17 104.02 
L 324.90 103.93 
L 325.63 103.85 
L 326.37 103.77 
L 327.10 103.71 
L 327.83 103.65 
L 328.57 103.60 
L 329.30 103.56 
L 330.03 103.51 
L 330.77 103.47 
L 331.50 103.43 
L 332.23 103.40 
L 332.97 103.36 
L 333.70 103.33 
L 334.43 103.30 
L 335.17 103.28 
L 335.90 103.26 
L 336.63 103.24 
L 337.37 103.22 
L 338.10 103.21 
L 338.83 103.20 
L 339.57 103.20 
L 340.30 103.2 
" clip-path="url(#p0adbd2e517)" style="fill: none; stroke: #ff0000; stroke-linecap: square"/>
   </g>
   <g id="line2d_127">
    <path d="M 274.30 115.42 
L 275.03 115.38 
L 275.77 115.26 
L 276.50 115.09 
L 277.23 114.89 
L 277.97 114.69 
L 278.70 114.51 
L 279.43 114.37 
L 280.17 114.30 
L 280.90 114.31 
L 281.63 114.35 
L 282.37 114.42 
L 283.10 114.51 
L 283.83 114.60 
L 284.57 114.71 
L 285.30 114.82 
L 286.03 114.94 
L 286.77 115.06 
L 287.50 115.20 
L 288.23 115.38 
L 288.97 115.57 
L 289.70 115.76 
L 290.43 115.95 
L 291.17 116.12 
L 291.90 116.26 
L 292.63 116.36 
L 293.37 116.39 
L 294.10 116.39 
L 294.83 116.37 
L 295.57 116.35 
L 296.30 116.31 
L 297.03 116.26 
L 297.77 116.21 
L 298.50 116.15 
L 299.23 116.09 
L 299.97 116.03 
L 300.70 115.97 
L 301.43 115.90 
L 302.17 115.84 
L 302.90 115.79 
L 303.63 115.74 
L 304.37 115.69 
L 305.10 115.66 
L 305.83 115.63 
L 306.57 115.60 
L 307.30 115.58 
L 308.03 115.55 
L 308.77 115.52 
L 309.50 115.49 
L 310.23 115.47 
L 310.97 115.44 
L 311.70 115.41 
L 312.43 115.39 
L 313.17 115.36 
L 313.90 115.34 
L 314.63 115.31 
L 315.37 115.29 
L 316.10 115.27 
L 316.83 115.25 
L 317.57 115.24 
L 318.30 115.22 
L 319.03 115.21 
L 319.77 115.20 
L 320.50 115.19 
L 321.23 115.19 
L 321.97 115.19 
L 322.70 115.20 
L 323.43 115.21 
L 324.17 115.22 
L 324.90 115.23 
L 325.63 115.25 
L 326.37 115.27 
L 327.10 115.29 
L 327.83 115.32 
L 328.57 115.34 
L 329.30 115.36 
L 330.03 115.39 
L 330.77 115.42 
L 331.50 115.44 
L 332.23 115.47 
L 332.97 115.49 
L 333.70 115.52 
L 334.43 115.54 
L 335.17 115.56 
L 335.90 115.58 
L 336.63 115.60 
L 337.37 115.62 
L 338.10 115.63 
L 338.83 115.64 
L 339.57 115.64 
L 340.30 115.65 
" clip-path="url(#p0adbd2e517)" style="fill: none; stroke: #ff0000; stroke-linecap: square"/>
   </g>
   <g id="line2d_128">
    <path d="M 274.30 124.42 
L 275.03 124.38 
L 275.77 124.27 
L 276.50 124.10 
L 277.23 123.88 
L 277.97 123.63 
L 278.70 123.35 
L 279.43 123.05 
L 280.17 122.76 
L 280.90 122.47 
L 281.63 122.19 
L 282.37 121.95 
L 283.10 121.75 
L 283.83 121.56 
L 284.57 121.35 
L 285.30 121.15 
L 286.03 120.94 
L 286.77 120.74 
L 287.50 120.54 
L 288.23 120.36 
L 288.97 120.18 
L 289.70 120.02 
L 290.43 119.88 
L 291.17 119.75 
L 291.90 119.66 
L 292.63 119.59 
L 293.37 119.55 
L 294.10 119.53 
L 294.83 119.54 
L 295.57 119.57 
L 296.30 119.62 
L 297.03 119.68 
L 297.77 119.75 
L 298.50 119.84 
L 299.23 119.94 
L 299.97 120.05 
L 300.70 120.17 
L 301.43 120.30 
L 302.17 120.43 
L 302.90 120.56 
L 303.63 120.70 
L 304.37 120.84 
L 305.10 120.98 
L 305.83 121.12 
L 306.57 121.27 
L 307.30 121.43 
L 308.03 121.60 
L 308.77 121.77 
L 309.50 121.95 
L 310.23 122.13 
L 310.97 122.32 
L 311.70 122.50 
L 312.43 122.69 
L 313.17 122.87 
L 313.90 123.05 
L 314.63 123.22 
L 315.37 123.39 
L 316.10 123.55 
L 316.83 123.70 
L 317.57 123.85 
L 318.30 124.00 
L 319.03 124.15 
L 319.77 124.29 
L 320.50 124.43 
L 321.23 124.56 
L 321.97 124.69 
L 322.70 124.81 
L 323.43 124.92 
L 324.17 125.02 
L 324.90 125.11 
L 325.63 125.21 
L 326.37 125.30 
L 327.10 125.39 
L 327.83 125.48 
L 328.57 125.57 
L 329.30 125.65 
L 330.03 125.73 
L 330.77 125.81 
L 331.50 125.88 
L 332.23 125.94 
L 332.97 126.00 
L 333.70 126.05 
L 334.43 126.10 
L 335.17 126.13 
L 335.90 126.16 
L 336.63 126.17 
L 337.37 126.17 
L 338.10 126.17 
L 338.83 126.16 
L 339.57 126.15 
L 340.30 126.15 
" clip-path="url(#p0adbd2e517)" style="fill: none; stroke: #ff0000; stroke-linecap: square"/>
   </g>
   <g id="line2d_129">
    <path d="M 274.30 126.9 
L 275.03 126.91 
L 275.77 126.95 
L 276.50 127.01 
L 277.23 127.10 
L 277.97 127.19 
L 278.70 127.29 
L 279.43 127.40 
L 280.17 127.50 
L 280.90 127.60 
L 281.63 127.68 
L 282.37 127.75 
L 283.10 127.81 
L 283.83 127.84 
L 284.57 127.87 
L 285.30 127.88 
L 286.03 127.89 
L 286.77 127.89 
L 287.50 127.89 
L 288.23 127.89 
L 288.97 127.89 
L 289.70 127.89 
L 290.43 127.90 
L 291.17 127.91 
L 291.90 127.94 
L 292.63 127.97 
L 293.37 128.02 
L 294.10 128.08 
L 294.83 128.16 
L 295.57 128.25 
L 296.30 128.36 
L 297.03 128.47 
L 297.77 128.60 
L 298.50 128.72 
L 299.23 128.86 
L 299.97 128.99 
L 300.70 129.12 
L 301.43 129.25 
L 302.17 129.38 
L 302.90 129.53 
L 303.63 129.70 
L 304.37 129.88 
L 305.10 130.06 
L 305.83 130.25 
L 306.57 130.44 
L 307.30 130.63 
L 308.03 130.81 
L 308.77 130.98 
L 309.50 131.14 
L 310.23 131.27 
L 310.97 131.39 
L 311.70 131.47 
L 312.43 131.53 
L 313.17 131.55 
L 313.90 131.53 
L 314.63 131.48 
L 315.37 131.40 
L 316.10 131.28 
L 316.83 131.15 
L 317.57 131.00 
L 318.30 130.82 
L 319.03 130.64 
L 319.77 130.45 
L 320.50 130.25 
L 321.23 130.05 
L 321.97 129.85 
L 322.70 129.65 
L 323.43 129.47 
L 324.17 129.30 
L 324.90 129.13 
L 325.63 128.94 
L 326.37 128.75 
L 327.10 128.55 
L 327.83 128.35 
L 328.57 128.14 
L 329.30 127.93 
L 330.03 127.73 
L 330.77 127.53 
L 331.50 127.34 
L 332.23 127.15 
L 332.97 126.98 
L 333.70 126.82 
L 334.43 126.68 
L 335.17 126.56 
L 335.90 126.46 
L 336.63 126.39 
L 337.37 126.34 
L 338.10 126.31 
L 338.83 126.30 
L 339.57 126.30 
L 340.30 126.3 
" clip-path="url(#p0adbd2e517)" style="fill: none; stroke: #ff0000; stroke-linecap: square"/>
   </g>
   <g id="line2d_130">
    <path d="M 274.30 134.4 
L 275.03 134.38 
L 275.77 134.34 
L 276.50 134.28 
L 277.23 134.21 
L 277.97 134.12 
L 278.70 134.02 
L 279.43 133.92 
L 280.17 133.81 
L 280.90 133.72 
L 281.63 133.62 
L 282.37 133.55 
L 283.10 133.48 
L 283.83 133.42 
L 284.57 133.36 
L 285.30 133.29 
L 286.03 133.23 
L 286.77 133.17 
L 287.50 133.11 
L 288.23 133.05 
L 288.97 133.00 
L 289.70 132.96 
L 290.43 132.92 
L 291.17 132.90 
L 291.90 132.88 
L 292.63 132.88 
L 293.37 132.89 
L 294.10 132.92 
L 294.83 132.95 
L 295.57 133.00 
L 296.30 133.05 
L 297.03 133.11 
L 297.77 133.18 
L 298.50 133.25 
L 299.23 133.33 
L 299.97 133.41 
L 300.70 133.49 
L 301.43 133.58 
L 302.17 133.66 
L 302.90 133.75 
L 303.63 133.83 
L 304.37 133.91 
L 305.10 133.99 
L 305.83 134.06 
L 306.57 134.13 
L 307.30 134.21 
L 308.03 134.28 
L 308.77 134.36 
L 309.50 134.44 
L 310.23 134.51 
L 310.97 134.59 
L 311.70 134.67 
L 312.43 134.75 
L 313.17 134.82 
L 313.90 134.90 
L 314.63 134.98 
L 315.37 135.05 
L 316.10 135.12 
L 316.83 135.20 
L 317.57 135.27 
L 318.30 135.34 
L 319.03 135.40 
L 319.77 135.46 
L 320.50 135.53 
L 321.23 135.59 
L 321.97 135.65 
L 322.70 135.70 
L 323.43 135.76 
L 324.17 135.82 
L 324.90 135.87 
L 325.63 135.93 
L 326.37 135.98 
L 327.10 136.03 
L 327.83 136.08 
L 328.57 136.12 
L 329.30 136.16 
L 330.03 136.20 
L 330.77 136.23 
L 331.50 136.26 
L 332.23 136.29 
L 332.97 136.32 
L 333.70 136.35 
L 334.43 136.37 
L 335.17 136.40 
L 335.90 136.42 
L 336.63 136.44 
L 337.37 136.46 
L 338.10 136.47 
L 338.83 136.49 
L 339.57 136.49 
L 340.30 136.5 
" clip-path="url(#p0adbd2e517)" style="fill: none; stroke: #ff0000; stroke-linecap: square"/>
   </g>
   <g id="line2d_131">
    <path d="M 274.30 140.02 
L 275.03 139.96 
L 275.77 139.80 
L 276.50 139.55 
L 277.23 139.23 
L 277.97 138.85 
L 278.70 138.44 
L 279.43 138.01 
L 280.17 137.58 
L 280.90 137.17 
L 281.63 136.80 
L 282.37 136.47 
L 283.10 136.21 
L 283.83 135.98 
L 284.57 135.74 
L 285.30 135.50 
L 286.03 135.26 
L 286.77 135.04 
L 287.50 134.82 
L 288.23 134.61 
L 288.97 134.41 
L 289.70 134.23 
L 290.43 134.07 
L 291.17 133.93 
L 291.90 133.81 
L 292.63 133.71 
L 293.37 133.65 
L 294.10 133.61 
L 294.83 133.61 
L 295.57 133.64 
L 296.30 133.70 
L 297.03 133.78 
L 297.77 133.89 
L 298.50 134.01 
L 299.23 134.16 
L 299.97 134.33 
L 300.70 134.51 
L 301.43 134.70 
L 302.17 134.91 
L 302.90 135.15 
L 303.63 135.41 
L 304.37 135.69 
L 305.10 135.98 
L 305.83 136.30 
L 306.57 136.63 
L 307.30 136.96 
L 308.03 137.31 
L 308.77 137.66 
L 309.50 138.02 
L 310.23 138.37 
L 310.97 138.73 
L 311.70 139.08 
L 312.43 139.42 
L 313.17 139.75 
L 313.90 140.09 
L 314.63 140.43 
L 315.37 140.77 
L 316.10 141.12 
L 316.83 141.47 
L 317.57 141.82 
L 318.30 142.17 
L 319.03 142.52 
L 319.77 142.87 
L 320.50 143.22 
L 321.23 143.56 
L 321.97 143.90 
L 322.70 144.24 
L 323.43 144.57 
L 324.17 144.89 
L 324.90 145.22 
L 325.63 145.55 
L 326.37 145.89 
L 327.10 146.23 
L 327.83 146.55 
L 328.57 146.87 
L 329.30 147.16 
L 330.03 147.43 
L 330.77 147.66 
L 331.50 147.85 
L 332.23 148.01 
L 332.97 148.15 
L 333.70 148.26 
L 334.43 148.36 
L 335.17 148.44 
L 335.90 148.50 
L 336.63 148.55 
L 337.37 148.59 
L 338.10 148.62 
L 338.83 148.63 
L 339.57 148.64 
L 340.30 148.65 
" clip-path="url(#p0adbd2e517)" style="fill: none; stroke: #ff0000; stroke-linecap: square"/>
   </g>
   <g id="line2d_132">
    <path d="M 274.30 142.8 
L 275.03 142.82 
L 275.77 142.91 
L 276.50 143.03 
L 277.23 143.20 
L 277.97 143.39 
L 278.70 143.61 
L 279.43 143.84 
L 280.17 144.07 
L 280.90 144.31 
L 281.63 144.54 
L 282.37 144.75 
L 283.10 144.94 
L 283.83 145.13 
L 284.57 145.34 
L 285.30 145.56 
L 286.03 145.78 
L 286.77 146.01 
L 287.50 146.24 
L 288.23 146.46 
L 288.97 146.67 
L 289.70 146.87 
L 290.43 147.05 
L 291.17 147.21 
L 291.90 147.34 
L 292.63 147.45 
L 293.37 147.52 
L 294.10 147.55 
L 294.83 147.56 
L 295.57 147.55 
L 296.30 147.51 
L 297.03 147.46 
L 297.77 147.40 
L 298.50 147.32 
L 299.23 147.24 
L 299.97 147.15 
L 300.70 147.07 
L 301.43 146.99 
L 302.17 146.92 
L 302.90 146.85 
L 303.63 146.81 
L 304.37 146.78 
L 305.10 146.77 
L 305.83 146.78 
L 306.57 146.81 
L 307.30 146.85 
L 308.03 146.90 
L 308.77 146.97 
L 309.50 147.04 
L 310.23 147.13 
L 310.97 147.22 
L 311.70 147.33 
L 312.43 147.44 
L 313.17 147.56 
L 313.90 147.70 
L 314.63 147.87 
L 315.37 148.05 
L 316.10 148.25 
L 316.83 148.46 
L 317.57 148.68 
L 318.30 148.92 
L 319.03 149.16 
L 319.77 149.41 
L 320.50 149.66 
L 321.23 149.91 
L 321.97 150.16 
L 322.70 150.41 
L 323.43 150.66 
L 324.17 150.89 
L 324.90 151.13 
L 325.63 151.38 
L 326.37 151.64 
L 327.10 151.91 
L 327.83 152.19 
L 328.57 152.46 
L 329.30 152.74 
L 330.03 153.01 
L 330.77 153.28 
L 331.50 153.53 
L 332.23 153.78 
L 332.97 154.01 
L 333.70 154.22 
L 334.43 154.42 
L 335.17 154.59 
L 335.90 154.74 
L 336.63 154.88 
L 337.37 155.00 
L 338.10 155.10 
L 338.83 155.18 
L 339.57 155.23 
L 340.30 155.25 
" clip-path="url(#p0adbd2e517)" style="fill: none; stroke: #ff0000; stroke-linecap: square"/>
   </g>
   <g id="line2d_133">
    <path d="M 274.30 156 
L 275.03 155.98 
L 275.77 155.94 
L 276.50 155.87 
L 277.23 155.79 
L 277.97 155.70 
L 278.70 155.59 
L 279.43 155.48 
L 280.17 155.37 
L 280.90 155.26 
L 281.63 155.16 
L 282.37 155.07 
L 283.10 155.00 
L 283.83 154.94 
L 284.57 154.87 
L 285.30 154.79 
L 286.03 154.72 
L 286.77 154.65 
L 287.50 154.58 
L 288.23 154.51 
L 288.97 154.45 
L 289.70 154.39 
L 290.43 154.35 
L 291.17 154.31 
L 291.90 154.28 
L 292.63 154.27 
L 293.37 154.27 
L 294.10 154.28 
L 294.83 154.29 
L 295.57 154.31 
L 296.30 154.33 
L 297.03 154.35 
L 297.77 154.37 
L 298.50 154.40 
L 299.23 154.43 
L 299.97 154.45 
L 300.70 154.48 
L 301.43 154.51 
L 302.17 154.54 
L 302.90 154.57 
L 303.63 154.59 
L 304.37 154.61 
L 305.10 154.64 
L 305.83 154.66 
L 306.57 154.68 
L 307.30 154.70 
L 308.03 154.72 
L 308.77 154.74 
L 309.50 154.76 
L 310.23 154.78 
L 310.97 154.80 
L 311.70 154.82 
L 312.43 154.84 
L 313.17 154.86 
L 313.90 154.88 
L 314.63 154.90 
L 315.37 154.91 
L 316.10 154.93 
L 316.83 154.95 
L 317.57 154.97 
L 318.30 154.98 
L 319.03 155.00 
L 319.77 155.01 
L 320.50 155.02 
L 321.23 155.03 
L 321.97 155.04 
L 322.70 155.06 
L 323.43 155.07 
L 324.17 155.08 
L 324.90 155.09 
L 325.63 155.10 
L 326.37 155.12 
L 327.10 155.13 
L 327.83 155.14 
L 328.57 155.15 
L 329.30 155.16 
L 330.03 155.17 
L 330.77 155.18 
L 331.50 155.19 
L 332.23 155.20 
L 332.97 155.20 
L 333.70 155.21 
L 334.43 155.22 
L 335.17 155.22 
L 335.90 155.23 
L 336.63 155.23 
L 337.37 155.24 
L 338.10 155.24 
L 338.83 155.24 
L 339.57 155.24 
L 340.30 155.25 
" clip-path="url(#p0adbd2e517)" style="fill: none; stroke: #ff0000; stroke-linecap: square"/>
   </g>
   <g id="line2d_134">
    <path d="M 274.30 165.3 
L 275.03 165.31 
L 275.77 165.36 
L 276.50 165.43 
L 277.23 165.53 
L 277.97 165.64 
L 278.70 165.78 
L 279.43 165.92 
L 280.17 166.08 
L 280.90 166.24 
L 281.63 166.41 
L 282.37 166.58 
L 283.10 166.74 
L 283.83 166.90 
L 284.57 167.05 
L 285.30 167.19 
L 286.03 167.31 
L 286.77 167.41 
L 287.50 167.50 
L 288.23 167.58 
L 288.97 167.66 
L 289.70 167.74 
L 290.43 167.82 
L 291.17 167.89 
L 291.90 167.96 
L 292.63 168.03 
L 293.37 168.10 
L 294.10 168.17 
L 294.83 168.23 
L 295.57 168.30 
L 296.30 168.37 
L 297.03 168.43 
L 297.77 168.50 
L 298.50 168.57 
L 299.23 168.64 
L 299.97 168.71 
L 300.70 168.79 
L 301.43 168.87 
L 302.17 168.95 
L 302.90 169.06 
L 303.63 169.18 
L 304.37 169.31 
L 305.10 169.45 
L 305.83 169.59 
L 306.57 169.73 
L 307.30 169.87 
L 308.03 170.00 
L 308.77 170.12 
L 309.50 170.22 
L 310.23 170.30 
L 310.97 170.36 
L 311.70 170.39 
L 312.43 170.39 
L 313.17 170.30 
L 313.90 170.14 
L 314.63 169.91 
L 315.37 169.63 
L 316.10 169.31 
L 316.83 168.97 
L 317.57 168.62 
L 318.30 168.27 
L 319.03 167.93 
L 319.77 167.63 
L 320.50 167.37 
L 321.23 167.13 
L 321.97 166.89 
L 322.70 166.65 
L 323.43 166.41 
L 324.17 166.17 
L 324.90 165.93 
L 325.63 165.69 
L 326.37 165.46 
L 327.10 165.24 
L 327.83 165.02 
L 328.57 164.81 
L 329.30 164.61 
L 330.03 164.41 
L 330.77 164.23 
L 331.50 164.06 
L 332.23 163.89 
L 332.97 163.72 
L 333.70 163.55 
L 334.43 163.38 
L 335.17 163.21 
L 335.90 163.05 
L 336.63 162.90 
L 337.37 162.78 
L 338.10 162.67 
L 338.83 162.59 
L 339.57 162.54 
L 340.30 162.52 
" clip-path="url(#p0adbd2e517)" style="fill: none; stroke: #ff0000; stroke-linecap: square"/>
   </g>
   <g id="line2d_135">
    <path d="M 274.30 174.15 
L 275.03 174.13 
L 275.77 174.08 
L 276.50 174.01 
L 277.23 173.92 
L 277.97 173.81 
L 278.70 173.68 
L 279.43 173.55 
L 280.17 173.40 
L 280.90 173.25 
L 281.63 173.09 
L 282.37 172.94 
L 283.10 172.80 
L 283.83 172.66 
L 284.57 172.53 
L 285.30 172.42 
L 286.03 172.33 
L 286.77 172.26 
L 287.50 172.21 
L 288.23 172.16 
L 288.97 172.11 
L 289.70 172.08 
L 290.43 172.04 
L 291.17 172.01 
L 291.90 171.98 
L 292.63 171.96 
L 293.37 171.93 
L 294.10 171.91 
L 294.83 171.88 
L 295.57 171.86 
L 296.30 171.83 
L 297.03 171.80 
L 297.77 171.77 
L 298.50 171.73 
L 299.23 171.69 
L 299.97 171.65 
L 300.70 171.60 
L 301.43 171.54 
L 302.17 171.48 
L 302.90 171.41 
L 303.63 171.33 
L 304.37 171.26 
L 305.10 171.18 
L 305.83 171.10 
L 306.57 171.02 
L 307.30 170.93 
L 308.03 170.85 
L 308.77 170.76 
L 309.50 170.68 
L 310.23 170.60 
L 310.97 170.52 
L 311.70 170.44 
L 312.43 170.37 
L 313.17 170.29 
L 313.90 170.22 
L 314.63 170.14 
L 315.37 170.07 
L 316.10 169.99 
L 316.83 169.92 
L 317.57 169.84 
L 318.30 169.77 
L 319.03 169.70 
L 319.77 169.63 
L 320.50 169.56 
L 321.23 169.49 
L 321.97 169.43 
L 322.70 169.37 
L 323.43 169.32 
L 324.17 169.27 
L 324.90 169.22 
L 325.63 169.17 
L 326.37 169.13 
L 327.10 169.08 
L 327.83 169.03 
L 328.57 168.98 
L 329.30 168.94 
L 330.03 168.89 
L 330.77 168.85 
L 331.50 168.81 
L 332.23 168.77 
L 332.97 168.73 
L 333.70 168.69 
L 334.43 168.66 
L 335.17 168.63 
L 335.90 168.60 
L 336.63 168.58 
L 337.37 168.56 
L 338.10 168.54 
L 338.83 168.53 
L 339.57 168.52 
L 340.30 168.52 
" clip-path="url(#p0adbd2e517)" style="fill: none; stroke: #ff0000; stroke-linecap: square"/>
   </g>
   <g id="line2d_136">
    <path d="M 274.43 173.63 
L 275.17 173.65 
L 275.90 173.69 
L 276.63 173.75 
L 277.36 173.83 
L 278.09 173.93 
L 278.83 174.03 
L 279.56 174.15 
L 280.29 174.26 
L 281.02 174.38 
L 281.75 174.49 
L 282.49 174.60 
L 283.22 174.69 
L 283.95 174.77 
L 284.68 174.86 
L 285.41 174.96 
L 286.15 175.06 
L 286.88 175.16 
L 287.61 175.25 
L 288.34 175.35 
L 289.07 175.44 
L 289.81 175.53 
L 290.54 175.60 
L 291.27 175.67 
L 292.00 175.72 
L 292.73 175.76 
L 293.47 175.79 
L 294.20 175.79 
L 294.93 175.78 
L 295.66 175.74 
L 296.39 175.68 
L 297.13 175.59 
L 297.86 175.50 
L 298.59 175.39 
L 299.32 175.27 
L 300.05 175.15 
L 300.79 175.03 
L 301.52 174.91 
L 302.25 174.80 
L 302.98 174.70 
L 303.71 174.60 
L 304.45 174.49 
L 305.18 174.37 
L 305.91 174.25 
L 306.64 174.12 
L 307.37 174.00 
L 308.11 173.88 
L 308.84 173.76 
L 309.57 173.65 
L 310.30 173.54 
L 311.03 173.45 
L 311.77 173.37 
L 312.50 173.31 
L 313.23 173.26 
L 313.96 173.27 
L 314.69 173.32 
L 315.42 173.42 
L 316.16 173.56 
L 316.89 173.72 
L 317.62 173.89 
L 318.35 174.08 
L 319.08 174.27 
L 319.82 174.46 
L 320.55 174.68 
L 321.28 174.93 
L 322.01 175.20 
L 322.74 175.49 
L 323.48 175.78 
L 324.21 176.07 
L 324.94 176.34 
L 325.67 176.59 
L 326.40 176.81 
L 327.14 177.00 
L 327.87 177.19 
L 328.60 177.37 
L 329.33 177.54 
L 330.06 177.70 
L 330.80 177.86 
L 331.53 177.99 
L 332.26 178.12 
L 332.99 178.22 
L 333.72 178.30 
L 334.46 178.37 
L 335.19 178.44 
L 335.92 178.49 
L 336.65 178.55 
L 337.38 178.59 
L 338.12 178.63 
L 338.85 178.65 
L 339.58 178.67 
L 340.31 178.67 
" clip-path="url(#p0adbd2e517)" style="fill: none; stroke: #ff0000; stroke-linecap: square"/>
   </g>
   <g id="line2d_137">
    <path d="M 274.43 176.51 
L 275.17 176.51 
L 275.90 176.51 
L 276.63 176.50 
L 277.36 176.49 
L 278.09 176.48 
L 278.83 176.47 
L 279.56 176.46 
L 280.29 176.44 
L 281.02 176.43 
L 281.75 176.41 
L 282.49 176.40 
L 283.22 176.38 
L 283.95 176.37 
L 284.68 176.36 
L 285.41 176.35 
L 286.15 176.34 
L 286.88 176.34 
L 287.61 176.34 
L 288.34 176.34 
L 289.07 176.35 
L 289.81 176.35 
L 290.54 176.37 
L 291.27 176.39 
L 292.00 176.41 
L 292.73 176.44 
L 293.47 176.47 
L 294.20 176.51 
L 294.93 176.56 
L 295.66 176.61 
L 296.39 176.68 
L 297.13 176.74 
L 297.86 176.81 
L 298.59 176.89 
L 299.32 176.97 
L 300.05 177.05 
L 300.79 177.13 
L 301.52 177.21 
L 302.25 177.29 
L 302.98 177.38 
L 303.71 177.46 
L 304.45 177.53 
L 305.18 177.61 
L 305.91 177.68 
L 306.64 177.75 
L 307.37 177.82 
L 308.11 177.89 
L 308.84 177.96 
L 309.57 178.03 
L 310.30 178.10 
L 311.03 178.18 
L 311.77 178.25 
L 312.50 178.32 
L 313.23 178.39 
L 313.96 178.47 
L 314.69 178.55 
L 315.42 178.63 
L 316.16 178.71 
L 316.89 178.80 
L 317.62 178.89 
L 318.35 178.98 
L 319.08 179.07 
L 319.82 179.17 
L 320.55 179.26 
L 321.28 179.36 
L 322.01 179.46 
L 322.74 179.57 
L 323.48 179.67 
L 324.21 179.77 
L 324.94 179.87 
L 325.67 179.98 
L 326.40 180.08 
L 327.14 180.19 
L 327.87 180.30 
L 328.60 180.41 
L 329.33 180.52 
L 330.06 180.64 
L 330.80 180.75 
L 331.53 180.87 
L 332.26 180.98 
L 332.99 181.08 
L 333.72 181.18 
L 334.46 181.28 
L 335.19 181.38 
L 335.92 181.49 
L 336.65 181.60 
L 337.38 181.70 
L 338.12 181.79 
L 338.85 181.85 
L 339.58 181.90 
L 340.31 181.91 
" clip-path="url(#p0adbd2e517)" style="fill: none; stroke: #ff0000; stroke-linecap: square"/>
   </g>
   <g id="line2d_138">
    <path d="M 274.43 183.35 
L 275.17 183.33 
L 275.90 183.27 
L 276.63 183.17 
L 277.36 183.04 
L 278.09 182.88 
L 278.83 182.70 
L 279.56 182.50 
L 280.29 182.29 
L 281.02 182.07 
L 281.75 181.84 
L 282.49 181.61 
L 283.22 181.39 
L 283.95 181.18 
L 284.68 180.98 
L 285.41 180.79 
L 286.15 180.63 
L 286.88 180.50 
L 287.61 180.39 
L 288.34 180.28 
L 289.07 180.17 
L 289.81 180.07 
L 290.54 179.97 
L 291.27 179.87 
L 292.00 179.77 
L 292.73 179.68 
L 293.47 179.59 
L 294.20 179.50 
L 294.93 179.41 
L 295.66 179.32 
L 296.39 179.23 
L 297.13 179.15 
L 297.86 179.07 
L 298.59 178.98 
L 299.32 178.90 
L 300.05 178.82 
L 300.79 178.74 
L 301.52 178.67 
L 302.25 178.59 
L 302.98 178.51 
L 303.71 178.44 
L 304.45 178.37 
L 305.18 178.29 
L 305.91 178.22 
L 306.64 178.15 
L 307.37 178.08 
L 308.11 178.01 
L 308.84 177.93 
L 309.57 177.86 
L 310.30 177.78 
L 311.03 177.70 
L 311.77 177.62 
L 312.50 177.54 
L 313.23 177.46 
L 313.96 177.37 
L 314.69 177.29 
L 315.42 177.21 
L 316.16 177.13 
L 316.89 177.05 
L 317.62 176.97 
L 318.35 176.90 
L 319.08 176.83 
L 319.82 176.76 
L 320.55 176.70 
L 321.28 176.64 
L 322.01 176.58 
L 322.74 176.53 
L 323.48 176.49 
L 324.21 176.45 
L 324.94 176.41 
L 325.67 176.37 
L 326.40 176.33 
L 327.14 176.30 
L 327.87 176.27 
L 328.60 176.24 
L 329.33 176.21 
L 330.06 176.18 
L 330.80 176.16 
L 331.53 176.14 
L 332.26 176.12 
L 332.99 176.10 
L 333.72 176.08 
L 334.46 176.07 
L 335.19 176.05 
L 335.92 176.04 
L 336.65 176.03 
L 337.38 176.02 
L 338.12 176.02 
L 338.85 176.01 
L 339.58 176.01 
L 340.31 176.01 
" clip-path="url(#p0adbd2e517)" style="fill: none; stroke: #ff0000; stroke-linecap: square"/>
   </g>
   <g id="line2d_139">
    <path d="M 274.43 183.35 
L 275.17 183.37 
L 275.90 183.41 
L 276.63 183.48 
L 277.36 183.57 
L 278.09 183.67 
L 278.83 183.79 
L 279.56 183.92 
L 280.29 184.06 
L 281.02 184.21 
L 281.75 184.35 
L 282.49 184.50 
L 283.22 184.64 
L 283.95 184.77 
L 284.68 184.89 
L 285.41 184.99 
L 286.15 185.08 
L 286.88 185.14 
L 287.61 185.19 
L 288.34 185.24 
L 289.07 185.28 
L 289.81 185.32 
L 290.54 185.36 
L 291.27 185.39 
L 292.00 185.43 
L 292.73 185.46 
L 293.47 185.49 
L 294.20 185.51 
L 294.93 185.54 
L 295.66 185.56 
L 296.39 185.58 
L 297.13 185.60 
L 297.86 185.61 
L 298.59 185.63 
L 299.32 185.64 
L 300.05 185.65 
L 300.79 185.65 
L 301.52 185.66 
L 302.25 185.65 
L 302.98 185.64 
L 303.71 185.61 
L 304.45 185.57 
L 305.18 185.52 
L 305.91 185.46 
L 306.64 185.39 
L 307.37 185.31 
L 308.11 185.22 
L 308.84 185.12 
L 309.57 184.97 
L 310.30 184.76 
L 311.03 184.50 
L 311.77 184.21 
L 312.50 183.91 
L 313.23 183.59 
L 313.96 183.29 
L 314.69 183.00 
L 315.42 182.75 
L 316.16 182.55 
L 316.89 182.35 
L 317.62 182.16 
L 318.35 181.98 
L 319.08 181.80 
L 319.82 181.62 
L 320.55 181.45 
L 321.28 181.28 
L 322.01 181.12 
L 322.74 180.95 
L 323.48 180.79 
L 324.21 180.63 
L 324.94 180.48 
L 325.67 180.32 
L 326.40 180.16 
L 327.14 180.01 
L 327.87 179.84 
L 328.60 179.67 
L 329.33 179.50 
L 330.06 179.34 
L 330.80 179.18 
L 331.53 179.04 
L 332.26 178.90 
L 332.99 178.78 
L 333.72 178.69 
L 334.46 178.61 
L 335.19 178.54 
L 335.92 178.48 
L 336.65 178.43 
L 337.38 178.39 
L 338.12 178.36 
L 338.85 178.33 
L 339.58 178.32 
L 340.31 178.31 
" clip-path="url(#p0adbd2e517)" style="fill: none; stroke: #ff0000; stroke-linecap: square"/>
   </g>
   <g id="line2d_140">
    <path d="M 274.30 193.12 
L 275.03 193.10 
L 275.77 193.05 
L 276.50 192.98 
L 277.23 192.88 
L 277.97 192.76 
L 278.70 192.62 
L 279.43 192.47 
L 280.17 192.32 
L 280.90 192.16 
L 281.63 192.00 
L 282.37 191.85 
L 283.10 191.70 
L 283.83 191.57 
L 284.57 191.45 
L 285.30 191.36 
L 286.03 191.29 
L 286.77 191.24 
L 287.50 191.22 
L 288.23 191.21 
L 288.97 191.21 
L 289.70 191.23 
L 290.43 191.25 
L 291.17 191.29 
L 291.90 191.33 
L 292.63 191.37 
L 293.37 191.42 
L 294.10 191.46 
L 294.83 191.51 
L 295.57 191.55 
L 296.30 191.59 
L 297.03 191.63 
L 297.77 191.66 
L 298.50 191.68 
L 299.23 191.69 
L 299.97 191.68 
L 300.70 191.67 
L 301.43 191.63 
L 302.17 191.58 
L 302.90 191.48 
L 303.63 191.34 
L 304.37 191.18 
L 305.10 191.00 
L 305.83 190.83 
L 306.57 190.67 
L 307.30 190.52 
L 308.03 190.42 
L 308.77 190.36 
L 309.50 190.35 
L 310.23 190.36 
L 310.97 190.38 
L 311.70 190.41 
L 312.43 190.46 
L 313.17 190.51 
L 313.90 190.57 
L 314.63 190.63 
L 315.37 190.71 
L 316.10 190.78 
L 316.83 190.86 
L 317.57 190.94 
L 318.30 191.02 
L 319.03 191.10 
L 319.77 191.18 
L 320.50 191.25 
L 321.23 191.33 
L 321.97 191.42 
L 322.70 191.51 
L 323.43 191.60 
L 324.17 191.70 
L 324.90 191.81 
L 325.63 191.92 
L 326.37 192.02 
L 327.10 192.13 
L 327.83 192.25 
L 328.57 192.36 
L 329.30 192.47 
L 330.03 192.57 
L 330.77 192.68 
L 331.50 192.78 
L 332.23 192.88 
L 332.97 192.98 
L 333.70 193.06 
L 334.43 193.15 
L 335.17 193.22 
L 335.90 193.29 
L 336.63 193.35 
L 337.37 193.40 
L 338.10 193.44 
L 338.83 193.47 
L 339.57 193.49 
L 340.30 193.5 
" clip-path="url(#p0adbd2e517)" style="fill: none; stroke: #ff0000; stroke-linecap: square"/>
   </g>
   <g id="line2d_141">
    <path d="M 274.30 193.87 
L 275.03 193.86 
L 275.77 193.84 
L 276.50 193.81 
L 277.23 193.76 
L 277.97 193.70 
L 278.70 193.64 
L 279.43 193.56 
L 280.17 193.48 
L 280.90 193.40 
L 281.63 193.31 
L 282.37 193.23 
L 283.10 193.14 
L 283.83 193.05 
L 284.57 192.96 
L 285.30 192.88 
L 286.03 192.81 
L 286.77 192.74 
L 287.50 192.67 
L 288.23 192.59 
L 288.97 192.51 
L 289.70 192.43 
L 290.43 192.34 
L 291.17 192.26 
L 291.90 192.17 
L 292.63 192.08 
L 293.37 192.00 
L 294.10 191.91 
L 294.83 191.83 
L 295.57 191.76 
L 296.30 191.69 
L 297.03 191.62 
L 297.77 191.56 
L 298.50 191.51 
L 299.23 191.47 
L 299.97 191.43 
L 300.70 191.41 
L 301.43 191.40 
L 302.17 191.40 
L 302.90 191.42 
L 303.63 191.47 
L 304.37 191.53 
L 305.10 191.61 
L 305.83 191.70 
L 306.57 191.80 
L 307.30 191.91 
L 308.03 192.03 
L 308.77 192.15 
L 309.50 192.26 
L 310.23 192.38 
L 310.97 192.49 
L 311.70 192.59 
L 312.43 192.69 
L 313.17 192.77 
L 313.90 192.85 
L 314.63 192.94 
L 315.37 193.02 
L 316.10 193.11 
L 316.83 193.19 
L 317.57 193.28 
L 318.30 193.36 
L 319.03 193.44 
L 319.77 193.51 
L 320.50 193.59 
L 321.23 193.66 
L 321.97 193.72 
L 322.70 193.78 
L 323.43 193.83 
L 324.17 193.87 
L 324.90 193.90 
L 325.63 193.93 
L 326.37 193.95 
L 327.10 193.95 
L 327.83 193.96 
L 328.57 193.95 
L 329.30 193.94 
L 330.03 193.93 
L 330.77 193.91 
L 331.50 193.89 
L 332.23 193.86 
L 332.97 193.84 
L 333.70 193.81 
L 334.43 193.78 
L 335.17 193.76 
L 335.90 193.73 
L 336.63 193.71 
L 337.37 193.69 
L 338.10 193.67 
L 338.83 193.66 
L 339.57 193.65 
L 340.30 193.65 
" clip-path="url(#p0adbd2e517)" style="fill: none; stroke: #ff0000; stroke-linecap: square"/>
   </g>
   <g id="line2d_142">
    <path d="M 274.30 198 
L 275.03 198.05 
L 275.77 198.22 
L 276.50 198.48 
L 277.23 198.81 
L 277.97 199.18 
L 278.70 199.60 
L 279.43 200.03 
L 280.17 200.46 
L 280.90 200.87 
L 281.63 201.24 
L 282.37 201.55 
L 283.10 201.80 
L 283.83 202.01 
L 284.57 202.21 
L 285.30 202.41 
L 286.03 202.60 
L 286.77 202.78 
L 287.50 202.96 
L 288.23 203.13 
L 288.97 203.31 
L 289.70 203.48 
L 290.43 203.65 
L 291.17 203.82 
L 291.90 204.00 
L 292.63 204.17 
L 293.37 204.36 
L 294.10 204.53 
L 294.83 204.70 
L 295.57 204.87 
L 296.30 205.05 
L 297.03 205.24 
L 297.77 205.45 
L 298.50 205.71 
L 299.23 206.05 
L 299.97 206.47 
L 300.70 206.92 
L 301.43 207.39 
L 302.17 207.86 
L 302.90 208.30 
L 303.63 208.68 
L 304.37 208.99 
L 305.10 209.19 
L 305.83 209.29 
L 306.57 209.35 
L 307.30 209.37 
L 308.03 209.38 
L 308.77 209.37 
L 309.50 209.34 
L 310.23 209.31 
L 310.97 209.26 
L 311.70 209.22 
L 312.43 209.18 
L 313.17 209.15 
L 313.90 209.13 
L 314.63 209.13 
L 315.37 209.15 
L 316.10 209.19 
L 316.83 209.26 
L 317.57 209.35 
L 318.30 209.44 
L 319.03 209.54 
L 319.77 209.64 
L 320.50 209.74 
L 321.23 209.85 
L 321.97 209.95 
L 322.70 210.06 
L 323.43 210.17 
L 324.17 210.27 
L 324.90 210.37 
L 325.63 210.47 
L 326.37 210.56 
L 327.10 210.65 
L 327.83 210.74 
L 328.57 210.81 
L 329.30 210.90 
L 330.03 210.99 
L 330.77 211.07 
L 331.50 211.16 
L 332.23 211.25 
L 332.97 211.34 
L 333.70 211.43 
L 334.43 211.51 
L 335.17 211.58 
L 335.90 211.65 
L 336.63 211.71 
L 337.37 211.77 
L 338.10 211.81 
L 338.83 211.84 
L 339.57 211.86 
L 340.30 211.87 
" clip-path="url(#p0adbd2e517)" style="fill: none; stroke: #ff0000; stroke-linecap: square"/>
   </g>
   <g id="line2d_143">
    <path d="M 274.30 217.2 
L 275.03 217.14 
L 275.77 216.99 
L 276.50 216.76 
L 277.23 216.47 
L 277.97 216.13 
L 278.70 215.75 
L 279.43 215.37 
L 280.17 214.98 
L 280.90 214.61 
L 281.63 214.28 
L 282.37 213.99 
L 283.10 213.77 
L 283.83 213.58 
L 284.57 213.39 
L 285.30 213.20 
L 286.03 213.02 
L 286.77 212.84 
L 287.50 212.67 
L 288.23 212.50 
L 288.97 212.35 
L 289.70 212.20 
L 290.43 212.05 
L 291.17 211.92 
L 291.90 211.80 
L 292.63 211.68 
L 293.37 211.58 
L 294.10 211.48 
L 294.83 211.39 
L 295.57 211.30 
L 296.30 211.21 
L 297.03 211.13 
L 297.77 211.07 
L 298.50 211.01 
L 299.23 210.96 
L 299.97 210.92 
L 300.70 210.90 
L 301.43 210.90 
L 302.17 210.91 
L 302.90 210.94 
L 303.63 210.99 
L 304.37 211.05 
L 305.10 211.15 
L 305.83 211.27 
L 306.57 211.45 
L 307.30 211.69 
L 308.03 211.97 
L 308.77 212.28 
L 309.50 212.62 
L 310.23 212.97 
L 310.97 213.32 
L 311.70 213.66 
L 312.43 213.99 
L 313.17 214.29 
L 313.90 214.59 
L 314.63 214.91 
L 315.37 215.22 
L 316.10 215.54 
L 316.83 215.87 
L 317.57 216.19 
L 318.30 216.51 
L 319.03 216.82 
L 319.77 217.13 
L 320.50 217.43 
L 321.23 217.71 
L 321.97 217.99 
L 322.70 218.24 
L 323.43 218.48 
L 324.17 218.69 
L 324.90 218.89 
L 325.63 219.08 
L 326.37 219.26 
L 327.10 219.43 
L 327.83 219.58 
L 328.57 219.73 
L 329.30 219.86 
L 330.03 219.98 
L 330.77 220.08 
L 331.50 220.17 
L 332.23 220.26 
L 332.97 220.35 
L 333.70 220.43 
L 334.43 220.52 
L 335.17 220.60 
L 335.90 220.68 
L 336.63 220.75 
L 337.37 220.82 
L 338.10 220.87 
L 338.83 220.91 
L 339.57 220.94 
L 340.30 220.95 
" clip-path="url(#p0adbd2e517)" style="fill: none; stroke: #ff0000; stroke-linecap: square"/>
   </g>
   <g id="line2d_144">
    <path d="M 274.30 219.45 
L 275.03 219.41 
L 275.77 219.30 
L 276.50 219.13 
L 277.23 218.92 
L 277.97 218.68 
L 278.70 218.42 
L 279.43 218.15 
L 280.17 217.89 
L 280.90 217.65 
L 281.63 217.44 
L 282.37 217.28 
L 283.10 217.17 
L 283.83 217.09 
L 284.57 217.00 
L 285.30 216.92 
L 286.03 216.84 
L 286.77 216.77 
L 287.50 216.71 
L 288.23 216.65 
L 288.97 216.60 
L 289.70 216.56 
L 290.43 216.54 
L 291.17 216.53 
L 291.90 216.53 
L 292.63 216.55 
L 293.37 216.59 
L 294.10 216.64 
L 294.83 216.71 
L 295.57 216.78 
L 296.30 216.87 
L 297.03 216.96 
L 297.77 217.06 
L 298.50 217.16 
L 299.23 217.28 
L 299.97 217.39 
L 300.70 217.51 
L 301.43 217.64 
L 302.17 217.76 
L 302.90 217.89 
L 303.63 218.01 
L 304.37 218.14 
L 305.10 218.27 
L 305.83 218.39 
L 306.57 218.53 
L 307.30 218.68 
L 308.03 218.85 
L 308.77 219.02 
L 309.50 219.20 
L 310.23 219.38 
L 310.97 219.55 
L 311.70 219.73 
L 312.43 219.89 
L 313.17 220.05 
L 313.90 220.19 
L 314.63 220.32 
L 315.37 220.43 
L 316.10 220.52 
L 316.83 220.58 
L 317.57 220.61 
L 318.30 220.60 
L 319.03 220.57 
L 319.77 220.51 
L 320.50 220.42 
L 321.23 220.32 
L 321.97 220.21 
L 322.70 220.08 
L 323.43 219.95 
L 324.17 219.82 
L 324.90 219.68 
L 325.63 219.50 
L 326.37 219.30 
L 327.10 219.09 
L 327.83 218.88 
L 328.57 218.66 
L 329.30 218.46 
L 330.03 218.27 
L 330.77 218.10 
L 331.50 217.97 
L 332.23 217.87 
L 332.97 217.77 
L 333.70 217.67 
L 334.43 217.58 
L 335.17 217.50 
L 335.90 217.42 
L 336.63 217.36 
L 337.37 217.30 
L 338.10 217.26 
L 338.83 217.22 
L 339.57 217.20 
L 340.30 217.2 
" clip-path="url(#p0adbd2e517)" style="fill: none; stroke: #ff0000; stroke-linecap: square"/>
   </g>
   <g id="line2d_145">
    <path d="M 274.30 222.3 
L 275.03 222.36 
L 275.77 222.54 
L 276.50 222.82 
L 277.23 223.17 
L 277.97 223.58 
L 278.70 224.02 
L 279.43 224.48 
L 280.17 224.93 
L 280.90 225.35 
L 281.63 225.72 
L 282.37 226.02 
L 283.10 226.24 
L 283.83 226.43 
L 284.57 226.62 
L 285.30 226.81 
L 286.03 226.99 
L 286.77 227.17 
L 287.50 227.34 
L 288.23 227.50 
L 288.97 227.64 
L 289.70 227.77 
L 290.43 227.88 
L 291.17 227.96 
L 291.90 228.03 
L 292.63 228.06 
L 293.37 228.07 
L 294.10 228.05 
L 294.83 228.03 
L 295.57 227.99 
L 296.30 227.93 
L 297.03 227.87 
L 297.77 227.80 
L 298.50 227.72 
L 299.23 227.63 
L 299.97 227.53 
L 300.70 227.42 
L 301.43 227.30 
L 302.17 227.18 
L 302.90 227.05 
L 303.63 226.92 
L 304.37 226.78 
L 305.10 226.64 
L 305.83 226.49 
L 306.57 226.32 
L 307.30 226.15 
L 308.03 225.97 
L 308.77 225.78 
L 309.50 225.58 
L 310.23 225.37 
L 310.97 225.16 
L 311.70 224.95 
L 312.43 224.74 
L 313.17 224.53 
L 313.90 224.32 
L 314.63 224.11 
L 315.37 223.91 
L 316.10 223.72 
L 316.83 223.53 
L 317.57 223.34 
L 318.30 223.15 
L 319.03 222.95 
L 319.77 222.76 
L 320.50 222.56 
L 321.23 222.37 
L 321.97 222.17 
L 322.70 221.99 
L 323.43 221.81 
L 324.17 221.64 
L 324.90 221.47 
L 325.63 221.32 
L 326.37 221.19 
L 327.10 221.06 
L 327.83 220.96 
L 328.57 220.87 
L 329.30 220.79 
L 330.03 220.73 
L 330.77 220.68 
L 331.50 220.63 
L 332.23 220.60 
L 332.97 220.58 
L 333.70 220.56 
L 334.43 220.55 
L 335.17 220.55 
L 335.90 220.55 
L 336.63 220.55 
L 337.37 220.55 
L 338.10 220.56 
L 338.83 220.56 
L 339.57 220.57 
L 340.30 220.57 
" clip-path="url(#p0adbd2e517)" style="fill: none; stroke: #ff0000; stroke-linecap: square"/>
   </g>
   <g id="line2d_146">
    <path d="M 274.30 228.82 
L 275.03 228.82 
L 275.77 228.84 
L 276.50 228.86 
L 277.23 228.88 
L 277.97 228.91 
L 278.70 228.95 
L 279.43 229.00 
L 280.17 229.05 
L 280.90 229.10 
L 281.63 229.16 
L 282.37 229.22 
L 283.10 229.28 
L 283.83 229.35 
L 284.57 229.42 
L 285.30 229.49 
L 286.03 229.57 
L 286.77 229.64 
L 287.50 229.71 
L 288.23 229.79 
L 288.97 229.86 
L 289.70 229.93 
L 290.43 230.00 
L 291.17 230.07 
L 291.90 230.14 
L 292.63 230.20 
L 293.37 230.26 
L 294.10 230.31 
L 294.83 230.37 
L 295.57 230.42 
L 296.30 230.47 
L 297.03 230.51 
L 297.77 230.56 
L 298.50 230.60 
L 299.23 230.65 
L 299.97 230.69 
L 300.70 230.73 
L 301.43 230.77 
L 302.17 230.82 
L 302.90 230.86 
L 303.63 230.91 
L 304.37 230.95 
L 305.10 231.00 
L 305.83 231.05 
L 306.57 231.10 
L 307.30 231.15 
L 308.03 231.20 
L 308.77 231.26 
L 309.50 231.33 
L 310.23 231.42 
L 310.97 231.55 
L 311.70 231.71 
L 312.43 231.88 
L 313.17 232.06 
L 313.90 232.25 
L 314.63 232.42 
L 315.37 232.59 
L 316.10 232.73 
L 316.83 232.84 
L 317.57 232.92 
L 318.30 232.95 
L 319.03 232.91 
L 319.77 232.79 
L 320.50 232.63 
L 321.23 232.42 
L 321.97 232.18 
L 322.70 231.93 
L 323.43 231.68 
L 324.17 231.45 
L 324.90 231.21 
L 325.63 230.95 
L 326.37 230.68 
L 327.10 230.39 
L 327.83 230.10 
L 328.57 229.81 
L 329.30 229.54 
L 330.03 229.28 
L 330.77 229.06 
L 331.50 228.86 
L 332.23 228.69 
L 332.97 228.53 
L 333.70 228.37 
L 334.43 228.22 
L 335.17 228.08 
L 335.90 227.95 
L 336.63 227.84 
L 337.37 227.74 
L 338.10 227.66 
L 338.83 227.60 
L 339.57 227.56 
L 340.30 227.55 
" clip-path="url(#p0adbd2e517)" style="fill: none; stroke: #ff0000; stroke-linecap: square"/>
   </g>
   <g id="line2d_147">
    <path d="M 274.30 235.2 
L 275.03 235.19 
L 275.77 235.19 
L 276.50 235.18 
L 277.23 235.17 
L 277.97 235.15 
L 278.70 235.13 
L 279.43 235.11 
L 280.17 235.08 
L 280.90 235.06 
L 281.63 235.02 
L 282.37 234.99 
L 283.10 234.95 
L 283.83 234.91 
L 284.57 234.87 
L 285.30 234.82 
L 286.03 234.77 
L 286.77 234.72 
L 287.50 234.67 
L 288.23 234.61 
L 288.97 234.55 
L 289.70 234.49 
L 290.43 234.43 
L 291.17 234.36 
L 291.90 234.29 
L 292.63 234.22 
L 293.37 234.15 
L 294.10 234.08 
L 294.83 234.00 
L 295.57 233.91 
L 296.30 233.81 
L 297.03 233.70 
L 297.77 233.58 
L 298.50 233.46 
L 299.23 233.33 
L 299.97 233.19 
L 300.70 233.06 
L 301.43 232.91 
L 302.17 232.77 
L 302.90 232.62 
L 303.63 232.48 
L 304.37 232.33 
L 305.10 232.19 
L 305.83 232.04 
L 306.57 231.90 
L 307.30 231.77 
L 308.03 231.64 
L 308.77 231.51 
L 309.50 231.39 
L 310.23 231.27 
L 310.97 231.16 
L 311.70 231.04 
L 312.43 230.92 
L 313.17 230.80 
L 313.90 230.68 
L 314.63 230.57 
L 315.37 230.45 
L 316.10 230.34 
L 316.83 230.22 
L 317.57 230.11 
L 318.30 230.00 
L 319.03 229.89 
L 319.77 229.78 
L 320.50 229.68 
L 321.23 229.58 
L 321.97 229.48 
L 322.70 229.38 
L 323.43 229.29 
L 324.17 229.20 
L 324.90 229.10 
L 325.63 229.01 
L 326.37 228.91 
L 327.10 228.81 
L 327.83 228.71 
L 328.57 228.61 
L 329.30 228.51 
L 330.03 228.41 
L 330.77 228.31 
L 331.50 228.22 
L 332.23 228.13 
L 332.97 228.04 
L 333.70 227.95 
L 334.43 227.88 
L 335.17 227.80 
L 335.90 227.74 
L 336.63 227.68 
L 337.37 227.64 
L 338.10 227.60 
L 338.83 227.57 
L 339.57 227.55 
L 340.30 227.55 
" clip-path="url(#p0adbd2e517)" style="fill: none; stroke: #ff0000; stroke-linecap: square"/>
   </g>
   <g id="line2d_148">
    <path d="M 274.30 235.95 
L 275.03 235.96 
L 275.77 236.00 
L 276.50 236.07 
L 277.23 236.16 
L 277.97 236.27 
L 278.70 236.39 
L 279.43 236.53 
L 280.17 236.67 
L 280.90 236.82 
L 281.63 236.97 
L 282.37 237.12 
L 283.10 237.27 
L 283.83 237.41 
L 284.57 237.54 
L 285.30 237.65 
L 286.03 237.75 
L 286.77 237.83 
L 287.50 237.90 
L 288.23 237.97 
L 288.97 238.04 
L 289.70 238.11 
L 290.43 238.17 
L 291.17 238.23 
L 291.90 238.30 
L 292.63 238.35 
L 293.37 238.41 
L 294.10 238.45 
L 294.83 238.50 
L 295.57 238.54 
L 296.30 238.57 
L 297.03 238.59 
L 297.77 238.61 
L 298.50 238.62 
L 299.23 238.63 
L 299.97 238.62 
L 300.70 238.60 
L 301.43 238.58 
L 302.17 238.54 
L 302.90 238.48 
L 303.63 238.39 
L 304.37 238.29 
L 305.10 238.17 
L 305.83 238.05 
L 306.57 237.91 
L 307.30 237.78 
L 308.03 237.64 
L 308.77 237.51 
L 309.50 237.39 
L 310.23 237.24 
L 310.97 237.07 
L 311.70 236.90 
L 312.43 236.71 
L 313.17 236.53 
L 313.90 236.36 
L 314.63 236.21 
L 315.37 236.08 
L 316.10 235.99 
L 316.83 235.94 
L 317.57 236.04 
L 318.30 236.30 
L 319.03 236.65 
L 319.77 237.04 
L 320.50 237.43 
L 321.23 237.77 
L 321.97 237.99 
L 322.70 238.04 
L 323.43 238.00 
L 324.17 237.92 
L 324.90 237.83 
L 325.63 237.73 
L 326.37 237.61 
L 327.10 237.48 
L 327.83 237.35 
L 328.57 237.21 
L 329.30 237.08 
L 330.03 236.95 
L 330.77 236.83 
L 331.50 236.72 
L 332.23 236.62 
L 332.97 236.50 
L 333.70 236.38 
L 334.43 236.25 
L 335.17 236.13 
L 335.90 236.00 
L 336.63 235.89 
L 337.37 235.78 
L 338.10 235.70 
L 338.83 235.63 
L 339.57 235.59 
L 340.30 235.57 
" clip-path="url(#p0adbd2e517)" style="fill: none; stroke: #ff0000; stroke-linecap: square"/>
   </g>
   <g id="line2d_149">
    <path d="M 274.30 238.95 
L 275.03 238.95 
L 275.77 238.96 
L 276.50 238.97 
L 277.23 238.98 
L 277.97 239.00 
L 278.70 239.03 
L 279.43 239.05 
L 280.17 239.08 
L 280.90 239.11 
L 281.63 239.14 
L 282.37 239.17 
L 283.10 239.20 
L 283.83 239.23 
L 284.57 239.25 
L 285.30 239.28 
L 286.03 239.30 
L 286.77 239.32 
L 287.50 239.34 
L 288.23 239.35 
L 288.97 239.35 
L 289.70 239.36 
L 290.43 239.36 
L 291.17 239.35 
L 291.90 239.35 
L 292.63 239.34 
L 293.37 239.33 
L 294.10 239.32 
L 294.83 239.31 
L 295.57 239.30 
L 296.30 239.30 
L 297.03 239.29 
L 297.77 239.29 
L 298.50 239.28 
L 299.23 239.29 
L 299.97 239.29 
L 300.70 239.30 
L 301.43 239.31 
L 302.17 239.35 
L 302.90 239.47 
L 303.63 239.66 
L 304.37 239.89 
L 305.10 240.15 
L 305.83 240.42 
L 306.57 240.68 
L 307.30 240.90 
L 308.03 241.08 
L 308.77 241.18 
L 309.50 241.20 
L 310.23 241.18 
L 310.97 241.15 
L 311.70 241.10 
L 312.43 241.03 
L 313.17 240.96 
L 313.90 240.88 
L 314.63 240.80 
L 315.37 240.72 
L 316.10 240.65 
L 316.83 240.58 
L 317.57 240.50 
L 318.30 240.40 
L 319.03 240.30 
L 319.77 240.20 
L 320.50 240.12 
L 321.23 240.07 
L 321.97 240.28 
L 322.70 240.81 
L 323.43 241.53 
L 324.17 242.31 
L 324.90 243.12 
L 325.63 244.02 
L 326.37 244.99 
L 327.10 246.02 
L 327.83 247.09 
L 328.57 248.18 
L 329.30 249.28 
L 330.03 250.36 
L 330.77 251.42 
L 331.50 252.44 
L 332.23 253.41 
L 332.97 254.37 
L 333.70 255.33 
L 334.43 256.29 
L 335.17 257.23 
L 335.90 258.18 
L 336.63 259.11 
L 337.37 260.04 
L 338.10 260.97 
L 338.83 261.88 
L 339.57 262.79 
L 340.30 263.7 
" clip-path="url(#p0adbd2e517)" style="fill: none; stroke: #ff0000; stroke-linecap: square"/>
   </g>
   <g id="line2d_150">
    <path d="M 274.30 240.07 
L 275.03 240.08 
L 275.77 240.10 
L 276.50 240.14 
L 277.23 240.18 
L 277.97 240.24 
L 278.70 240.31 
L 279.43 240.38 
L 280.17 240.46 
L 280.90 240.54 
L 281.63 240.63 
L 282.37 240.72 
L 283.10 240.81 
L 283.83 240.89 
L 284.57 240.98 
L 285.30 241.06 
L 286.03 241.13 
L 286.77 241.20 
L 287.50 241.27 
L 288.23 241.33 
L 288.97 241.39 
L 289.70 241.44 
L 290.43 241.50 
L 291.17 241.55 
L 291.90 241.61 
L 292.63 241.66 
L 293.37 241.71 
L 294.10 241.76 
L 294.83 241.81 
L 295.57 241.86 
L 296.30 241.91 
L 297.03 241.96 
L 297.77 242.02 
L 298.50 242.07 
L 299.23 242.13 
L 299.97 242.18 
L 300.70 242.24 
L 301.43 242.31 
L 302.17 242.37 
L 302.90 242.44 
L 303.63 242.51 
L 304.37 242.58 
L 305.10 242.66 
L 305.83 242.75 
L 306.57 242.89 
L 307.30 243.09 
L 308.03 243.34 
L 308.77 243.62 
L 309.50 243.94 
L 310.23 244.29 
L 310.97 244.66 
L 311.70 245.04 
L 312.43 245.43 
L 313.17 245.83 
L 313.90 246.26 
L 314.63 246.72 
L 315.37 247.22 
L 316.10 247.75 
L 316.83 248.30 
L 317.57 248.87 
L 318.30 249.45 
L 319.03 250.04 
L 319.77 250.63 
L 320.50 251.21 
L 321.23 251.79 
L 321.97 252.36 
L 322.70 252.91 
L 323.43 253.44 
L 324.17 253.94 
L 324.90 254.42 
L 325.63 254.90 
L 326.37 255.38 
L 327.10 255.85 
L 327.83 256.33 
L 328.57 256.79 
L 329.30 257.26 
L 330.03 257.72 
L 330.77 258.18 
L 331.50 258.63 
L 332.23 259.08 
L 332.97 259.53 
L 333.70 259.97 
L 334.43 260.40 
L 335.17 260.84 
L 335.90 261.26 
L 336.63 261.68 
L 337.37 262.10 
L 338.10 262.50 
L 338.83 262.91 
L 339.57 263.30 
L 340.30 263.7 
" clip-path="url(#p0adbd2e517)" style="fill: none; stroke: #ff0000; stroke-linecap: square"/>
   </g>
   <g id="line2d_151">
    <path d="M 274.30 244.57 
L 275.03 244.54 
L 275.77 244.47 
L 276.50 244.34 
L 277.23 244.19 
L 277.97 244.00 
L 278.70 243.78 
L 279.43 243.55 
L 280.17 243.30 
L 280.90 243.05 
L 281.63 242.80 
L 282.37 242.55 
L 283.10 242.32 
L 283.83 242.10 
L 284.57 241.92 
L 285.30 241.76 
L 286.03 241.64 
L 286.77 241.56 
L 287.50 241.51 
L 288.23 241.47 
L 288.97 241.43 
L 289.70 241.41 
L 290.43 241.39 
L 291.17 241.38 
L 291.90 241.37 
L 292.63 241.38 
L 293.37 241.39 
L 294.10 241.40 
L 294.83 241.42 
L 295.57 241.45 
L 296.30 241.48 
L 297.03 241.52 
L 297.77 241.56 
L 298.50 241.61 
L 299.23 241.68 
L 299.97 241.76 
L 300.70 241.85 
L 301.43 241.96 
L 302.17 242.09 
L 302.90 242.23 
L 303.63 242.38 
L 304.37 242.55 
L 305.10 242.73 
L 305.83 242.92 
L 306.57 243.12 
L 307.30 243.33 
L 308.03 243.56 
L 308.77 243.84 
L 309.50 244.17 
L 310.23 244.55 
L 310.97 244.96 
L 311.70 245.41 
L 312.43 245.87 
L 313.17 246.36 
L 313.90 246.85 
L 314.63 247.35 
L 315.37 247.84 
L 316.10 248.33 
L 316.83 248.79 
L 317.57 249.26 
L 318.30 249.74 
L 319.03 250.22 
L 319.77 250.71 
L 320.50 251.21 
L 321.23 251.71 
L 321.97 252.21 
L 322.70 252.71 
L 323.43 253.21 
L 324.17 253.71 
L 324.90 254.21 
L 325.63 254.70 
L 326.37 255.19 
L 327.10 255.67 
L 327.83 256.14 
L 328.57 256.60 
L 329.30 257.06 
L 330.03 257.52 
L 330.77 257.98 
L 331.50 258.44 
L 332.23 258.89 
L 332.97 259.34 
L 333.70 259.79 
L 334.43 260.24 
L 335.17 260.68 
L 335.90 261.12 
L 336.63 261.55 
L 337.37 261.99 
L 338.10 262.42 
L 338.83 262.85 
L 339.57 263.27 
L 340.30 263.7 
" clip-path="url(#p0adbd2e517)" style="fill: none; stroke: #ff0000; stroke-linecap: square"/>
   </g>
   <g id="patch_13">
    <path d="M 273.98 273.50 
L 273.98 75.45 
" style="fill: none; stroke: #000000; stroke-width: 0.8; stroke-linejoin: miter; stroke-linecap: square"/>
   </g>
   <g id="patch_14">
    <path d="M 340.70 273.50 
L 340.70 75.45 
" style="fill: none; stroke: #000000; stroke-width: 0.8; stroke-linejoin: miter; stroke-linecap: square"/>
   </g>
   <g id="patch_15">
    <path d="M 273.98 273.50 
L 340.70 273.50 
" style="fill: none; stroke: #000000; stroke-width: 0.8; stroke-linejoin: miter; stroke-linecap: square"/>
   </g>
   <g id="patch_16">
    <path d="M 273.98 75.45 
L 340.70 75.45 
" style="fill: none; stroke: #000000; stroke-width: 0.8; stroke-linejoin: miter; stroke-linecap: square"/>
   </g>
  </g>
  <g id="axes_4">
   <g id="patch_17">
    <path d="M 348.76 273.50 
L 414.67 273.50 
L 414.67 75.45 
L 348.76 75.45 
z
" style="fill: #ffffff"/>
   </g>
   <g id="matplotlib.axis_7">
    <g id="xtick_11">
     <g id="line2d_152">
      <g>
       <path d="M 0 0 L 0 -3.5" transform="translate(348.76 273.50)" style="stroke: #000000; stroke-width: 0.8"/>
      </g>
     </g>
     <g id="line2d_153">
      <g>
       <path d="M 0 0 L 0 3.5" transform="translate(348.76 75.45)" style="stroke: #000000; stroke-width: 0.8"/>
      </g>
     </g>
     <g id="text_17">
      <text style="font-size: 10px; font-family: 'DejaVu Sans', sans-serif; text-anchor: middle" x="348.76" y="284.60" transform="rotate(-0 348.76 284.60)">0</text>
     </g>
    </g>
    <g id="xtick_12">
     <g id="line2d_154">
      <g>
       <path d="M 0 0 L 0 -3.5" transform="translate(382.32 273.50)" style="stroke: #000000; stroke-width: 0.8"/>
      </g>
     </g>
     <g id="line2d_155">
      <g>
       <path d="M 0 0 L 0 3.5" transform="translate(382.32 75.45)" style="stroke: #000000; stroke-width: 0.8"/>
      </g>
     </g>
     <g id="text_18">
      <text style="font-size: 10px; font-family: 'DejaVu Sans', sans-serif; text-anchor: middle" x="382.32" y="284.60" transform="rotate(-0 382.32 284.60)">5</text>
     </g>
    </g>
   </g>
   <g id="matplotlib.axis_8">
    <g id="ytick_16">
     <g id="line2d_156">
      <g>
       <path d="M 0 0 L 3.5 0" transform="translate(348.76 264.14)" style="stroke: #000000; stroke-width: 0.8"/>
      </g>
     </g>
     <g id="line2d_157">
      <g>
       <path d="M 0 0 L -3.5 0" transform="translate(414.67 264.14)" style="stroke: #000000; stroke-width: 0.8"/>
      </g>
     </g>
    </g>
    <g id="ytick_17">
     <g id="line2d_158">
      <g>
       <path d="M 0 0 L 3.5 0" transform="translate(348.76 220.26)" style="stroke: #000000; stroke-width: 0.8"/>
      </g>
     </g>
     <g id="line2d_159">
      <g>
       <path d="M 0 0 L -3.5 0" transform="translate(414.67 220.26)" style="stroke: #000000; stroke-width: 0.8"/>
      </g>
     </g>
    </g>
    <g id="ytick_18">
     <g id="line2d_160">
      <g>
       <path d="M 0 0 L 3.5 0" transform="translate(348.76 176.37)" style="stroke: #000000; stroke-width: 0.8"/>
      </g>
     </g>
     <g id="line2d_161">
      <g>
       <path d="M 0 0 L -3.5 0" transform="translate(414.67 176.37)" style="stroke: #000000; stroke-width: 0.8"/>
      </g>
     </g>
    </g>
    <g id="ytick_19">
     <g id="line2d_162">
      <g>
       <path d="M 0 0 L 3.5 0" transform="translate(348.76 132.49)" style="stroke: #000000; stroke-width: 0.8"/>
      </g>
     </g>
     <g id="line2d_163">
      <g>
       <path d="M 0 0 L -3.5 0" transform="translate(414.67 132.49)" style="stroke: #000000; stroke-width: 0.8"/>
      </g>
     </g>
    </g>
    <g id="ytick_20">
     <g id="line2d_164">
      <g>
       <path d="M 0 0 L 3.5 0" transform="translate(348.76 88.60)" style="stroke: #000000; stroke-width: 0.8"/>
      </g>
     </g>
     <g id="line2d_165">
      <g>
       <path d="M 0 0 L -3.5 0" transform="translate(414.67 88.60)" style="stroke: #000000; stroke-width: 0.8"/>
      </g>
     </g>
    </g>
   </g>
   <g id="line2d_166">
    <path d="M 349.27 84.45 
L 349.62 85.36 
L 383.22 86.20 
L 366.07 87.46 
L 403.52 87.95 
L 389.52 88.65 
L 409.12 89.35 
L 349.62 90.54 
L 349.27 91.45 
L 349.63 93.6 
L 349.77 95.4 
L 350.20 96.6 
L 353.52 97.05 
L 355.63 97.8 
L 356.06 98.68 
L 355.32 99.6 
L 355.00 100.8 
L 354.12 102.28 
L 355.00 103.48 
L 357.12 104.83 
L 355.63 105.6 
L 353.37 106.8 
L 355.00 107.4 
L 356.20 108.6 
L 356.83 109.8 
L 357.72 111 
L 356.52 111.6 
L 350.52 113.08 
L 356.52 114.28 
L 364.03 115.2 
L 357.72 115.8 
L 358.03 117.31 
L 353.52 119.23 
L 359.52 120.28 
L 370.60 121.48 
L 362.52 122.4 
L 352.60 124.8 
L 354.43 126.28 
L 359.23 128.11 
L 356.20 129.16 
L 355.32 130.8 
L 357.12 132 
L 358.60 133.8 
L 358.92 134.68 
L 363.12 135.74 
L 359.52 136.36 
L 355.00 136.8 
L 355.92 138 
L 358.32 139.2 
L 360.72 140.4 
L 356.52 141.16 
L 351.72 141.88 
L 353.52 142.8 
L 356.52 143.71 
L 357.72 145.2 
L 360.12 146.68 
L 356.52 147.88 
L 352.92 149.4 
L 350.20 151.48 
L 359.52 153.31 
L 370.60 154.2 
L 367.00 155.08 
L 356.52 156 
L 349.63 156.91 
L 349.32 157.8 
L 349.15 162.6 
L 349.92 163.8 
L 357.72 164.68 
L 358.03 166.2 
L 361.92 168 
L 358.92 169.2 
L 354.72 170.11 
L 356.52 170.68 
L 364.32 171.88 
L 354.02 173.45 
L 370.52 174.95 
L 360.02 176.1 
L 353.52 178.2 
L 368.52 180.2 
L 356.02 181.2 
L 362.52 181.95 
L 351.52 183.2 
L 364.52 185.7 
L 350.02 187.7 
L 349.52 188.7 
L 364.02 190.45 
L 359.02 191.95 
L 373.52 192.95 
L 350.52 195.2 
L 349.52 195.7 
L 349.62 199.80 
L 349.27 203.30 
L 350.32 209.60 
L 349.62 212.40 
L 351.02 215.20 
L 350.32 219.40 
L 351.72 218.80 
L 349.62 221.60 
L 351.02 223.70 
L 349.62 225.80 
L 351.02 228.60 
L 349.27 231.40 
L 349.62 236.30 
L 351.02 239.80 
L 349.62 245.40 
L 349.06 249.60 
L 348.92 258.00 
" clip-path="url(#pbe0992e29f)" style="fill: none; stroke: #1f77b4; stroke-width: 1.3; stroke-linecap: square"/>
   </g>
   <g id="line2d_167">
    <path d="M 349.34 85.44 
L 349.58 88.8 
L 349.68 93.6 
L 350.06 98.4 
L 349.72 103.2 
L 350.16 108 
L 349.72 112.8 
L 350.01 117.6 
L 349.68 122.4 
L 350.20 127.2 
L 349.72 130.56 
L 351.12 135.84 
L 349.72 138 
L 350.49 140.16 
L 349.68 141.88 
L 350.49 145.92 
L 349.63 149.76 
L 349.63 153.6 
L 349.63 156.48 
L 349.63 162.6 
L 349.52 164.7 
L 351.02 168.2 
L 350.52 169.7 
L 352.52 172.2 
L 351.02 173.7 
L 359.02 175.2 
L 355.52 176.3 
L 368.02 177.3 
L 357.52 178.2 
L 351.52 180.45 
L 353.52 182.2 
L 352.02 184.2 
L 355.52 185.7 
L 350.52 186.7 
L 350.02 188.7 
L 356.02 190.2 
L 352.52 191.7 
L 355.52 193.2 
L 350.52 195.2 
L 349.52 197.2 
L 349.62 197.70 
L 351.72 201.20 
L 352.42 204.00 
L 351.02 206.80 
L 360.12 209.95 
L 354.52 211.35 
L 356.97 212.05 
L 353.12 215.20 
L 356.62 218.45 
L 352.42 220.20 
L 351.72 222.30 
L 354.52 223.70 
L 351.72 225.80 
L 353.82 227.90 
L 350.32 230.00 
L 350.32 235.60 
L 352.42 237.00 
L 349.97 238.40 
L 351.02 242.60 
L 350.32 246.10 
L 349.27 251.00 
L 348.92 255.20 
" clip-path="url(#pbe0992e29f)" style="fill: none; stroke: #ff7f0e; stroke-width: 1.3; stroke-linecap: square"/>
   </g>
   <g id="line2d_168">
    <path d="M 349.06 86.20 
L 349.06 128.20 
L 349.06 124.8 
L 349.06 173.80 
L 349.77 168.2 
L 350.27 173.2 
L 349.77 178.2 
L 350.27 183.2 
L 349.77 188.2 
L 350.27 193.2 
L 349.97 208.20 
L 351.72 209.95 
L 349.62 211.70 
L 351.02 215.20 
L 354.52 218.70 
L 351.72 220.20 
L 351.02 222.65 
L 352.42 224.40 
L 360.82 225.10 
L 354.52 226.15 
L 358.02 227.20 
L 366.42 228.25 
L 360.12 228.95 
L 357.32 230.70 
L 360.12 231.75 
L 358.02 232.80 
L 356.62 234.20 
L 354.52 235.46 
L 367.82 236.65 
L 359.77 238.40 
L 372.02 240.50 
L 361.52 242.60 
L 358.02 245.05 
L 353.82 246.10 
L 351.02 247.50 
L 349.62 251.00 
L 349.06 258.00 
L 348.92 264.16 
" clip-path="url(#pbe0992e29f)" style="fill: none; stroke: #2ca02c; stroke-width: 1.3; stroke-linecap: square"/>
   </g>
   <g id="line2d_169">
    <path d="M 349.27 84.45 
L 349.62 85.36 
L 383.57 86.20 
L 366.07 87.46 
L 403.87 87.95 
L 389.52 88.65 
L 409.47 89.35 
L 349.62 90.54 
L 349.27 91.45 
L 349.77 93.6 
L 349.92 95.4 
L 350.35 96.6 
L 353.66 97.05 
L 355.77 97.8 
L 356.20 98.68 
L 355.46 99.6 
L 355.15 100.8 
L 354.26 102.28 
L 355.15 103.48 
L 357.26 104.83 
L 355.77 105.6 
L 353.52 106.8 
L 355.15 107.4 
L 356.35 108.6 
L 356.97 109.8 
L 357.86 111 
L 356.66 111.6 
L 350.66 113.08 
L 356.66 114.28 
L 364.56 115.2 
L 357.86 115.8 
L 358.17 117.31 
L 353.66 119.23 
L 359.66 120.28 
L 371.04 121.48 
L 362.66 122.4 
L 352.75 124.8 
L 354.57 126.28 
L 359.37 128.11 
L 356.35 129.16 
L 355.46 130.8 
L 357.26 132 
L 358.75 133.8 
L 359.06 134.68 
L 364.92 135.74 
L 359.66 136.36 
L 355.15 136.8 
L 356.06 138 
L 358.46 139.2 
L 361.63 140.4 
L 356.66 141.16 
L 351.86 141.88 
L 353.66 142.8 
L 356.66 143.71 
L 357.86 145.2 
L 362.52 146.68 
L 356.66 147.88 
L 353.06 149.4 
L 350.35 151.48 
L 359.66 153.31 
L 371.04 154.2 
L 367.15 155.08 
L 356.66 156 
L 349.77 156.91 
L 349.46 157.8 
L 349.29 162.6 
L 350.06 163.8 
L 357.86 164.68 
L 358.17 166.2 
L 364.32 168 
L 359.06 169.2 
L 354.86 170.11 
L 356.66 170.68 
L 369.12 171.88 
L 354.52 173.45 
L 381.52 174.95 
L 360.52 176.1 
L 387.52 177.2 
L 357.52 178.2 
L 375.02 179.45 
L 356.52 181.2 
L 362.52 181.95 
L 352.02 183.2 
L 372.02 185.95 
L 350.52 187.7 
L 350.02 188.7 
L 371.02 190.6 
L 359.52 191.95 
L 381.52 193.1 
L 350.52 195.45 
L 349.77 196.2 
L 350.32 198.40 
L 353.12 204.00 
L 351.72 206.80 
L 353.12 208.55 
L 365.72 210.16 
L 355.92 211.00 
L 361.52 212.75 
L 354.52 216.60 
L 367.82 218.45 
L 355.22 223.35 
L 370.62 225.10 
L 358.72 226.50 
L 374.47 228.25 
L 360.82 230.00 
L 363.97 231.75 
L 358.02 234.90 
L 372.72 237.00 
L 361.52 238.40 
L 377.62 240.64 
L 364.32 242.60 
L 361.52 244.70 
L 364.32 245.40 
L 354.52 246.80 
L 351.02 249.60 
L 349.62 255.20 
L 349.06 259.40 
L 348.92 264.16 
" clip-path="url(#pbe0992e29f)" style="fill: none; stroke-dasharray: 0.5,0.82; stroke-dashoffset: 0; stroke: #000000; stroke-width: 0.5"/>
   </g>
   <g id="patch_18">
    <path d="M 348.76 273.50 
L 348.76 75.45 
" style="fill: none; stroke: #000000; stroke-width: 0.8; stroke-linejoin: miter; stroke-linecap: square"/>
   </g>
   <g id="patch_19">
    <path d="M 414.67 273.50 
L 414.67 75.45 
" style="fill: none; stroke: #000000; stroke-width: 0.8; stroke-linejoin: miter; stroke-linecap: square"/>
   </g>
   <g id="patch_20">
    <path d="M 348.76 273.50 
L 414.67 273.50 
" style="fill: none; stroke: #000000; stroke-width: 0.8; stroke-linejoin: miter; stroke-linecap: square"/>
   </g>
   <g id="patch_21">
    <path d="M 348.76 75.45 
L 414.67 75.45 
" style="fill: none; stroke: #000000; stroke-width: 0.8; stroke-linejoin: miter; stroke-linecap: square"/>
   </g>
  </g>
 </g>
 <defs><clipPath id="p3bd749fe86">
   <rect x="57.64" y="75.45" width="74.92" height="198.04"/>
  </clipPath>
  <clipPath id="p5bda3bf60a">
   <rect x="140.59" y="75.45" width="125.42" height="198.04"/>
  </clipPath>
  <clipPath id="p0adbd2e517">
   <rect x="273.98" y="75.45" width="66.72" height="198.04"/>
  </clipPath>
  <clipPath id="pbe0992e29f">
   <rect x="348.76" y="75.45" width="65.90" height="198.04"/>
  </clipPath>
 </defs>
</svg>

</body></html>
